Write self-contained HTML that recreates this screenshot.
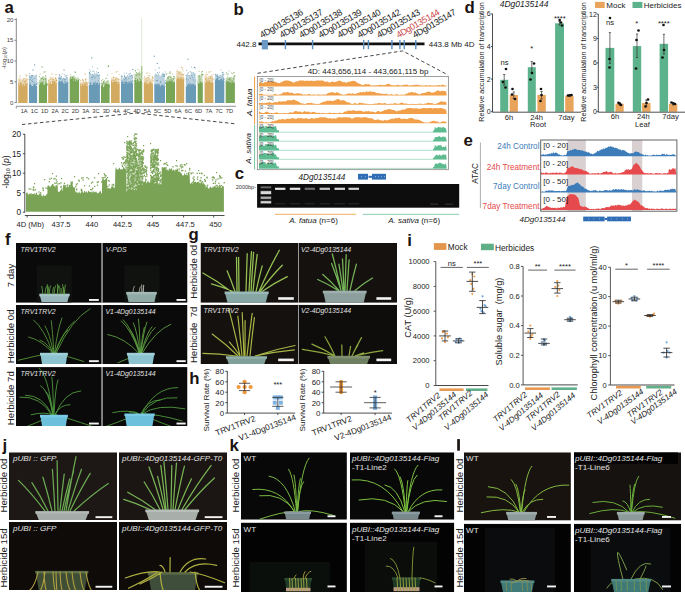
<!DOCTYPE html>
<html><head><meta charset="utf-8"><style>
html,body{margin:0;padding:0;background:#fff;}
body{width:685px;height:592px;overflow:hidden;}
svg{display:block;font-family:"Liberation Sans", sans-serif;}
</style></head><body>
<svg width="685" height="592" viewBox="0 0 685 592">
<rect width="685" height="592" fill="#fff"/>
<text x="4.5" y="12.6" font-size="16.8" fill="#1a1311" font-weight="bold">a</text>
<polygon points="18.2,85 18.2,79 19.1,78.2 20,80.4 20.9,77.8 21.8,79.9 22.7,79.1 23.6,77.8 24.5,79.8 25.4,77.7 26.3,79.5 27.2,77.8 27.6,85" fill="#d3ab60" opacity="0.45"/>
<polygon points="18.2,103 18.2,82.6 18.9,83.9 19.6,85.5 20.3,82.7 21,83.1 21.7,84.7 22.4,86 23.1,84.5 23.8,83.8 24.5,86.1 25.2,82.4 25.9,85.6 26.6,83.4 27.3,82.8 27.6,82.9 27.6,103" fill="#d3ab60"/>
<rect x="21.1" y="84.5" width="0.9" height="0.9" fill="#d3ab60"/>
<rect x="19.9" y="82.7" width="0.9" height="0.9" fill="#d3ab60"/>
<rect x="24.2" y="81.0" width="0.9" height="0.9" fill="#d3ab60"/>
<rect x="23.3" y="78.5" width="0.9" height="0.9" fill="#d3ab60"/>
<rect x="18.8" y="79.6" width="0.9" height="0.9" fill="#d3ab60"/>
<rect x="24.6" y="81.4" width="0.9" height="0.9" fill="#d3ab60"/>
<rect x="21.2" y="82.7" width="0.9" height="0.9" fill="#d3ab60"/>
<rect x="22.5" y="80.4" width="0.9" height="0.9" fill="#d3ab60"/>
<rect x="25.7" y="83.6" width="0.9" height="0.9" fill="#d3ab60"/>
<rect x="20.5" y="82.6" width="0.9" height="0.9" fill="#d3ab60"/>
<rect x="23.1" y="85.0" width="0.9" height="0.9" fill="#d3ab60"/>
<rect x="25.1" y="80.3" width="0.9" height="0.9" fill="#d3ab60"/>
<rect x="27.4" y="78.9" width="0.9" height="0.9" fill="#d3ab60"/>
<rect x="22.1" y="84.1" width="0.9" height="0.9" fill="#d3ab60"/>
<rect x="19.6" y="81.9" width="0.9" height="0.9" fill="#d3ab60"/>
<rect x="18.6" y="83.3" width="0.9" height="0.9" fill="#d3ab60"/>
<rect x="25.4" y="82.6" width="0.9" height="0.9" fill="#d3ab60"/>
<rect x="26.4" y="80.5" width="0.9" height="0.9" fill="#d3ab60"/>
<rect x="24.7" y="82.8" width="0.9" height="0.9" fill="#d3ab60"/>
<rect x="23.7" y="81.6" width="0.9" height="0.9" fill="#d3ab60"/>
<rect x="26.1" y="75.8" width="0.9" height="0.9" fill="#d3ab60" opacity="0.8"/>
<rect x="24.4" y="77.8" width="0.9" height="0.9" fill="#d3ab60" opacity="0.8"/>
<rect x="18.8" y="77.7" width="0.9" height="0.9" fill="#d3ab60" opacity="0.8"/>
<rect x="27.5" y="74.9" width="0.9" height="0.9" fill="#d3ab60" opacity="0.8"/>
<rect x="25.9" y="78.4" width="0.9" height="0.9" fill="#d3ab60" opacity="0.8"/>
<text x="24.2" y="113.1" font-size="5.7" fill="#333" text-anchor="middle">1A</text>
<polygon points="29,85 29,77.5 29.9,74.6 30.8,76.6 31.7,75.3 32.6,75 33.5,74.8 34.4,78 35.3,75.1 36.2,75.6 37.1,76.3 37.1,85" fill="#6a9bb6" opacity="0.45"/>
<polygon points="29,103 29,85.7 29.7,82.5 30.4,84 31.1,84.4 31.8,85.7 32.5,85.5 33.2,85.7 33.9,83.3 34.6,83.9 35.3,83.6 36,85.7 36.7,86 37.1,83 37.1,103" fill="#6a9bb6"/>
<rect x="30.4" y="77.6" width="0.9" height="0.9" fill="#6a9bb6"/>
<rect x="30.9" y="80.3" width="0.9" height="0.9" fill="#6a9bb6"/>
<rect x="33.8" y="77.9" width="0.9" height="0.9" fill="#6a9bb6"/>
<rect x="29.0" y="79.6" width="0.9" height="0.9" fill="#6a9bb6"/>
<rect x="32.0" y="81.2" width="0.9" height="0.9" fill="#6a9bb6"/>
<rect x="36.7" y="82.6" width="0.9" height="0.9" fill="#6a9bb6"/>
<rect x="33.2" y="81.8" width="0.9" height="0.9" fill="#6a9bb6"/>
<rect x="34.5" y="75.6" width="0.9" height="0.9" fill="#6a9bb6"/>
<rect x="36.3" y="83.6" width="0.9" height="0.9" fill="#6a9bb6"/>
<rect x="36.1" y="83.8" width="0.9" height="0.9" fill="#6a9bb6"/>
<rect x="32.2" y="79.4" width="0.9" height="0.9" fill="#6a9bb6"/>
<rect x="29.8" y="82.0" width="0.9" height="0.9" fill="#6a9bb6"/>
<rect x="29.5" y="75.7" width="0.9" height="0.9" fill="#6a9bb6"/>
<rect x="30.7" y="76.8" width="0.9" height="0.9" fill="#6a9bb6"/>
<rect x="31.8" y="75.6" width="0.9" height="0.9" fill="#6a9bb6"/>
<rect x="29.0" y="76.7" width="0.9" height="0.9" fill="#6a9bb6"/>
<rect x="29.8" y="79.0" width="0.9" height="0.9" fill="#6a9bb6"/>
<rect x="29.2" y="73.1" width="0.9" height="0.9" fill="#6a9bb6" opacity="0.8"/>
<rect x="36.1" y="74.7" width="0.9" height="0.9" fill="#6a9bb6" opacity="0.8"/>
<rect x="31.0" y="74.9" width="0.9" height="0.9" fill="#6a9bb6" opacity="0.8"/>
<rect x="31.8" y="75.0" width="0.9" height="0.9" fill="#6a9bb6" opacity="0.8"/>
<text x="34.5" y="113.1" font-size="5.7" fill="#333" text-anchor="middle">1C</text>
<polygon points="38.9,84 38.9,79.3 39.8,80 40.7,77.6 41.6,77.7 42.5,75.9 43.4,76 44.3,77 45.2,76.7 46.1,79.2 47,76.2 47,84" fill="#78a656" opacity="0.45"/>
<polygon points="38.9,103 38.9,81.3 39.6,85 40.3,83.3 41,81.8 41.7,83.4 42.4,81.3 43.1,83.3 43.8,85.1 44.5,84.7 45.2,84 45.9,82.2 46.6,82.7 47,82.1 47,103" fill="#78a656"/>
<rect x="45.2" y="80.8" width="0.9" height="0.9" fill="#78a656"/>
<rect x="45.2" y="79.0" width="0.9" height="0.9" fill="#78a656"/>
<rect x="40.7" y="83.3" width="0.9" height="0.9" fill="#78a656"/>
<rect x="46.9" y="83.7" width="0.9" height="0.9" fill="#78a656"/>
<rect x="45.4" y="83.4" width="0.9" height="0.9" fill="#78a656"/>
<rect x="44.9" y="78.0" width="0.9" height="0.9" fill="#78a656"/>
<rect x="43.1" y="79.2" width="0.9" height="0.9" fill="#78a656"/>
<rect x="39.1" y="76.3" width="0.9" height="0.9" fill="#78a656"/>
<rect x="41.2" y="78.3" width="0.9" height="0.9" fill="#78a656"/>
<rect x="44.5" y="84.6" width="0.9" height="0.9" fill="#78a656"/>
<rect x="42.5" y="84.4" width="0.9" height="0.9" fill="#78a656"/>
<rect x="46.9" y="84.6" width="0.9" height="0.9" fill="#78a656"/>
<rect x="41.9" y="78.0" width="0.9" height="0.9" fill="#78a656"/>
<rect x="40.7" y="77.8" width="0.9" height="0.9" fill="#78a656"/>
<rect x="40.6" y="81.6" width="0.9" height="0.9" fill="#78a656"/>
<rect x="46.2" y="83.6" width="0.9" height="0.9" fill="#78a656"/>
<rect x="42.8" y="81.9" width="0.9" height="0.9" fill="#78a656"/>
<rect x="45.4" y="75.8" width="0.9" height="0.9" fill="#78a656" opacity="0.8"/>
<rect x="39.6" y="73.5" width="0.9" height="0.9" fill="#78a656" opacity="0.8"/>
<rect x="45.2" y="71.4" width="0.9" height="0.9" fill="#78a656" opacity="0.8"/>
<rect x="45.0" y="75.1" width="0.9" height="0.9" fill="#78a656" opacity="0.8"/>
<text x="44.7" y="113.1" font-size="5.7" fill="#333" text-anchor="middle">1D</text>
<polygon points="48.2,83 48.2,80.1 49.1,78 50,80.1 50.9,80.9 51.8,78.3 52.7,78.3 53.6,80.8 54.5,79.8 55.4,77.3 56.3,77.1 56.9,83" fill="#d3ab60" opacity="0.45"/>
<polygon points="48.2,103 48.2,80.8 48.9,83.8 49.6,83.4 50.3,80.8 51,83.5 51.7,84.1 52.4,82.8 53.1,81.6 53.8,82.4 54.5,80.7 55.2,80.3 55.9,84.1 56.6,82.8 56.9,82.3 56.9,103" fill="#d3ab60"/>
<rect x="56.3" y="80.0" width="0.9" height="0.9" fill="#d3ab60"/>
<rect x="55.8" y="82.8" width="0.9" height="0.9" fill="#d3ab60"/>
<rect x="50.0" y="78.8" width="0.9" height="0.9" fill="#d3ab60"/>
<rect x="50.7" y="78.7" width="0.9" height="0.9" fill="#d3ab60"/>
<rect x="53.3" y="78.8" width="0.9" height="0.9" fill="#d3ab60"/>
<rect x="51.8" y="77.9" width="0.9" height="0.9" fill="#d3ab60"/>
<rect x="56.1" y="79.5" width="0.9" height="0.9" fill="#d3ab60"/>
<rect x="52.2" y="81.1" width="0.9" height="0.9" fill="#d3ab60"/>
<rect x="56.1" y="79.9" width="0.9" height="0.9" fill="#d3ab60"/>
<rect x="56.2" y="80.5" width="0.9" height="0.9" fill="#d3ab60"/>
<rect x="52.8" y="80.7" width="0.9" height="0.9" fill="#d3ab60"/>
<rect x="48.4" y="80.1" width="0.9" height="0.9" fill="#d3ab60"/>
<rect x="49.8" y="77.0" width="0.9" height="0.9" fill="#d3ab60"/>
<rect x="55.2" y="78.2" width="0.9" height="0.9" fill="#d3ab60"/>
<rect x="52.3" y="82.1" width="0.9" height="0.9" fill="#d3ab60"/>
<rect x="53.0" y="79.3" width="0.9" height="0.9" fill="#d3ab60"/>
<rect x="52.7" y="80.9" width="0.9" height="0.9" fill="#d3ab60"/>
<rect x="55.0" y="77.7" width="0.9" height="0.9" fill="#d3ab60"/>
<rect x="53.1" y="78.7" width="0.9" height="0.9" fill="#d3ab60"/>
<rect x="50.6" y="77.7" width="0.9" height="0.9" fill="#d3ab60" opacity="0.8"/>
<rect x="54.9" y="74.2" width="0.9" height="0.9" fill="#d3ab60" opacity="0.8"/>
<rect x="54.8" y="77.8" width="0.9" height="0.9" fill="#d3ab60" opacity="0.8"/>
<rect x="56.1" y="74.1" width="0.9" height="0.9" fill="#d3ab60" opacity="0.8"/>
<rect x="52.6" y="76.6" width="0.9" height="0.9" fill="#d3ab60" opacity="0.8"/>
<text x="55" y="113.1" font-size="5.7" fill="#333" text-anchor="middle">2A</text>
<polygon points="58.2,83 58.2,76.8 59.1,77.6 60,76.5 60.9,76.9 61.8,76.7 62.7,78.7 63.6,77.6 64.5,78.4 65.4,78.7 66.3,75.7 67.2,77 68.1,78.7 68.3,83" fill="#6a9bb6" opacity="0.45"/>
<polygon points="58.2,103 58.2,83.6 58.9,80.7 59.6,80.7 60.3,82 61,80.5 61.7,81.2 62.4,80.5 63.1,82.9 63.8,83.3 64.5,83.8 65.2,80.8 65.9,83.1 66.6,82.8 67.3,80.8 68,83.7 68.3,83.9 68.3,103" fill="#6a9bb6"/>
<rect x="60.4" y="83.6" width="0.9" height="0.9" fill="#6a9bb6"/>
<rect x="62.2" y="79.4" width="0.9" height="0.9" fill="#6a9bb6"/>
<rect x="68.2" y="82.5" width="0.9" height="0.9" fill="#6a9bb6"/>
<rect x="59.8" y="78.9" width="0.9" height="0.9" fill="#6a9bb6"/>
<rect x="63.4" y="78.1" width="0.9" height="0.9" fill="#6a9bb6"/>
<rect x="60.2" y="77.9" width="0.9" height="0.9" fill="#6a9bb6"/>
<rect x="65.5" y="75.2" width="0.9" height="0.9" fill="#6a9bb6"/>
<rect x="63.8" y="79.0" width="0.9" height="0.9" fill="#6a9bb6"/>
<rect x="58.4" y="78.0" width="0.9" height="0.9" fill="#6a9bb6"/>
<rect x="64.5" y="79.6" width="0.9" height="0.9" fill="#6a9bb6"/>
<rect x="58.8" y="83.9" width="0.9" height="0.9" fill="#6a9bb6"/>
<rect x="66.2" y="83.7" width="0.9" height="0.9" fill="#6a9bb6"/>
<rect x="59.3" y="77.4" width="0.9" height="0.9" fill="#6a9bb6"/>
<rect x="58.6" y="82.0" width="0.9" height="0.9" fill="#6a9bb6"/>
<rect x="60.9" y="76.2" width="0.9" height="0.9" fill="#6a9bb6"/>
<rect x="62.5" y="83.2" width="0.9" height="0.9" fill="#6a9bb6"/>
<rect x="66.5" y="77.3" width="0.9" height="0.9" fill="#6a9bb6"/>
<rect x="59.7" y="83.3" width="0.9" height="0.9" fill="#6a9bb6"/>
<rect x="64.0" y="81.3" width="0.9" height="0.9" fill="#6a9bb6"/>
<rect x="59.1" y="75.5" width="0.9" height="0.9" fill="#6a9bb6"/>
<rect x="65.2" y="78.8" width="0.9" height="0.9" fill="#6a9bb6"/>
<rect x="58.9" y="83.4" width="0.9" height="0.9" fill="#6a9bb6"/>
<rect x="64.6" y="75.6" width="0.9" height="0.9" fill="#6a9bb6" opacity="0.8"/>
<rect x="66.8" y="74.8" width="0.9" height="0.9" fill="#6a9bb6" opacity="0.8"/>
<rect x="58.9" y="73.9" width="0.9" height="0.9" fill="#6a9bb6" opacity="0.8"/>
<rect x="61.6" y="73.5" width="0.9" height="0.9" fill="#6a9bb6" opacity="0.8"/>
<rect x="63.8" y="73.9" width="0.9" height="0.9" fill="#6a9bb6" opacity="0.8"/>
<rect x="59.5" y="74.9" width="0.9" height="0.9" fill="#6a9bb6" opacity="0.8"/>
<text x="65.2" y="113.1" font-size="5.7" fill="#333" text-anchor="middle">2C</text>
<polygon points="69.7,81 69.7,77.9 70.6,76.6 71.5,76 72.4,76.2 73.3,75.7 74.2,76.4 75.1,76.9 76,76.9 76.9,78.9 77.8,76.8 78.7,77.8 79.1,81" fill="#78a656" opacity="0.45"/>
<polygon points="69.7,103 69.7,78.9 70.4,79.6 71.1,78.3 71.8,79.2 72.5,78.3 73.2,81.1 73.9,80.4 74.6,79 75.3,80.1 76,81.9 76.7,78.6 77.4,81.5 78.1,79.9 78.8,80.2 79.1,81.4 79.1,103" fill="#78a656"/>
<rect x="73.4" y="79.0" width="0.9" height="0.9" fill="#78a656"/>
<rect x="76.2" y="81.9" width="0.9" height="0.9" fill="#78a656"/>
<rect x="72.9" y="81.0" width="0.9" height="0.9" fill="#78a656"/>
<rect x="76.3" y="79.8" width="0.9" height="0.9" fill="#78a656"/>
<rect x="73.5" y="78.1" width="0.9" height="0.9" fill="#78a656"/>
<rect x="70.2" y="76.8" width="0.9" height="0.9" fill="#78a656"/>
<rect x="70.4" y="80.4" width="0.9" height="0.9" fill="#78a656"/>
<rect x="72.1" y="77.0" width="0.9" height="0.9" fill="#78a656"/>
<rect x="70.5" y="81.0" width="0.9" height="0.9" fill="#78a656"/>
<rect x="77.9" y="80.0" width="0.9" height="0.9" fill="#78a656"/>
<rect x="72.4" y="77.5" width="0.9" height="0.9" fill="#78a656"/>
<rect x="72.5" y="78.8" width="0.9" height="0.9" fill="#78a656"/>
<rect x="71.2" y="78.7" width="0.9" height="0.9" fill="#78a656"/>
<rect x="72.2" y="81.8" width="0.9" height="0.9" fill="#78a656"/>
<rect x="78.8" y="79.3" width="0.9" height="0.9" fill="#78a656"/>
<rect x="72.0" y="81.8" width="0.9" height="0.9" fill="#78a656"/>
<rect x="72.6" y="78.1" width="0.9" height="0.9" fill="#78a656"/>
<rect x="69.7" y="78.3" width="0.9" height="0.9" fill="#78a656"/>
<rect x="74.2" y="79.0" width="0.9" height="0.9" fill="#78a656"/>
<rect x="71.6" y="79.0" width="0.9" height="0.9" fill="#78a656"/>
<rect x="69.7" y="76.9" width="0.9" height="0.9" fill="#78a656" opacity="0.8"/>
<rect x="73.5" y="75.7" width="0.9" height="0.9" fill="#78a656" opacity="0.8"/>
<rect x="70.1" y="74.5" width="0.9" height="0.9" fill="#78a656" opacity="0.8"/>
<rect x="71.9" y="76.6" width="0.9" height="0.9" fill="#78a656" opacity="0.8"/>
<rect x="75.2" y="72.1" width="0.9" height="0.9" fill="#78a656" opacity="0.8"/>
<text x="75.5" y="113.1" font-size="5.7" fill="#333" text-anchor="middle">2D</text>
<polygon points="80.1,85 80.1,81.5 81,81.7 81.9,82.5 82.8,80.3 83.7,80 84.6,82.9 85.5,79.2 86.4,81.8 87.3,81.4 87.9,85" fill="#d3ab60" opacity="0.45"/>
<polygon points="80.1,103 80.1,82.4 80.8,85.5 81.5,85.8 82.2,84.7 82.9,85.1 83.6,85.4 84.3,82.8 85,84.3 85.7,84.2 86.4,85.5 87.1,85.4 87.8,85.5 87.9,84.5 87.9,103" fill="#d3ab60"/>
<rect x="87.1" y="83.8" width="0.9" height="0.9" fill="#d3ab60"/>
<rect x="85.5" y="80.6" width="0.9" height="0.9" fill="#d3ab60"/>
<rect x="80.3" y="79.9" width="0.9" height="0.9" fill="#d3ab60"/>
<rect x="82.9" y="79.7" width="0.9" height="0.9" fill="#d3ab60"/>
<rect x="86.6" y="82.9" width="0.9" height="0.9" fill="#d3ab60"/>
<rect x="85.0" y="83.4" width="0.9" height="0.9" fill="#d3ab60"/>
<rect x="85.4" y="82.4" width="0.9" height="0.9" fill="#d3ab60"/>
<rect x="80.1" y="84.6" width="0.9" height="0.9" fill="#d3ab60"/>
<rect x="85.9" y="82.5" width="0.9" height="0.9" fill="#d3ab60"/>
<rect x="84.3" y="83.6" width="0.9" height="0.9" fill="#d3ab60"/>
<rect x="80.6" y="84.2" width="0.9" height="0.9" fill="#d3ab60"/>
<rect x="82.1" y="79.5" width="0.9" height="0.9" fill="#d3ab60"/>
<rect x="82.2" y="84.1" width="0.9" height="0.9" fill="#d3ab60"/>
<rect x="81.7" y="84.2" width="0.9" height="0.9" fill="#d3ab60"/>
<rect x="87.7" y="82.5" width="0.9" height="0.9" fill="#d3ab60"/>
<rect x="83.1" y="82.4" width="0.9" height="0.9" fill="#d3ab60"/>
<rect x="85.4" y="84.4" width="0.9" height="0.9" fill="#d3ab60"/>
<rect x="84.9" y="79.1" width="0.9" height="0.9" fill="#d3ab60" opacity="0.8"/>
<rect x="85.1" y="78.5" width="0.9" height="0.9" fill="#d3ab60" opacity="0.8"/>
<rect x="82.1" y="79.2" width="0.9" height="0.9" fill="#d3ab60" opacity="0.8"/>
<rect x="85.9" y="78.7" width="0.9" height="0.9" fill="#d3ab60" opacity="0.8"/>
<text x="85.8" y="113.1" font-size="5.7" fill="#333" text-anchor="middle">3A</text>
<polygon points="88.8,84 88.8,71.6 89.7,71.8 90.6,72.7 91.5,74.5 92.4,74.6 93.3,74.5 94.2,72.8 95.1,73.8 96,73.6 96.9,73.6 97.8,72 98.7,75.5 99.6,72.4 99.9,84" fill="#6a9bb6" opacity="0.45"/>
<polygon points="88.8,103 88.8,85.1 89.5,84.9 90.2,81.3 90.9,83 91.6,84.5 92.3,85.1 93,83 93.7,82.3 94.4,82 95.1,85 95.8,82 96.5,83.5 97.2,81.8 97.9,83.3 98.6,85 99.3,81.7 99.9,84.4 99.9,103" fill="#6a9bb6"/>
<rect x="94.4" y="83.5" width="0.9" height="0.9" fill="#6a9bb6"/>
<rect x="96.6" y="75.0" width="0.9" height="0.9" fill="#6a9bb6"/>
<rect x="98.8" y="78.3" width="0.9" height="0.9" fill="#6a9bb6"/>
<rect x="89.1" y="72.0" width="0.9" height="0.9" fill="#6a9bb6"/>
<rect x="94.3" y="77.9" width="0.9" height="0.9" fill="#6a9bb6"/>
<rect x="92.2" y="73.8" width="0.9" height="0.9" fill="#6a9bb6"/>
<rect x="92.6" y="76.1" width="0.9" height="0.9" fill="#6a9bb6"/>
<rect x="98.1" y="72.0" width="0.9" height="0.9" fill="#6a9bb6"/>
<rect x="97.1" y="82.9" width="0.9" height="0.9" fill="#6a9bb6"/>
<rect x="90.1" y="84.0" width="0.9" height="0.9" fill="#6a9bb6"/>
<rect x="96.7" y="83.7" width="0.9" height="0.9" fill="#6a9bb6"/>
<rect x="92.0" y="76.8" width="0.9" height="0.9" fill="#6a9bb6"/>
<rect x="93.2" y="85.0" width="0.9" height="0.9" fill="#6a9bb6"/>
<rect x="95.3" y="76.7" width="0.9" height="0.9" fill="#6a9bb6"/>
<rect x="93.6" y="75.6" width="0.9" height="0.9" fill="#6a9bb6"/>
<rect x="89.3" y="73.3" width="0.9" height="0.9" fill="#6a9bb6"/>
<rect x="98.1" y="75.7" width="0.9" height="0.9" fill="#6a9bb6"/>
<rect x="99.2" y="75.2" width="0.9" height="0.9" fill="#6a9bb6"/>
<rect x="91.7" y="78.6" width="0.9" height="0.9" fill="#6a9bb6"/>
<rect x="90.9" y="76.9" width="0.9" height="0.9" fill="#6a9bb6"/>
<rect x="99.4" y="83.5" width="0.9" height="0.9" fill="#6a9bb6"/>
<rect x="97.8" y="80.2" width="0.9" height="0.9" fill="#6a9bb6"/>
<rect x="98.9" y="84.2" width="0.9" height="0.9" fill="#6a9bb6"/>
<rect x="94.9" y="81.4" width="0.9" height="0.9" fill="#6a9bb6"/>
<rect x="89.3" y="69.3" width="0.9" height="0.9" fill="#6a9bb6" opacity="0.8"/>
<rect x="96.9" y="68.2" width="0.9" height="0.9" fill="#6a9bb6" opacity="0.8"/>
<rect x="96.0" y="71.5" width="0.9" height="0.9" fill="#6a9bb6" opacity="0.8"/>
<rect x="92.0" y="66.5" width="0.9" height="0.9" fill="#6a9bb6" opacity="0.8"/>
<rect x="90.2" y="70.9" width="0.9" height="0.9" fill="#6a9bb6" opacity="0.8"/>
<rect x="94.0" y="71.6" width="0.9" height="0.9" fill="#6a9bb6" opacity="0.8"/>
<text x="96" y="113.1" font-size="5.7" fill="#333" text-anchor="middle">3C</text>
<polygon points="101,86 101,82.8 101.9,83.9 102.8,80.7 103.7,82.5 104.6,80.9 105.5,82 106.4,81.3 107.3,80.3 108.2,80.2 109.1,80.4 109.6,86" fill="#78a656" opacity="0.45"/>
<polygon points="101,103 101,86.8 101.7,85.2 102.4,84.1 103.1,86.8 103.8,87.2 104.5,85 105.2,83.8 105.9,84 106.6,83.6 107.3,84.6 108,83.6 108.7,84.2 109.4,84.2 109.6,85.5 109.6,103" fill="#78a656"/>
<rect x="108.6" y="85.2" width="0.9" height="0.9" fill="#78a656"/>
<rect x="104.5" y="82.9" width="0.9" height="0.9" fill="#78a656"/>
<rect x="105.5" y="82.6" width="0.9" height="0.9" fill="#78a656"/>
<rect x="103.9" y="80.4" width="0.9" height="0.9" fill="#78a656"/>
<rect x="103.4" y="86.8" width="0.9" height="0.9" fill="#78a656"/>
<rect x="102.1" y="83.5" width="0.9" height="0.9" fill="#78a656"/>
<rect x="106.4" y="86.0" width="0.9" height="0.9" fill="#78a656"/>
<rect x="102.9" y="81.9" width="0.9" height="0.9" fill="#78a656"/>
<rect x="103.1" y="82.8" width="0.9" height="0.9" fill="#78a656"/>
<rect x="104.8" y="86.7" width="0.9" height="0.9" fill="#78a656"/>
<rect x="108.3" y="86.1" width="0.9" height="0.9" fill="#78a656"/>
<rect x="101.2" y="80.2" width="0.9" height="0.9" fill="#78a656"/>
<rect x="107.1" y="86.3" width="0.9" height="0.9" fill="#78a656"/>
<rect x="105.1" y="84.1" width="0.9" height="0.9" fill="#78a656"/>
<rect x="101.0" y="82.7" width="0.9" height="0.9" fill="#78a656"/>
<rect x="109.0" y="85.8" width="0.9" height="0.9" fill="#78a656"/>
<rect x="108.4" y="86.8" width="0.9" height="0.9" fill="#78a656"/>
<rect x="103.1" y="80.8" width="0.9" height="0.9" fill="#78a656"/>
<rect x="102.3" y="78.9" width="0.9" height="0.9" fill="#78a656" opacity="0.8"/>
<rect x="105.5" y="78.0" width="0.9" height="0.9" fill="#78a656" opacity="0.8"/>
<rect x="107.2" y="74.5" width="0.9" height="0.9" fill="#78a656" opacity="0.8"/>
<rect x="106.6" y="80.7" width="0.9" height="0.9" fill="#78a656" opacity="0.8"/>
<rect x="105.7" y="77.7" width="0.9" height="0.9" fill="#78a656" opacity="0.8"/>
<text x="106.3" y="113.1" font-size="5.7" fill="#333" text-anchor="middle">3D</text>
<polygon points="111,83 111,76.7 111.9,80 112.8,77.5 113.7,80.6 114.6,79.4 115.5,77.9 116.4,77.1 117.3,77.6 118.2,79.4 119.1,79.6 119.7,83" fill="#d3ab60" opacity="0.45"/>
<polygon points="111,103 111,80.6 111.7,80.5 112.4,82.3 113.1,82.5 113.8,81.8 114.5,81.1 115.2,82.6 115.9,80.2 116.6,81.4 117.3,82 118,84 118.7,82.8 119.4,83.7 119.7,82.2 119.7,103" fill="#d3ab60"/>
<rect x="113.0" y="78.7" width="0.9" height="0.9" fill="#d3ab60"/>
<rect x="119.4" y="81.9" width="0.9" height="0.9" fill="#d3ab60"/>
<rect x="113.7" y="77.2" width="0.9" height="0.9" fill="#d3ab60"/>
<rect x="115.3" y="81.7" width="0.9" height="0.9" fill="#d3ab60"/>
<rect x="114.7" y="78.8" width="0.9" height="0.9" fill="#d3ab60"/>
<rect x="116.8" y="83.5" width="0.9" height="0.9" fill="#d3ab60"/>
<rect x="113.0" y="77.2" width="0.9" height="0.9" fill="#d3ab60"/>
<rect x="113.9" y="79.9" width="0.9" height="0.9" fill="#d3ab60"/>
<rect x="116.9" y="78.4" width="0.9" height="0.9" fill="#d3ab60"/>
<rect x="117.9" y="82.2" width="0.9" height="0.9" fill="#d3ab60"/>
<rect x="115.4" y="78.4" width="0.9" height="0.9" fill="#d3ab60"/>
<rect x="119.4" y="79.2" width="0.9" height="0.9" fill="#d3ab60"/>
<rect x="118.1" y="78.6" width="0.9" height="0.9" fill="#d3ab60"/>
<rect x="112.9" y="82.3" width="0.9" height="0.9" fill="#d3ab60"/>
<rect x="113.6" y="83.7" width="0.9" height="0.9" fill="#d3ab60"/>
<rect x="115.3" y="78.3" width="0.9" height="0.9" fill="#d3ab60"/>
<rect x="112.9" y="79.9" width="0.9" height="0.9" fill="#d3ab60"/>
<rect x="116.8" y="83.6" width="0.9" height="0.9" fill="#d3ab60"/>
<rect x="112.3" y="79.8" width="0.9" height="0.9" fill="#d3ab60"/>
<rect x="112.9" y="76.4" width="0.9" height="0.9" fill="#d3ab60" opacity="0.8"/>
<rect x="111.5" y="77.7" width="0.9" height="0.9" fill="#d3ab60" opacity="0.8"/>
<rect x="111.5" y="73.0" width="0.9" height="0.9" fill="#d3ab60" opacity="0.8"/>
<rect x="118.7" y="74.0" width="0.9" height="0.9" fill="#d3ab60" opacity="0.8"/>
<rect x="117.4" y="71.1" width="0.9" height="0.9" fill="#d3ab60" opacity="0.8"/>
<text x="116.5" y="113.1" font-size="5.7" fill="#333" text-anchor="middle">4A</text>
<polygon points="121,83 121,76 121.9,75.3 122.8,78.7 123.7,77.9 124.6,74.6 125.5,77.5 126.4,76.2 127.3,76.2 128.2,76 129.1,75.3 130,74.5 130.9,75.8 131.8,76.1 132.7,78.8 133,83" fill="#6a9bb6" opacity="0.45"/>
<polygon points="121,103 121,80.7 121.7,84.1 122.4,81 123.1,81.6 123.8,83.5 124.5,83.5 125.2,81.9 125.9,80.4 126.6,82.1 127.3,81.7 128,83.9 128.7,81 129.4,81.7 130.1,83.8 130.8,80.3 131.5,81.8 132.2,83.4 132.9,83.3 133,80.6 133,103" fill="#6a9bb6"/>
<rect x="121.4" y="75.6" width="0.9" height="0.9" fill="#6a9bb6"/>
<rect x="132.0" y="77.3" width="0.9" height="0.9" fill="#6a9bb6"/>
<rect x="130.0" y="83.1" width="0.9" height="0.9" fill="#6a9bb6"/>
<rect x="125.1" y="77.5" width="0.9" height="0.9" fill="#6a9bb6"/>
<rect x="132.5" y="80.6" width="0.9" height="0.9" fill="#6a9bb6"/>
<rect x="124.1" y="81.4" width="0.9" height="0.9" fill="#6a9bb6"/>
<rect x="124.8" y="77.5" width="0.9" height="0.9" fill="#6a9bb6"/>
<rect x="121.0" y="81.8" width="0.9" height="0.9" fill="#6a9bb6"/>
<rect x="132.0" y="80.7" width="0.9" height="0.9" fill="#6a9bb6"/>
<rect x="132.3" y="75.2" width="0.9" height="0.9" fill="#6a9bb6"/>
<rect x="123.8" y="79.3" width="0.9" height="0.9" fill="#6a9bb6"/>
<rect x="132.5" y="83.6" width="0.9" height="0.9" fill="#6a9bb6"/>
<rect x="125.6" y="77.3" width="0.9" height="0.9" fill="#6a9bb6"/>
<rect x="126.2" y="79.4" width="0.9" height="0.9" fill="#6a9bb6"/>
<rect x="132.1" y="76.6" width="0.9" height="0.9" fill="#6a9bb6"/>
<rect x="130.6" y="81.6" width="0.9" height="0.9" fill="#6a9bb6"/>
<rect x="130.9" y="82.0" width="0.9" height="0.9" fill="#6a9bb6"/>
<rect x="128.3" y="78.0" width="0.9" height="0.9" fill="#6a9bb6"/>
<rect x="124.8" y="78.3" width="0.9" height="0.9" fill="#6a9bb6"/>
<rect x="130.4" y="75.7" width="0.9" height="0.9" fill="#6a9bb6"/>
<rect x="123.4" y="81.8" width="0.9" height="0.9" fill="#6a9bb6"/>
<rect x="124.0" y="75.6" width="0.9" height="0.9" fill="#6a9bb6"/>
<rect x="121.4" y="80.0" width="0.9" height="0.9" fill="#6a9bb6"/>
<rect x="124.9" y="83.8" width="0.9" height="0.9" fill="#6a9bb6"/>
<rect x="131.6" y="83.9" width="0.9" height="0.9" fill="#6a9bb6"/>
<rect x="124.2" y="75.8" width="0.9" height="0.9" fill="#6a9bb6"/>
<rect x="122.2" y="75.9" width="0.9" height="0.9" fill="#6a9bb6" opacity="0.8"/>
<rect x="127.0" y="75.2" width="0.9" height="0.9" fill="#6a9bb6" opacity="0.8"/>
<rect x="123.8" y="72.8" width="0.9" height="0.9" fill="#6a9bb6" opacity="0.8"/>
<rect x="126.0" y="72.7" width="0.9" height="0.9" fill="#6a9bb6" opacity="0.8"/>
<rect x="130.0" y="72.9" width="0.9" height="0.9" fill="#6a9bb6" opacity="0.8"/>
<rect x="131.2" y="75.2" width="0.9" height="0.9" fill="#6a9bb6" opacity="0.8"/>
<rect x="131.1" y="74.7" width="0.9" height="0.9" fill="#6a9bb6" opacity="0.8"/>
<text x="126.8" y="113.1" font-size="5.7" fill="#333" text-anchor="middle">4C</text>
<polygon points="134.3,81 134.3,72.8 135.2,74.1 136.1,73.2 137,74.8 137.9,72.4 138.8,72.6 139.7,72.6 140.6,72.2 141.5,75.5 142.2,81" fill="#78a656" opacity="0.45"/>
<polygon points="134.3,103 134.3,80.5 135,79.5 135.7,79.8 136.4,82.2 137.1,80.2 137.8,79.1 138.5,81.4 139.2,80.8 139.9,82.2 140.6,78.6 141.3,80.1 142,81.5 142.2,81.4 142.2,103" fill="#78a656"/>
<rect x="141.5" y="72.4" width="0.9" height="0.9" fill="#78a656"/>
<rect x="136.6" y="73.2" width="0.9" height="0.9" fill="#78a656"/>
<rect x="135.8" y="81.7" width="0.9" height="0.9" fill="#78a656"/>
<rect x="138.9" y="81.3" width="0.9" height="0.9" fill="#78a656"/>
<rect x="137.2" y="80.7" width="0.9" height="0.9" fill="#78a656"/>
<rect x="137.8" y="74.6" width="0.9" height="0.9" fill="#78a656"/>
<rect x="140.4" y="81.5" width="0.9" height="0.9" fill="#78a656"/>
<rect x="135.1" y="78.0" width="0.9" height="0.9" fill="#78a656"/>
<rect x="139.2" y="74.2" width="0.9" height="0.9" fill="#78a656"/>
<rect x="137.2" y="73.4" width="0.9" height="0.9" fill="#78a656"/>
<rect x="135.9" y="74.5" width="0.9" height="0.9" fill="#78a656"/>
<rect x="139.0" y="78.5" width="0.9" height="0.9" fill="#78a656"/>
<rect x="135.9" y="72.1" width="0.9" height="0.9" fill="#78a656"/>
<rect x="136.9" y="78.8" width="0.9" height="0.9" fill="#78a656"/>
<rect x="135.8" y="75.1" width="0.9" height="0.9" fill="#78a656"/>
<rect x="135.9" y="80.0" width="0.9" height="0.9" fill="#78a656"/>
<rect x="138.6" y="72.6" width="0.9" height="0.9" fill="#78a656"/>
<rect x="135.1" y="70.0" width="0.9" height="0.9" fill="#78a656" opacity="0.8"/>
<rect x="139.3" y="70.7" width="0.9" height="0.9" fill="#78a656" opacity="0.8"/>
<rect x="135.0" y="70.6" width="0.9" height="0.9" fill="#78a656" opacity="0.8"/>
<rect x="137.5" y="69.0" width="0.9" height="0.9" fill="#78a656" opacity="0.8"/>
<text x="137.1" y="113.1" font-size="5.7" fill="#333" text-anchor="middle">4D</text>
<polygon points="143.8,84 143.8,76.8 144.7,76.9 145.6,79.8 146.5,76.9 147.4,78 148.3,77.1 149.2,77.4 150.1,79.4 151,80 151.9,77.1 152.8,76.4 153,84" fill="#d3ab60" opacity="0.45"/>
<polygon points="143.8,103 143.8,84.1 144.5,82 145.2,81.2 145.9,84.8 146.6,82.9 147.3,84.5 148,82.8 148.7,84.7 149.4,83 150.1,81.9 150.8,81.3 151.5,83.4 152.2,83.8 152.9,84.8 153,81.8 153,103" fill="#d3ab60"/>
<rect x="149.5" y="79.3" width="0.9" height="0.9" fill="#d3ab60"/>
<rect x="148.4" y="77.3" width="0.9" height="0.9" fill="#d3ab60"/>
<rect x="146.4" y="80.7" width="0.9" height="0.9" fill="#d3ab60"/>
<rect x="152.3" y="77.0" width="0.9" height="0.9" fill="#d3ab60"/>
<rect x="148.3" y="83.2" width="0.9" height="0.9" fill="#d3ab60"/>
<rect x="152.7" y="77.8" width="0.9" height="0.9" fill="#d3ab60"/>
<rect x="145.0" y="84.5" width="0.9" height="0.9" fill="#d3ab60"/>
<rect x="152.8" y="80.3" width="0.9" height="0.9" fill="#d3ab60"/>
<rect x="144.3" y="84.3" width="0.9" height="0.9" fill="#d3ab60"/>
<rect x="147.4" y="84.1" width="0.9" height="0.9" fill="#d3ab60"/>
<rect x="149.5" y="83.4" width="0.9" height="0.9" fill="#d3ab60"/>
<rect x="145.3" y="83.1" width="0.9" height="0.9" fill="#d3ab60"/>
<rect x="145.8" y="79.6" width="0.9" height="0.9" fill="#d3ab60"/>
<rect x="151.6" y="83.5" width="0.9" height="0.9" fill="#d3ab60"/>
<rect x="145.5" y="78.0" width="0.9" height="0.9" fill="#d3ab60"/>
<rect x="147.5" y="80.7" width="0.9" height="0.9" fill="#d3ab60"/>
<rect x="147.3" y="77.1" width="0.9" height="0.9" fill="#d3ab60"/>
<rect x="146.1" y="82.5" width="0.9" height="0.9" fill="#d3ab60"/>
<rect x="152.1" y="76.4" width="0.9" height="0.9" fill="#d3ab60"/>
<rect x="149.0" y="82.8" width="0.9" height="0.9" fill="#d3ab60"/>
<rect x="144.2" y="76.2" width="0.9" height="0.9" fill="#d3ab60" opacity="0.8"/>
<rect x="149.3" y="75.7" width="0.9" height="0.9" fill="#d3ab60" opacity="0.8"/>
<rect x="148.9" y="75.2" width="0.9" height="0.9" fill="#d3ab60" opacity="0.8"/>
<rect x="147.7" y="75.2" width="0.9" height="0.9" fill="#d3ab60" opacity="0.8"/>
<rect x="149.2" y="73.1" width="0.9" height="0.9" fill="#d3ab60" opacity="0.8"/>
<text x="147.3" y="113.1" font-size="5.7" fill="#333" text-anchor="middle">5A</text>
<polygon points="154.3,86 154.3,74.5 155.2,74.5 156.1,72.6 157,75.3 157.9,74.7 158.8,73.6 159.7,75.9 160.6,76 161.5,74.6 162.4,73.3 163.3,74.6 164.2,73 165,86" fill="#6a9bb6" opacity="0.45"/>
<polygon points="154.3,103 154.3,83.7 155,84.9 155.7,83.6 156.4,85 157.1,85.2 157.8,83.4 158.5,85.7 159.2,83.5 159.9,86.1 160.6,86.3 161.3,85.2 162,83.4 162.7,85.2 163.4,84.7 164.1,87 164.8,83.7 165,86.5 165,103" fill="#6a9bb6"/>
<rect x="165.0" y="83.2" width="0.9" height="0.9" fill="#6a9bb6"/>
<rect x="163.0" y="75.7" width="0.9" height="0.9" fill="#6a9bb6"/>
<rect x="164.8" y="79.9" width="0.9" height="0.9" fill="#6a9bb6"/>
<rect x="164.5" y="85.8" width="0.9" height="0.9" fill="#6a9bb6"/>
<rect x="156.1" y="84.0" width="0.9" height="0.9" fill="#6a9bb6"/>
<rect x="164.3" y="73.9" width="0.9" height="0.9" fill="#6a9bb6"/>
<rect x="158.1" y="83.6" width="0.9" height="0.9" fill="#6a9bb6"/>
<rect x="156.0" y="85.6" width="0.9" height="0.9" fill="#6a9bb6"/>
<rect x="157.2" y="84.4" width="0.9" height="0.9" fill="#6a9bb6"/>
<rect x="155.8" y="80.0" width="0.9" height="0.9" fill="#6a9bb6"/>
<rect x="164.1" y="75.9" width="0.9" height="0.9" fill="#6a9bb6"/>
<rect x="157.1" y="80.1" width="0.9" height="0.9" fill="#6a9bb6"/>
<rect x="157.7" y="73.5" width="0.9" height="0.9" fill="#6a9bb6"/>
<rect x="156.2" y="75.3" width="0.9" height="0.9" fill="#6a9bb6"/>
<rect x="164.3" y="82.5" width="0.9" height="0.9" fill="#6a9bb6"/>
<rect x="163.9" y="75.4" width="0.9" height="0.9" fill="#6a9bb6"/>
<rect x="162.7" y="74.6" width="0.9" height="0.9" fill="#6a9bb6"/>
<rect x="160.0" y="81.9" width="0.9" height="0.9" fill="#6a9bb6"/>
<rect x="158.1" y="85.2" width="0.9" height="0.9" fill="#6a9bb6"/>
<rect x="160.2" y="81.1" width="0.9" height="0.9" fill="#6a9bb6"/>
<rect x="163.7" y="74.5" width="0.9" height="0.9" fill="#6a9bb6"/>
<rect x="164.9" y="81.8" width="0.9" height="0.9" fill="#6a9bb6"/>
<rect x="158.5" y="84.2" width="0.9" height="0.9" fill="#6a9bb6"/>
<rect x="157.1" y="72.0" width="0.9" height="0.9" fill="#6a9bb6" opacity="0.8"/>
<rect x="164.9" y="71.5" width="0.9" height="0.9" fill="#6a9bb6" opacity="0.8"/>
<rect x="162.5" y="72.7" width="0.9" height="0.9" fill="#6a9bb6" opacity="0.8"/>
<rect x="159.0" y="71.8" width="0.9" height="0.9" fill="#6a9bb6" opacity="0.8"/>
<rect x="154.8" y="69.6" width="0.9" height="0.9" fill="#6a9bb6" opacity="0.8"/>
<rect x="163.1" y="73.9" width="0.9" height="0.9" fill="#6a9bb6" opacity="0.8"/>
<text x="157.6" y="113.1" font-size="5.7" fill="#333" text-anchor="middle">5C</text>
<polygon points="166,83 166,79.9 166.9,78.1 167.8,78.5 168.7,76.9 169.6,75.5 170.5,75.7 171.4,76.2 172.3,78.3 173.2,77.4 174.1,77.8 175,83" fill="#78a656" opacity="0.45"/>
<polygon points="166,103 166,83.8 166.7,80.7 167.4,81.1 168.1,82.8 168.8,80.3 169.5,80.2 170.2,81.6 170.9,80.6 171.6,81.6 172.3,81.1 173,82.5 173.7,82.6 174.4,81 175,82.7 175,103" fill="#78a656"/>
<rect x="170.3" y="77.1" width="0.9" height="0.9" fill="#78a656"/>
<rect x="174.4" y="77.9" width="0.9" height="0.9" fill="#78a656"/>
<rect x="167.3" y="76.8" width="0.9" height="0.9" fill="#78a656"/>
<rect x="171.7" y="83.0" width="0.9" height="0.9" fill="#78a656"/>
<rect x="173.0" y="79.2" width="0.9" height="0.9" fill="#78a656"/>
<rect x="168.4" y="76.1" width="0.9" height="0.9" fill="#78a656"/>
<rect x="171.8" y="80.5" width="0.9" height="0.9" fill="#78a656"/>
<rect x="169.2" y="81.2" width="0.9" height="0.9" fill="#78a656"/>
<rect x="170.0" y="83.5" width="0.9" height="0.9" fill="#78a656"/>
<rect x="172.6" y="78.0" width="0.9" height="0.9" fill="#78a656"/>
<rect x="174.1" y="76.4" width="0.9" height="0.9" fill="#78a656"/>
<rect x="170.8" y="79.2" width="0.9" height="0.9" fill="#78a656"/>
<rect x="168.1" y="76.5" width="0.9" height="0.9" fill="#78a656"/>
<rect x="173.0" y="76.1" width="0.9" height="0.9" fill="#78a656"/>
<rect x="171.0" y="83.5" width="0.9" height="0.9" fill="#78a656"/>
<rect x="167.3" y="77.6" width="0.9" height="0.9" fill="#78a656"/>
<rect x="171.5" y="80.1" width="0.9" height="0.9" fill="#78a656"/>
<rect x="171.8" y="82.5" width="0.9" height="0.9" fill="#78a656"/>
<rect x="167.6" y="78.5" width="0.9" height="0.9" fill="#78a656"/>
<rect x="168.7" y="72.7" width="0.9" height="0.9" fill="#78a656" opacity="0.8"/>
<rect x="166.4" y="73.0" width="0.9" height="0.9" fill="#78a656" opacity="0.8"/>
<rect x="172.4" y="73.6" width="0.9" height="0.9" fill="#78a656" opacity="0.8"/>
<rect x="166.1" y="74.2" width="0.9" height="0.9" fill="#78a656" opacity="0.8"/>
<rect x="170.2" y="72.9" width="0.9" height="0.9" fill="#78a656" opacity="0.8"/>
<text x="167.8" y="113.1" font-size="5.7" fill="#333" text-anchor="middle">5D</text>
<polygon points="176.2,79 176.2,73.8 177.1,72.5 178,71.5 178.9,71 179.8,71.5 180.7,70.7 181.6,72 182.5,73.9 183.4,73.6 184.2,79" fill="#d3ab60" opacity="0.45"/>
<polygon points="176.2,103 176.2,79.6 176.9,79 177.6,77.3 178.3,78.4 179,77.9 179.7,79.4 180.4,78.3 181.1,77.3 181.8,78.8 182.5,80.1 183.2,77.1 183.9,79.7 184.2,76.6 184.2,103" fill="#d3ab60"/>
<rect x="178.3" y="73.1" width="0.9" height="0.9" fill="#d3ab60"/>
<rect x="182.2" y="79.5" width="0.9" height="0.9" fill="#d3ab60"/>
<rect x="182.2" y="73.9" width="0.9" height="0.9" fill="#d3ab60"/>
<rect x="183.2" y="74.0" width="0.9" height="0.9" fill="#d3ab60"/>
<rect x="178.1" y="79.2" width="0.9" height="0.9" fill="#d3ab60"/>
<rect x="181.2" y="77.2" width="0.9" height="0.9" fill="#d3ab60"/>
<rect x="181.5" y="79.8" width="0.9" height="0.9" fill="#d3ab60"/>
<rect x="180.0" y="78.6" width="0.9" height="0.9" fill="#d3ab60"/>
<rect x="181.8" y="78.7" width="0.9" height="0.9" fill="#d3ab60"/>
<rect x="179.7" y="77.5" width="0.9" height="0.9" fill="#d3ab60"/>
<rect x="180.8" y="73.8" width="0.9" height="0.9" fill="#d3ab60"/>
<rect x="177.9" y="76.6" width="0.9" height="0.9" fill="#d3ab60"/>
<rect x="176.8" y="79.2" width="0.9" height="0.9" fill="#d3ab60"/>
<rect x="177.4" y="71.2" width="0.9" height="0.9" fill="#d3ab60"/>
<rect x="177.1" y="79.4" width="0.9" height="0.9" fill="#d3ab60"/>
<rect x="179.0" y="72.3" width="0.9" height="0.9" fill="#d3ab60"/>
<rect x="176.4" y="71.4" width="0.9" height="0.9" fill="#d3ab60"/>
<rect x="181.7" y="68.9" width="0.9" height="0.9" fill="#d3ab60" opacity="0.8"/>
<rect x="182.1" y="68.5" width="0.9" height="0.9" fill="#d3ab60" opacity="0.8"/>
<rect x="176.7" y="69.6" width="0.9" height="0.9" fill="#d3ab60" opacity="0.8"/>
<rect x="182.7" y="70.5" width="0.9" height="0.9" fill="#d3ab60" opacity="0.8"/>
<text x="178.1" y="113.1" font-size="5.7" fill="#333" text-anchor="middle">6A</text>
<polygon points="185.8,86 185.8,75.2 186.7,75.5 187.6,71.8 188.5,75.4 189.4,75.6 190.3,75.7 191.2,72 192.1,72.4 193,72 193.9,71.7 194.8,75.3 195.7,75.2 196,86" fill="#6a9bb6" opacity="0.45"/>
<polygon points="185.8,103 185.8,85.7 186.5,86.5 187.2,85.7 187.9,84.3 188.6,83.6 189.3,83.6 190,86.2 190.7,84 191.4,84.5 192.1,84.9 192.8,83.3 193.5,84.2 194.2,84.3 194.9,86.1 195.6,84.7 196,84.6 196,103" fill="#6a9bb6"/>
<rect x="195.6" y="79.6" width="0.9" height="0.9" fill="#6a9bb6"/>
<rect x="194.5" y="81.3" width="0.9" height="0.9" fill="#6a9bb6"/>
<rect x="186.1" y="78.2" width="0.9" height="0.9" fill="#6a9bb6"/>
<rect x="190.3" y="83.6" width="0.9" height="0.9" fill="#6a9bb6"/>
<rect x="189.3" y="82.6" width="0.9" height="0.9" fill="#6a9bb6"/>
<rect x="191.3" y="75.2" width="0.9" height="0.9" fill="#6a9bb6"/>
<rect x="194.6" y="73.4" width="0.9" height="0.9" fill="#6a9bb6"/>
<rect x="194.2" y="74.6" width="0.9" height="0.9" fill="#6a9bb6"/>
<rect x="185.8" y="75.0" width="0.9" height="0.9" fill="#6a9bb6"/>
<rect x="193.6" y="86.7" width="0.9" height="0.9" fill="#6a9bb6"/>
<rect x="185.8" y="79.4" width="0.9" height="0.9" fill="#6a9bb6"/>
<rect x="190.8" y="84.0" width="0.9" height="0.9" fill="#6a9bb6"/>
<rect x="187.7" y="79.4" width="0.9" height="0.9" fill="#6a9bb6"/>
<rect x="189.3" y="84.5" width="0.9" height="0.9" fill="#6a9bb6"/>
<rect x="188.5" y="86.2" width="0.9" height="0.9" fill="#6a9bb6"/>
<rect x="188.7" y="75.2" width="0.9" height="0.9" fill="#6a9bb6"/>
<rect x="192.9" y="79.5" width="0.9" height="0.9" fill="#6a9bb6"/>
<rect x="186.9" y="81.5" width="0.9" height="0.9" fill="#6a9bb6"/>
<rect x="186.6" y="83.8" width="0.9" height="0.9" fill="#6a9bb6"/>
<rect x="192.9" y="83.8" width="0.9" height="0.9" fill="#6a9bb6"/>
<rect x="192.2" y="77.3" width="0.9" height="0.9" fill="#6a9bb6"/>
<rect x="189.9" y="77.9" width="0.9" height="0.9" fill="#6a9bb6"/>
<rect x="194.9" y="67.6" width="0.9" height="0.9" fill="#6a9bb6" opacity="0.8"/>
<rect x="186.1" y="69.8" width="0.9" height="0.9" fill="#6a9bb6" opacity="0.8"/>
<rect x="187.9" y="72.5" width="0.9" height="0.9" fill="#6a9bb6" opacity="0.8"/>
<rect x="190.9" y="66.6" width="0.9" height="0.9" fill="#6a9bb6" opacity="0.8"/>
<rect x="189.7" y="71.4" width="0.9" height="0.9" fill="#6a9bb6" opacity="0.8"/>
<rect x="190.5" y="71.5" width="0.9" height="0.9" fill="#6a9bb6" opacity="0.8"/>
<text x="188.4" y="113.1" font-size="5.7" fill="#333" text-anchor="middle">6C</text>
<polygon points="197.7,83 197.7,74.9 198.6,75.9 199.5,75.9 200.4,75.4 201.3,74.1 202.2,74 202.8,83" fill="#78a656" opacity="0.45"/>
<polygon points="197.7,103 197.7,80.8 198.4,83.6 199.1,82.8 199.8,83.2 200.5,80.9 201.2,82 201.9,83.3 202.6,82.5 202.8,80.9 202.8,103" fill="#78a656"/>
<rect x="200.1" y="82.7" width="0.9" height="0.9" fill="#78a656"/>
<rect x="198.9" y="75.1" width="0.9" height="0.9" fill="#78a656"/>
<rect x="199.2" y="80.7" width="0.9" height="0.9" fill="#78a656"/>
<rect x="202.0" y="74.7" width="0.9" height="0.9" fill="#78a656"/>
<rect x="198.5" y="75.7" width="0.9" height="0.9" fill="#78a656"/>
<rect x="199.4" y="78.7" width="0.9" height="0.9" fill="#78a656"/>
<rect x="198.5" y="76.6" width="0.9" height="0.9" fill="#78a656"/>
<rect x="198.7" y="83.7" width="0.9" height="0.9" fill="#78a656"/>
<rect x="201.4" y="74.1" width="0.9" height="0.9" fill="#78a656"/>
<rect x="202.6" y="74.1" width="0.9" height="0.9" fill="#78a656"/>
<rect x="199.7" y="83.8" width="0.9" height="0.9" fill="#78a656"/>
<rect x="201.8" y="73.7" width="0.9" height="0.9" fill="#78a656" opacity="0.8"/>
<rect x="198.7" y="70.8" width="0.9" height="0.9" fill="#78a656" opacity="0.8"/>
<rect x="201.0" y="72.4" width="0.9" height="0.9" fill="#78a656" opacity="0.8"/>
<text x="198.6" y="113.1" font-size="5.7" fill="#333" text-anchor="middle">6D</text>
<polygon points="204.6,82 204.6,75.2 205.5,73.7 206.4,75.3 207.3,77.1 208.2,76.6 209.1,75.8 210,76.3 210.9,75.6 211.8,74.1 212.7,76.2 213.4,82" fill="#d3ab60" opacity="0.45"/>
<polygon points="204.6,103 204.6,80.8 205.3,82.2 206,82.8 206.7,80.9 207.4,81.5 208.1,82.2 208.8,80.9 209.5,80.1 210.2,82.1 210.9,82.7 211.6,82.3 212.3,82 213,82.6 213.4,81.9 213.4,103" fill="#d3ab60"/>
<rect x="210.2" y="78.1" width="0.9" height="0.9" fill="#d3ab60"/>
<rect x="207.4" y="79.7" width="0.9" height="0.9" fill="#d3ab60"/>
<rect x="205.5" y="77.8" width="0.9" height="0.9" fill="#d3ab60"/>
<rect x="211.5" y="80.4" width="0.9" height="0.9" fill="#d3ab60"/>
<rect x="210.1" y="76.3" width="0.9" height="0.9" fill="#d3ab60"/>
<rect x="208.3" y="78.1" width="0.9" height="0.9" fill="#d3ab60"/>
<rect x="210.1" y="77.7" width="0.9" height="0.9" fill="#d3ab60"/>
<rect x="210.5" y="82.4" width="0.9" height="0.9" fill="#d3ab60"/>
<rect x="206.2" y="79.9" width="0.9" height="0.9" fill="#d3ab60"/>
<rect x="211.4" y="77.5" width="0.9" height="0.9" fill="#d3ab60"/>
<rect x="208.9" y="82.8" width="0.9" height="0.9" fill="#d3ab60"/>
<rect x="204.9" y="78.9" width="0.9" height="0.9" fill="#d3ab60"/>
<rect x="206.0" y="81.0" width="0.9" height="0.9" fill="#d3ab60"/>
<rect x="212.9" y="78.7" width="0.9" height="0.9" fill="#d3ab60"/>
<rect x="205.5" y="79.2" width="0.9" height="0.9" fill="#d3ab60"/>
<rect x="209.4" y="80.5" width="0.9" height="0.9" fill="#d3ab60"/>
<rect x="209.1" y="79.8" width="0.9" height="0.9" fill="#d3ab60"/>
<rect x="211.9" y="78.7" width="0.9" height="0.9" fill="#d3ab60"/>
<rect x="208.2" y="82.5" width="0.9" height="0.9" fill="#d3ab60"/>
<rect x="206.4" y="73.7" width="0.9" height="0.9" fill="#d3ab60" opacity="0.8"/>
<rect x="210.6" y="71.0" width="0.9" height="0.9" fill="#d3ab60" opacity="0.8"/>
<rect x="205.7" y="71.8" width="0.9" height="0.9" fill="#d3ab60" opacity="0.8"/>
<rect x="213.3" y="74.4" width="0.9" height="0.9" fill="#d3ab60" opacity="0.8"/>
<rect x="207.0" y="74.2" width="0.9" height="0.9" fill="#d3ab60" opacity="0.8"/>
<text x="208.9" y="113.1" font-size="5.7" fill="#333" text-anchor="middle">7A</text>
<polygon points="214.9,80 214.9,75.3 215.8,73.6 216.7,75.4 217.6,75.4 218.5,76.6 219.4,75.1 220.3,74.7 221.2,74.5 222.1,76.8 223,77.7 223.9,75.9 224.3,80" fill="#6a9bb6" opacity="0.45"/>
<polygon points="214.9,103 214.9,78.1 215.6,80.4 216.3,78.8 217,78 217.7,77.7 218.4,80.3 219.1,80.4 219.8,79.7 220.5,79.1 221.2,79.4 221.9,78.1 222.6,81.1 223.3,78.6 224,79.8 224.3,80.4 224.3,103" fill="#6a9bb6"/>
<rect x="222.6" y="77.3" width="0.9" height="0.9" fill="#6a9bb6"/>
<rect x="217.7" y="77.8" width="0.9" height="0.9" fill="#6a9bb6"/>
<rect x="216.1" y="79.8" width="0.9" height="0.9" fill="#6a9bb6"/>
<rect x="218.2" y="80.0" width="0.9" height="0.9" fill="#6a9bb6"/>
<rect x="217.4" y="76.6" width="0.9" height="0.9" fill="#6a9bb6"/>
<rect x="217.3" y="77.0" width="0.9" height="0.9" fill="#6a9bb6"/>
<rect x="216.6" y="74.0" width="0.9" height="0.9" fill="#6a9bb6"/>
<rect x="221.7" y="76.0" width="0.9" height="0.9" fill="#6a9bb6"/>
<rect x="217.2" y="76.1" width="0.9" height="0.9" fill="#6a9bb6"/>
<rect x="219.4" y="77.0" width="0.9" height="0.9" fill="#6a9bb6"/>
<rect x="220.9" y="78.6" width="0.9" height="0.9" fill="#6a9bb6"/>
<rect x="218.3" y="80.5" width="0.9" height="0.9" fill="#6a9bb6"/>
<rect x="222.9" y="74.4" width="0.9" height="0.9" fill="#6a9bb6"/>
<rect x="222.7" y="80.3" width="0.9" height="0.9" fill="#6a9bb6"/>
<rect x="222.3" y="75.0" width="0.9" height="0.9" fill="#6a9bb6"/>
<rect x="222.7" y="78.4" width="0.9" height="0.9" fill="#6a9bb6"/>
<rect x="215.0" y="74.1" width="0.9" height="0.9" fill="#6a9bb6"/>
<rect x="223.8" y="78.6" width="0.9" height="0.9" fill="#6a9bb6"/>
<rect x="217.3" y="74.7" width="0.9" height="0.9" fill="#6a9bb6"/>
<rect x="216.2" y="75.6" width="0.9" height="0.9" fill="#6a9bb6"/>
<rect x="222.2" y="74.0" width="0.9" height="0.9" fill="#6a9bb6" opacity="0.8"/>
<rect x="223.4" y="73.6" width="0.9" height="0.9" fill="#6a9bb6" opacity="0.8"/>
<rect x="222.3" y="71.9" width="0.9" height="0.9" fill="#6a9bb6" opacity="0.8"/>
<rect x="220.6" y="69.5" width="0.9" height="0.9" fill="#6a9bb6" opacity="0.8"/>
<rect x="222.2" y="71.9" width="0.9" height="0.9" fill="#6a9bb6" opacity="0.8"/>
<text x="219.1" y="113.1" font-size="5.7" fill="#333" text-anchor="middle">7C</text>
<polygon points="225.7,83 225.7,78 226.6,78.3 227.5,75.4 228.4,77.6 229.3,76.9 230.2,77.8 231.1,76.5 232,78.5 232.9,77 233.8,75.7 234.7,75.6 234.9,83" fill="#78a656" opacity="0.45"/>
<polygon points="225.7,103 225.7,80.8 226.4,82.2 227.1,80.4 227.8,82.1 228.5,80.8 229.2,82.2 229.9,82.2 230.6,82.4 231.3,83.7 232,80.2 232.7,83.6 233.4,82.1 234.1,82.5 234.8,82.9 234.9,83.4 234.9,103" fill="#78a656"/>
<rect x="229.1" y="78.8" width="0.9" height="0.9" fill="#78a656"/>
<rect x="234.5" y="75.7" width="0.9" height="0.9" fill="#78a656"/>
<rect x="231.6" y="80.7" width="0.9" height="0.9" fill="#78a656"/>
<rect x="226.0" y="80.5" width="0.9" height="0.9" fill="#78a656"/>
<rect x="232.0" y="83.4" width="0.9" height="0.9" fill="#78a656"/>
<rect x="228.7" y="83.8" width="0.9" height="0.9" fill="#78a656"/>
<rect x="230.4" y="79.4" width="0.9" height="0.9" fill="#78a656"/>
<rect x="234.0" y="75.3" width="0.9" height="0.9" fill="#78a656"/>
<rect x="232.3" y="80.6" width="0.9" height="0.9" fill="#78a656"/>
<rect x="228.8" y="82.8" width="0.9" height="0.9" fill="#78a656"/>
<rect x="229.1" y="79.3" width="0.9" height="0.9" fill="#78a656"/>
<rect x="230.5" y="81.9" width="0.9" height="0.9" fill="#78a656"/>
<rect x="227.6" y="78.9" width="0.9" height="0.9" fill="#78a656"/>
<rect x="229.6" y="80.0" width="0.9" height="0.9" fill="#78a656"/>
<rect x="233.3" y="77.6" width="0.9" height="0.9" fill="#78a656"/>
<rect x="233.3" y="78.6" width="0.9" height="0.9" fill="#78a656"/>
<rect x="230.3" y="77.4" width="0.9" height="0.9" fill="#78a656"/>
<rect x="230.4" y="83.8" width="0.9" height="0.9" fill="#78a656"/>
<rect x="231.7" y="82.1" width="0.9" height="0.9" fill="#78a656"/>
<rect x="228.7" y="77.9" width="0.9" height="0.9" fill="#78a656"/>
<rect x="228.5" y="70.5" width="0.9" height="0.9" fill="#78a656" opacity="0.8"/>
<rect x="231.1" y="72.5" width="0.9" height="0.9" fill="#78a656" opacity="0.8"/>
<rect x="226.1" y="72.1" width="0.9" height="0.9" fill="#78a656" opacity="0.8"/>
<rect x="232.3" y="73.2" width="0.9" height="0.9" fill="#78a656" opacity="0.8"/>
<rect x="226.2" y="73.5" width="0.9" height="0.9" fill="#78a656" opacity="0.8"/>
<text x="229.4" y="113.1" font-size="5.7" fill="#333" text-anchor="middle">7D</text>
<rect x="34.0" y="64.4" width="1.1" height="1.1" fill="#6a9bb6"/>
<rect x="32.5" y="69.5" width="1.1" height="1.1" fill="#6a9bb6"/>
<rect x="41.5" y="66.4" width="1.1" height="1.1" fill="#78a656"/>
<rect x="43.5" y="71.5" width="1.1" height="1.1" fill="#78a656"/>
<rect x="91.1" y="57.3" width="1.1" height="1.1" fill="#6a9bb6"/>
<rect x="92.5" y="70.5" width="1.1" height="1.1" fill="#6a9bb6"/>
<rect x="108.0" y="65.4" width="1.1" height="1.1" fill="#78a656"/>
<rect x="107.7" y="65.9" width="1.1" height="1.1" fill="#78a656"/>
<rect x="132.2" y="69.0" width="1.1" height="1.1" fill="#6a9bb6"/>
<rect x="128.5" y="73.5" width="1.1" height="1.1" fill="#6a9bb6"/>
<rect x="153.7" y="55.7" width="1.1" height="1.1" fill="#6a9bb6"/>
<rect x="156.7" y="62.9" width="1.1" height="1.1" fill="#6a9bb6"/>
<rect x="158.5" y="67.5" width="1.1" height="1.1" fill="#6a9bb6"/>
<rect x="181.2" y="66.9" width="1.1" height="1.1" fill="#d3ab60"/>
<rect x="187.4" y="58.8" width="1.1" height="1.1" fill="#6a9bb6"/>
<rect x="193.9" y="66.9" width="1.1" height="1.1" fill="#6a9bb6"/>
<rect x="201.7" y="71.0" width="1.1" height="1.1" fill="#78a656"/>
<rect x="222.1" y="72.1" width="1.1" height="1.1" fill="#6a9bb6"/>
<rect x="233.4" y="72.1" width="1.1" height="1.1" fill="#78a656"/>
<rect x="19.5" y="75.5" width="1.1" height="1.1" fill="#d3ab60"/>
<rect x="25.5" y="74.5" width="1.1" height="1.1" fill="#d3ab60"/>
<rect x="51.5" y="73.5" width="1.1" height="1.1" fill="#d3ab60"/>
<rect x="63.5" y="69.5" width="1.1" height="1.1" fill="#6a9bb6"/>
<rect x="74.5" y="71.5" width="1.1" height="1.1" fill="#78a656"/>
<rect x="84.5" y="73.5" width="1.1" height="1.1" fill="#d3ab60"/>
<rect x="115.5" y="71.5" width="1.1" height="1.1" fill="#d3ab60"/>
<rect x="146.5" y="72.5" width="1.1" height="1.1" fill="#d3ab60"/>
<rect x="169.5" y="71.5" width="1.1" height="1.1" fill="#78a656"/>
<rect x="208.5" y="71.5" width="1.1" height="1.1" fill="#d3ab60"/>
<rect x="227.5" y="73.5" width="1.1" height="1.1" fill="#78a656"/>
<line x1="141.7" y1="18.5" x2="141.7" y2="66" stroke="#dfe9d6" stroke-width="1"/>
<line x1="141.7" y1="66" x2="141.7" y2="80" stroke="#9fc07f" stroke-width="1.2"/>
<line x1="16.3" y1="18.3" x2="16.3" y2="103" stroke="#555" stroke-width="0.7"/>
<line x1="14.5" y1="102.6" x2="16.3" y2="102.6" stroke="#555" stroke-width="0.7"/>
<text x="13.4" y="104.7" font-size="6" fill="#444" text-anchor="end">0</text>
<line x1="14.5" y1="81.8" x2="16.3" y2="81.8" stroke="#555" stroke-width="0.7"/>
<text x="13.4" y="84" font-size="6" fill="#444" text-anchor="end">5</text>
<line x1="14.5" y1="61" x2="16.3" y2="61" stroke="#555" stroke-width="0.7"/>
<text x="13.4" y="63.2" font-size="6" fill="#444" text-anchor="end">10</text>
<line x1="14.5" y1="40.3" x2="16.3" y2="40.3" stroke="#555" stroke-width="0.7"/>
<text x="13.4" y="42.4" font-size="6" fill="#444" text-anchor="end">15</text>
<line x1="14.5" y1="19.5" x2="16.3" y2="19.5" stroke="#555" stroke-width="0.7"/>
<text x="13.4" y="21.6" font-size="6" fill="#444" text-anchor="end">20</text>
<line x1="16.3" y1="106.3" x2="236" y2="106.3" stroke="#666" stroke-width="0.7"/>
<line x1="16.3" y1="106.3" x2="16.3" y2="108.5" stroke="#666" stroke-width="0.7"/>
<text x="0" y="0" font-size="6" fill="#444" text-anchor="middle" transform="translate(5.6 58) rotate(-90)">-log<tspan font-size="4" dy="1.2">10</tspan><tspan dy="-1.2">(</tspan><tspan font-style="italic">p</tspan>)</text>
<path d="M22,124.5 L136.6,113 L234.3,123.7" fill="none" stroke="#333" stroke-width="0.9" stroke-dasharray="3.5,2.5"/>
<polygon points="26,211.8 26,193.8 26.8,192.4 27.6,192.8 28.4,195.1 29.2,193.7 30,193.6 30.7,194.2 31.5,194.7 32.2,193.8 32.9,194 33.7,194.1 34.4,194.5 35.1,194.3 35.9,194.7 36.6,193.2 37.3,194.9 38.1,194.3 38.8,195.5 39.5,193.3 40.3,193.7 41,193.3 41.7,196 42.4,196.5 43.1,195.6 43.8,194.5 44.6,196.2 45.3,196 46,195.2 46.7,194.1 47.4,194.3 47.5,185.7 48.2,185.3 49,185.8 49.7,186.5 50.4,187.6 51.1,184.4 51.9,186.2 52.6,184.3 53.3,184.6 54.1,187.1 54.8,186.3 55.5,187.5 56.2,185.8 57,184.3 57.7,185.6 57.8,190.8 58.5,192.1 59.3,192.2 60,190.4 60.8,190.2 61.5,189.1 62.3,191 63,189.5 63.1,185.2 63.8,184.8 64.6,184.7 65.3,187.2 66.1,185.1 66.8,188.2 67.5,185 68.3,187.8 69,185.2 69.8,184.8 70.5,187.3 70.6,180.6 71.5,182.3 72.5,180.4 72.6,184.9 73.4,187.5 74.2,187.3 75,187.8 75.1,192.8 75.8,190.5 76.5,192.5 77.2,192.8 77.9,191.9 78.6,193.6 79.3,191.1 80.1,193.7 80.8,192.8 81.5,190.2 82.2,190.3 82.9,192.5 83.6,193.1 84.3,190.5 85,191.3 85.7,192.8 86.4,190.8 87.1,193.3 87.8,192 88.5,190.4 89.3,191.5 90,192.3 90.7,191.8 91.4,192.6 92.1,190.7 92.8,193.1 93.5,191.5 94.2,192.5 94.9,192.5 95.6,191.7 96.3,191.6 97,193 97.8,193.6 98.5,193 99.2,192.2 99.9,191.3 100.6,190.4 101.3,193.7 102,192.7 102.1,179.7 102.8,177.9 103.5,178.9 104.2,180.2 104.9,179.7 105.6,178.9 106.3,177.8 107,178.2 107.1,188.9 107.8,187.1 108.5,188.2 109.3,187.9 110,188.9 110.7,188.6 111.4,186.7 112.1,185.7 112.8,186.6 113.6,187.2 114.3,187.8 115,188.6 115.3,169.7 116,166.7 116.7,169.5 117.4,169.4 118.2,169.6 118.9,168.6 119.6,167.5 120.3,169.6 121,169.4 121.7,169 122.4,169.8 123.1,167.7 123.9,166.8 124.6,168.5 125.3,169.4 126,167.2 126.1,190.9 126.8,191.6 127.5,189 128.2,190.4 128.9,190.6 129.6,189.9 130.3,188.9 131,189.1 131.1,189.9 131.8,190 132.6,188.9 133.3,187.5 134.1,190.1 134.8,190 135.5,188 136.3,189.3 137,190.4 137.1,187.4 137.8,186.1 138.6,185.9 139.3,186.3 140.1,184.9 140.8,184.9 141.5,184.9 142.3,186.7 143,185.5 143.1,182.2 143.8,181.6 144.5,182.1 145.2,180.7 145.9,180.4 146.6,183.8 147.4,181.5 148.1,180.6 148.8,182.5 149.5,183 150.2,180.8 150.9,182.3 151.6,181.4 152.3,182.1 153,180.3 153.7,180.3 154.5,183.8 155.2,183.3 155.9,182 156.6,182.2 157.3,181.1 158,183 158.1,182.7 158.9,184.6 159.8,184 160.7,184.1 161.5,184.7 161.7,167.6 162.4,166.9 163.1,167.6 163.8,167.6 164.5,167.3 165.2,167.3 165.9,169.2 166.6,170.4 167.3,169 168,170.8 168.7,170.7 169.4,167.8 170.1,169.8 170.8,169.1 171.6,168.2 172.3,171.3 173,168.9 173.7,170 174.4,170.4 175.1,171.6 175.8,170.6 176.5,169.7 177.2,170 177.9,169 178.6,172 179.3,172.2 180,169.5 180.2,172.3 180.9,173.1 181.7,173.5 182.4,175.4 183.1,175.5 183.9,175.2 184.6,172.4 185.3,175 186,174.8 186.8,174.5 187.5,175.7 188.2,172.4 189,172.7 189.7,174.9 190,184.6 190.7,183.6 191.4,182.3 192.1,183.3 192.9,183.9 193.6,181.6 194.3,182.4 195,182.1 195.7,181.6 196.4,182.9 197.1,181.8 197.9,182.1 198.6,181.7 199.3,183.6 200,181.2 200.7,183.8 201.4,181.9 202.1,181.3 202.9,184.5 203.6,182 204.3,184.6 205,184.3 205.2,188.6 205.9,185.9 206.6,187 207.4,185.7 208.1,188.7 208.8,188.4 209.5,187.7 210.2,187 211,186.6 211.7,188.4 212.4,187.1 213.1,187.7 213.8,185.9 214.6,186.2 215.3,185.6 216,188 216.7,187.4 217.4,185.9 218.1,188.5 218.9,186.4 219.6,186.9 220.3,186 221,186.4 221.7,188.4 222.5,186.6 223.2,186 223.9,187.2 223.9,211.8" fill="#7aa356"/>
<polygon points="126,193 126,149.9 127,148.5 128,153.2 129,146.9 130,153.8 131,146.5 131,193" fill="#7aa356" opacity="0.35"/>
<polygon points="131,189 131,161.2 132,159.3 133,155.7 134,157.8 135,156.3 136,156.1 137,155.6 137,189" fill="#7aa356" opacity="0.35"/>
<polygon points="133.5,148 133.5,141.9 134.5,146.9 135.5,147 136,148" fill="#7aa356" opacity="0.35"/>
<polygon points="137,186 137,162.4 138,155.8 139,157.3 140,162.2 141,155.5 142,160.8 143,157.3 143,186" fill="#7aa356" opacity="0.35"/>
<polygon points="150,168 150,161.8 151,154.1 152,160.5 153,156.7 154,155.1 155,154 156,160.7 157,158.2 158,155.5 158,168" fill="#7aa356" opacity="0.35"/>
<polygon points="150,182 150,177.5 151,181.3 152,175.7 153,178.6 154,175.1 155,175.4 156,180.2 157,179.7 158,175.6 158,182" fill="#7aa356" opacity="0.35"/>
<rect x="121.4" y="157.0" width="1.3" height="1.3" fill="#7aa356"/>
<rect x="124.0" y="161.9" width="1.3" height="1.3" fill="#7aa356"/>
<rect x="122.4" y="158.5" width="1.3" height="1.3" fill="#7aa356"/>
<rect x="124.1" y="164.5" width="1.3" height="1.3" fill="#7aa356"/>
<rect x="125.1" y="163.0" width="1.3" height="1.3" fill="#7aa356"/>
<rect x="122.0" y="156.8" width="1.3" height="1.3" fill="#7aa356"/>
<rect x="124.7" y="160.9" width="1.3" height="1.3" fill="#7aa356"/>
<rect x="124.6" y="156.7" width="1.3" height="1.3" fill="#7aa356"/>
<rect x="125.1" y="160.0" width="1.3" height="1.3" fill="#7aa356"/>
<rect x="125.2" y="166.4" width="1.3" height="1.3" fill="#7aa356"/>
<rect x="123.5" y="156.2" width="1.3" height="1.3" fill="#7aa356"/>
<rect x="125.6" y="161.7" width="1.3" height="1.3" fill="#7aa356"/>
<rect x="125.4" y="159.2" width="1.3" height="1.3" fill="#7aa356"/>
<rect x="121.9" y="166.0" width="1.3" height="1.3" fill="#7aa356"/>
<rect x="122.8" y="158.0" width="1.3" height="1.3" fill="#7aa356"/>
<rect x="122.9" y="163.1" width="1.3" height="1.3" fill="#7aa356"/>
<rect x="121.0" y="162.2" width="1.3" height="1.3" fill="#7aa356"/>
<rect x="123.2" y="162.2" width="1.3" height="1.3" fill="#7aa356"/>
<rect x="121.6" y="164.6" width="1.3" height="1.3" fill="#7aa356"/>
<rect x="130.1" y="185.9" width="1.3" height="1.3" fill="#7aa356"/>
<rect x="127.6" y="177.7" width="1.3" height="1.3" fill="#7aa356"/>
<rect x="127.9" y="179.8" width="1.3" height="1.3" fill="#7aa356"/>
<rect x="126.3" y="186.3" width="1.3" height="1.3" fill="#7aa356"/>
<rect x="130.8" y="166.2" width="1.3" height="1.3" fill="#7aa356"/>
<rect x="128.6" y="168.1" width="1.3" height="1.3" fill="#7aa356"/>
<rect x="128.7" y="141.1" width="1.3" height="1.3" fill="#7aa356"/>
<rect x="130.8" y="151.9" width="1.3" height="1.3" fill="#7aa356"/>
<rect x="126.9" y="145.4" width="1.3" height="1.3" fill="#7aa356"/>
<rect x="127.3" y="183.3" width="1.3" height="1.3" fill="#7aa356"/>
<rect x="126.2" y="145.1" width="1.3" height="1.3" fill="#7aa356"/>
<rect x="129.5" y="150.3" width="1.3" height="1.3" fill="#7aa356"/>
<rect x="126.1" y="171.8" width="1.3" height="1.3" fill="#7aa356"/>
<rect x="128.9" y="167.7" width="1.3" height="1.3" fill="#7aa356"/>
<rect x="129.5" y="145.5" width="1.3" height="1.3" fill="#7aa356"/>
<rect x="130.3" y="178.0" width="1.3" height="1.3" fill="#7aa356"/>
<rect x="126.2" y="146.5" width="1.3" height="1.3" fill="#7aa356"/>
<rect x="128.5" y="166.5" width="1.3" height="1.3" fill="#7aa356"/>
<rect x="127.4" y="146.5" width="1.3" height="1.3" fill="#7aa356"/>
<rect x="128.0" y="147.3" width="1.3" height="1.3" fill="#7aa356"/>
<rect x="129.0" y="185.6" width="1.3" height="1.3" fill="#7aa356"/>
<rect x="126.7" y="170.4" width="1.3" height="1.3" fill="#7aa356"/>
<rect x="129.7" y="148.7" width="1.3" height="1.3" fill="#7aa356"/>
<rect x="130.1" y="189.7" width="1.3" height="1.3" fill="#7aa356"/>
<rect x="127.9" y="162.3" width="1.3" height="1.3" fill="#7aa356"/>
<rect x="130.2" y="167.9" width="1.3" height="1.3" fill="#7aa356"/>
<rect x="128.0" y="189.9" width="1.3" height="1.3" fill="#7aa356"/>
<rect x="129.9" y="157.9" width="1.3" height="1.3" fill="#7aa356"/>
<rect x="127.2" y="157.8" width="1.3" height="1.3" fill="#7aa356"/>
<rect x="128.2" y="192.0" width="1.3" height="1.3" fill="#7aa356"/>
<rect x="130.0" y="188.4" width="1.3" height="1.3" fill="#7aa356"/>
<rect x="130.1" y="184.9" width="1.3" height="1.3" fill="#7aa356"/>
<rect x="126.3" y="167.4" width="1.3" height="1.3" fill="#7aa356"/>
<rect x="130.8" y="189.5" width="1.3" height="1.3" fill="#7aa356"/>
<rect x="127.2" y="162.4" width="1.3" height="1.3" fill="#7aa356"/>
<rect x="129.2" y="159.3" width="1.3" height="1.3" fill="#7aa356"/>
<rect x="128.7" y="143.7" width="1.3" height="1.3" fill="#7aa356"/>
<rect x="128.2" y="166.8" width="1.3" height="1.3" fill="#7aa356"/>
<rect x="126.1" y="147.4" width="1.3" height="1.3" fill="#7aa356"/>
<rect x="130.8" y="181.2" width="1.3" height="1.3" fill="#7aa356"/>
<rect x="130.7" y="173.6" width="1.3" height="1.3" fill="#7aa356"/>
<rect x="130.0" y="186.9" width="1.3" height="1.3" fill="#7aa356"/>
<rect x="130.4" y="141.8" width="1.3" height="1.3" fill="#7aa356"/>
<rect x="129.2" y="154.1" width="1.3" height="1.3" fill="#7aa356"/>
<rect x="129.4" y="154.5" width="1.3" height="1.3" fill="#7aa356"/>
<rect x="128.7" y="189.0" width="1.3" height="1.3" fill="#7aa356"/>
<rect x="129.1" y="153.3" width="1.3" height="1.3" fill="#7aa356"/>
<rect x="128.6" y="163.0" width="1.3" height="1.3" fill="#7aa356"/>
<rect x="130.8" y="155.2" width="1.3" height="1.3" fill="#7aa356"/>
<rect x="127.5" y="174.3" width="1.3" height="1.3" fill="#7aa356"/>
<rect x="126.6" y="171.5" width="1.3" height="1.3" fill="#7aa356"/>
<rect x="130.8" y="167.2" width="1.3" height="1.3" fill="#7aa356"/>
<rect x="127.3" y="164.7" width="1.3" height="1.3" fill="#7aa356"/>
<rect x="128.7" y="147.9" width="1.3" height="1.3" fill="#7aa356"/>
<rect x="126.6" y="147.0" width="1.3" height="1.3" fill="#7aa356"/>
<rect x="127.5" y="161.5" width="1.3" height="1.3" fill="#7aa356"/>
<rect x="127.4" y="152.9" width="1.3" height="1.3" fill="#7aa356"/>
<rect x="126.4" y="169.0" width="1.3" height="1.3" fill="#7aa356"/>
<rect x="130.2" y="172.3" width="1.3" height="1.3" fill="#7aa356"/>
<rect x="128.9" y="174.5" width="1.3" height="1.3" fill="#7aa356"/>
<rect x="127.0" y="177.6" width="1.3" height="1.3" fill="#7aa356"/>
<rect x="128.3" y="169.0" width="1.3" height="1.3" fill="#7aa356"/>
<rect x="129.1" y="164.9" width="1.3" height="1.3" fill="#7aa356"/>
<rect x="127.6" y="152.8" width="1.3" height="1.3" fill="#7aa356"/>
<rect x="127.1" y="167.2" width="1.3" height="1.3" fill="#7aa356"/>
<rect x="127.9" y="171.0" width="1.3" height="1.3" fill="#7aa356"/>
<rect x="126.1" y="158.7" width="1.3" height="1.3" fill="#7aa356"/>
<rect x="130.3" y="152.6" width="1.3" height="1.3" fill="#7aa356"/>
<rect x="128.8" y="166.0" width="1.3" height="1.3" fill="#7aa356"/>
<rect x="127.4" y="192.3" width="1.3" height="1.3" fill="#7aa356"/>
<rect x="127.5" y="180.9" width="1.3" height="1.3" fill="#7aa356"/>
<rect x="126.8" y="143.5" width="1.3" height="1.3" fill="#7aa356"/>
<rect x="130.4" y="163.3" width="1.3" height="1.3" fill="#7aa356"/>
<rect x="126.3" y="160.6" width="1.3" height="1.3" fill="#7aa356"/>
<rect x="128.2" y="179.0" width="1.3" height="1.3" fill="#7aa356"/>
<rect x="126.5" y="151.9" width="1.3" height="1.3" fill="#7aa356"/>
<rect x="130.8" y="179.1" width="1.3" height="1.3" fill="#7aa356"/>
<rect x="126.8" y="157.9" width="1.3" height="1.3" fill="#7aa356"/>
<rect x="127.8" y="175.8" width="1.3" height="1.3" fill="#7aa356"/>
<rect x="129.1" y="185.0" width="1.3" height="1.3" fill="#7aa356"/>
<rect x="130.1" y="167.4" width="1.3" height="1.3" fill="#7aa356"/>
<rect x="129.7" y="179.4" width="1.3" height="1.3" fill="#7aa356"/>
<rect x="129.8" y="165.2" width="1.3" height="1.3" fill="#7aa356"/>
<rect x="129.9" y="177.6" width="1.3" height="1.3" fill="#7aa356"/>
<rect x="130.6" y="146.7" width="1.3" height="1.3" fill="#7aa356"/>
<rect x="130.4" y="140.2" width="1.3" height="1.3" fill="#7aa356"/>
<rect x="129.8" y="171.0" width="1.3" height="1.3" fill="#7aa356"/>
<rect x="128.5" y="191.0" width="1.3" height="1.3" fill="#7aa356"/>
<rect x="128.9" y="162.1" width="1.3" height="1.3" fill="#7aa356"/>
<rect x="129.9" y="186.3" width="1.3" height="1.3" fill="#7aa356"/>
<rect x="129.0" y="160.1" width="1.3" height="1.3" fill="#7aa356"/>
<rect x="128.3" y="164.3" width="1.3" height="1.3" fill="#7aa356"/>
<rect x="129.6" y="155.5" width="1.3" height="1.3" fill="#7aa356"/>
<rect x="128.0" y="169.4" width="1.3" height="1.3" fill="#7aa356"/>
<rect x="127.9" y="157.1" width="1.3" height="1.3" fill="#7aa356"/>
<rect x="129.9" y="185.0" width="1.3" height="1.3" fill="#7aa356"/>
<rect x="128.5" y="163.5" width="1.3" height="1.3" fill="#7aa356"/>
<rect x="126.9" y="156.1" width="1.3" height="1.3" fill="#7aa356"/>
<rect x="126.7" y="170.5" width="1.3" height="1.3" fill="#7aa356"/>
<rect x="128.9" y="144.7" width="1.3" height="1.3" fill="#7aa356"/>
<rect x="130.6" y="157.2" width="1.3" height="1.3" fill="#7aa356"/>
<rect x="130.2" y="184.4" width="1.3" height="1.3" fill="#7aa356"/>
<rect x="130.8" y="150.8" width="1.3" height="1.3" fill="#7aa356"/>
<rect x="128.1" y="188.3" width="1.3" height="1.3" fill="#7aa356"/>
<rect x="126.1" y="142.5" width="1.3" height="1.3" fill="#7aa356"/>
<rect x="128.8" y="166.4" width="1.3" height="1.3" fill="#7aa356"/>
<rect x="130.6" y="181.0" width="1.3" height="1.3" fill="#7aa356"/>
<rect x="128.7" y="192.9" width="1.3" height="1.3" fill="#7aa356"/>
<rect x="128.6" y="167.4" width="1.3" height="1.3" fill="#7aa356"/>
<rect x="129.4" y="160.6" width="1.3" height="1.3" fill="#7aa356"/>
<rect x="127.8" y="171.5" width="1.3" height="1.3" fill="#7aa356"/>
<rect x="127.8" y="190.2" width="1.3" height="1.3" fill="#7aa356"/>
<rect x="129.4" y="167.8" width="1.3" height="1.3" fill="#7aa356"/>
<rect x="126.5" y="159.8" width="1.3" height="1.3" fill="#7aa356"/>
<rect x="128.0" y="169.8" width="1.3" height="1.3" fill="#7aa356"/>
<rect x="128.9" y="186.6" width="1.3" height="1.3" fill="#7aa356"/>
<rect x="130.8" y="165.8" width="1.3" height="1.3" fill="#7aa356"/>
<rect x="128.2" y="173.1" width="1.3" height="1.3" fill="#7aa356"/>
<rect x="131.0" y="158.2" width="1.3" height="1.3" fill="#7aa356"/>
<rect x="128.7" y="183.2" width="1.3" height="1.3" fill="#7aa356"/>
<rect x="126.9" y="156.9" width="1.3" height="1.3" fill="#7aa356"/>
<rect x="130.9" y="183.8" width="1.3" height="1.3" fill="#7aa356"/>
<rect x="128.6" y="145.9" width="1.3" height="1.3" fill="#7aa356"/>
<rect x="130.5" y="176.6" width="1.3" height="1.3" fill="#7aa356"/>
<rect x="130.1" y="192.5" width="1.3" height="1.3" fill="#7aa356"/>
<rect x="130.4" y="162.3" width="1.3" height="1.3" fill="#7aa356"/>
<rect x="126.8" y="155.4" width="1.3" height="1.3" fill="#7aa356"/>
<rect x="128.6" y="166.8" width="1.3" height="1.3" fill="#7aa356"/>
<rect x="126.9" y="149.7" width="1.3" height="1.3" fill="#7aa356"/>
<rect x="129.2" y="172.0" width="1.3" height="1.3" fill="#7aa356"/>
<rect x="127.8" y="192.7" width="1.3" height="1.3" fill="#7aa356"/>
<rect x="129.2" y="142.2" width="1.3" height="1.3" fill="#7aa356"/>
<rect x="128.1" y="181.7" width="1.3" height="1.3" fill="#7aa356"/>
<rect x="127.5" y="176.6" width="1.3" height="1.3" fill="#7aa356"/>
<rect x="126.0" y="156.1" width="1.3" height="1.3" fill="#7aa356"/>
<rect x="130.2" y="171.1" width="1.3" height="1.3" fill="#7aa356"/>
<rect x="129.3" y="150.4" width="1.3" height="1.3" fill="#7aa356"/>
<rect x="128.5" y="169.3" width="1.3" height="1.3" fill="#7aa356"/>
<rect x="127.3" y="174.3" width="1.3" height="1.3" fill="#7aa356"/>
<rect x="128.7" y="192.8" width="1.3" height="1.3" fill="#7aa356"/>
<rect x="128.9" y="161.8" width="1.3" height="1.3" fill="#7aa356"/>
<rect x="126.6" y="148.3" width="1.3" height="1.3" fill="#7aa356"/>
<rect x="129.8" y="145.7" width="1.3" height="1.3" fill="#7aa356"/>
<rect x="126.5" y="149.0" width="1.3" height="1.3" fill="#7aa356"/>
<rect x="128.6" y="183.6" width="1.3" height="1.3" fill="#7aa356"/>
<rect x="129.1" y="182.7" width="1.3" height="1.3" fill="#7aa356"/>
<rect x="126.3" y="140.7" width="1.3" height="1.3" fill="#7aa356"/>
<rect x="129.9" y="157.1" width="1.3" height="1.3" fill="#7aa356"/>
<rect x="129.6" y="158.8" width="1.3" height="1.3" fill="#7aa356"/>
<rect x="126.8" y="154.1" width="1.3" height="1.3" fill="#7aa356"/>
<rect x="126.5" y="187.9" width="1.3" height="1.3" fill="#7aa356"/>
<rect x="128.9" y="158.5" width="1.3" height="1.3" fill="#7aa356"/>
<rect x="128.2" y="160.4" width="1.3" height="1.3" fill="#7aa356"/>
<rect x="126.3" y="187.2" width="1.3" height="1.3" fill="#7aa356"/>
<rect x="128.9" y="190.9" width="1.3" height="1.3" fill="#7aa356"/>
<rect x="128.2" y="172.9" width="1.3" height="1.3" fill="#7aa356"/>
<rect x="127.2" y="142.3" width="1.3" height="1.3" fill="#7aa356"/>
<rect x="130.7" y="185.3" width="1.3" height="1.3" fill="#7aa356"/>
<rect x="127.6" y="187.6" width="1.3" height="1.3" fill="#7aa356"/>
<rect x="130.1" y="156.1" width="1.3" height="1.3" fill="#7aa356"/>
<rect x="129.0" y="190.9" width="1.3" height="1.3" fill="#7aa356"/>
<rect x="128.5" y="190.3" width="1.3" height="1.3" fill="#7aa356"/>
<rect x="127.2" y="160.7" width="1.3" height="1.3" fill="#7aa356"/>
<rect x="129.6" y="151.7" width="1.3" height="1.3" fill="#7aa356"/>
<rect x="127.5" y="186.4" width="1.3" height="1.3" fill="#7aa356"/>
<rect x="128.4" y="182.0" width="1.3" height="1.3" fill="#7aa356"/>
<rect x="127.2" y="149.2" width="1.3" height="1.3" fill="#7aa356"/>
<rect x="127.8" y="149.9" width="1.3" height="1.3" fill="#7aa356"/>
<rect x="130.9" y="155.4" width="1.3" height="1.3" fill="#7aa356"/>
<rect x="128.8" y="146.1" width="1.3" height="1.3" fill="#7aa356"/>
<rect x="128.7" y="160.4" width="1.3" height="1.3" fill="#7aa356"/>
<rect x="128.0" y="143.5" width="1.3" height="1.3" fill="#7aa356"/>
<rect x="126.6" y="183.8" width="1.3" height="1.3" fill="#7aa356"/>
<rect x="127.8" y="153.0" width="1.3" height="1.3" fill="#7aa356"/>
<rect x="127.0" y="155.0" width="1.3" height="1.3" fill="#7aa356"/>
<rect x="127.2" y="141.9" width="1.3" height="1.3" fill="#7aa356"/>
<rect x="129.3" y="158.1" width="1.3" height="1.3" fill="#7aa356"/>
<rect x="126.8" y="177.4" width="1.3" height="1.3" fill="#7aa356"/>
<rect x="126.5" y="154.3" width="1.3" height="1.3" fill="#7aa356"/>
<rect x="130.2" y="146.8" width="1.3" height="1.3" fill="#7aa356"/>
<rect x="133.7" y="182.3" width="1.3" height="1.3" fill="#7aa356"/>
<rect x="135.8" y="154.5" width="1.3" height="1.3" fill="#7aa356"/>
<rect x="133.1" y="177.6" width="1.3" height="1.3" fill="#7aa356"/>
<rect x="133.3" y="187.3" width="1.3" height="1.3" fill="#7aa356"/>
<rect x="132.2" y="187.0" width="1.3" height="1.3" fill="#7aa356"/>
<rect x="134.0" y="157.3" width="1.3" height="1.3" fill="#7aa356"/>
<rect x="133.7" y="153.4" width="1.3" height="1.3" fill="#7aa356"/>
<rect x="135.2" y="158.7" width="1.3" height="1.3" fill="#7aa356"/>
<rect x="136.4" y="172.1" width="1.3" height="1.3" fill="#7aa356"/>
<rect x="133.2" y="158.1" width="1.3" height="1.3" fill="#7aa356"/>
<rect x="134.6" y="156.7" width="1.3" height="1.3" fill="#7aa356"/>
<rect x="136.2" y="153.0" width="1.3" height="1.3" fill="#7aa356"/>
<rect x="134.1" y="170.2" width="1.3" height="1.3" fill="#7aa356"/>
<rect x="132.6" y="179.6" width="1.3" height="1.3" fill="#7aa356"/>
<rect x="133.3" y="175.0" width="1.3" height="1.3" fill="#7aa356"/>
<rect x="134.4" y="160.7" width="1.3" height="1.3" fill="#7aa356"/>
<rect x="133.3" y="151.5" width="1.3" height="1.3" fill="#7aa356"/>
<rect x="132.1" y="182.9" width="1.3" height="1.3" fill="#7aa356"/>
<rect x="132.9" y="175.2" width="1.3" height="1.3" fill="#7aa356"/>
<rect x="131.7" y="171.0" width="1.3" height="1.3" fill="#7aa356"/>
<rect x="133.2" y="168.5" width="1.3" height="1.3" fill="#7aa356"/>
<rect x="132.8" y="150.7" width="1.3" height="1.3" fill="#7aa356"/>
<rect x="132.9" y="157.3" width="1.3" height="1.3" fill="#7aa356"/>
<rect x="131.8" y="177.4" width="1.3" height="1.3" fill="#7aa356"/>
<rect x="132.7" y="164.5" width="1.3" height="1.3" fill="#7aa356"/>
<rect x="136.5" y="179.8" width="1.3" height="1.3" fill="#7aa356"/>
<rect x="136.3" y="183.3" width="1.3" height="1.3" fill="#7aa356"/>
<rect x="131.8" y="159.3" width="1.3" height="1.3" fill="#7aa356"/>
<rect x="131.2" y="175.9" width="1.3" height="1.3" fill="#7aa356"/>
<rect x="135.0" y="162.4" width="1.3" height="1.3" fill="#7aa356"/>
<rect x="133.5" y="175.0" width="1.3" height="1.3" fill="#7aa356"/>
<rect x="135.2" y="158.2" width="1.3" height="1.3" fill="#7aa356"/>
<rect x="136.1" y="162.4" width="1.3" height="1.3" fill="#7aa356"/>
<rect x="134.8" y="155.4" width="1.3" height="1.3" fill="#7aa356"/>
<rect x="131.7" y="185.4" width="1.3" height="1.3" fill="#7aa356"/>
<rect x="135.4" y="177.2" width="1.3" height="1.3" fill="#7aa356"/>
<rect x="131.2" y="149.6" width="1.3" height="1.3" fill="#7aa356"/>
<rect x="132.0" y="156.1" width="1.3" height="1.3" fill="#7aa356"/>
<rect x="132.8" y="163.6" width="1.3" height="1.3" fill="#7aa356"/>
<rect x="131.2" y="160.7" width="1.3" height="1.3" fill="#7aa356"/>
<rect x="134.8" y="155.4" width="1.3" height="1.3" fill="#7aa356"/>
<rect x="136.0" y="171.4" width="1.3" height="1.3" fill="#7aa356"/>
<rect x="135.3" y="158.4" width="1.3" height="1.3" fill="#7aa356"/>
<rect x="133.6" y="176.1" width="1.3" height="1.3" fill="#7aa356"/>
<rect x="133.1" y="148.0" width="1.3" height="1.3" fill="#7aa356"/>
<rect x="136.0" y="179.8" width="1.3" height="1.3" fill="#7aa356"/>
<rect x="132.7" y="149.8" width="1.3" height="1.3" fill="#7aa356"/>
<rect x="136.1" y="172.9" width="1.3" height="1.3" fill="#7aa356"/>
<rect x="131.3" y="158.0" width="1.3" height="1.3" fill="#7aa356"/>
<rect x="131.7" y="180.4" width="1.3" height="1.3" fill="#7aa356"/>
<rect x="132.3" y="185.5" width="1.3" height="1.3" fill="#7aa356"/>
<rect x="135.5" y="151.5" width="1.3" height="1.3" fill="#7aa356"/>
<rect x="135.2" y="164.1" width="1.3" height="1.3" fill="#7aa356"/>
<rect x="135.5" y="182.0" width="1.3" height="1.3" fill="#7aa356"/>
<rect x="132.7" y="151.7" width="1.3" height="1.3" fill="#7aa356"/>
<rect x="136.7" y="165.4" width="1.3" height="1.3" fill="#7aa356"/>
<rect x="136.6" y="176.4" width="1.3" height="1.3" fill="#7aa356"/>
<rect x="135.4" y="182.0" width="1.3" height="1.3" fill="#7aa356"/>
<rect x="134.8" y="166.6" width="1.3" height="1.3" fill="#7aa356"/>
<rect x="131.3" y="176.6" width="1.3" height="1.3" fill="#7aa356"/>
<rect x="133.6" y="169.0" width="1.3" height="1.3" fill="#7aa356"/>
<rect x="136.6" y="153.2" width="1.3" height="1.3" fill="#7aa356"/>
<rect x="135.6" y="149.8" width="1.3" height="1.3" fill="#7aa356"/>
<rect x="135.2" y="181.0" width="1.3" height="1.3" fill="#7aa356"/>
<rect x="132.6" y="170.4" width="1.3" height="1.3" fill="#7aa356"/>
<rect x="136.8" y="174.1" width="1.3" height="1.3" fill="#7aa356"/>
<rect x="134.3" y="158.2" width="1.3" height="1.3" fill="#7aa356"/>
<rect x="131.4" y="162.7" width="1.3" height="1.3" fill="#7aa356"/>
<rect x="133.5" y="156.3" width="1.3" height="1.3" fill="#7aa356"/>
<rect x="132.9" y="153.6" width="1.3" height="1.3" fill="#7aa356"/>
<rect x="135.2" y="175.5" width="1.3" height="1.3" fill="#7aa356"/>
<rect x="132.4" y="157.9" width="1.3" height="1.3" fill="#7aa356"/>
<rect x="134.1" y="166.2" width="1.3" height="1.3" fill="#7aa356"/>
<rect x="136.6" y="162.4" width="1.3" height="1.3" fill="#7aa356"/>
<rect x="132.8" y="184.3" width="1.3" height="1.3" fill="#7aa356"/>
<rect x="131.9" y="171.1" width="1.3" height="1.3" fill="#7aa356"/>
<rect x="133.0" y="181.4" width="1.3" height="1.3" fill="#7aa356"/>
<rect x="134.3" y="179.2" width="1.3" height="1.3" fill="#7aa356"/>
<rect x="132.0" y="175.3" width="1.3" height="1.3" fill="#7aa356"/>
<rect x="134.6" y="166.9" width="1.3" height="1.3" fill="#7aa356"/>
<rect x="135.6" y="182.1" width="1.3" height="1.3" fill="#7aa356"/>
<rect x="131.7" y="159.9" width="1.3" height="1.3" fill="#7aa356"/>
<rect x="133.2" y="156.5" width="1.3" height="1.3" fill="#7aa356"/>
<rect x="131.4" y="159.5" width="1.3" height="1.3" fill="#7aa356"/>
<rect x="132.2" y="176.8" width="1.3" height="1.3" fill="#7aa356"/>
<rect x="133.7" y="152.6" width="1.3" height="1.3" fill="#7aa356"/>
<rect x="132.9" y="167.2" width="1.3" height="1.3" fill="#7aa356"/>
<rect x="133.2" y="154.9" width="1.3" height="1.3" fill="#7aa356"/>
<rect x="131.4" y="148.4" width="1.3" height="1.3" fill="#7aa356"/>
<rect x="137.0" y="178.8" width="1.3" height="1.3" fill="#7aa356"/>
<rect x="131.5" y="177.4" width="1.3" height="1.3" fill="#7aa356"/>
<rect x="136.9" y="171.1" width="1.3" height="1.3" fill="#7aa356"/>
<rect x="131.7" y="168.0" width="1.3" height="1.3" fill="#7aa356"/>
<rect x="133.6" y="155.8" width="1.3" height="1.3" fill="#7aa356"/>
<rect x="134.3" y="148.3" width="1.3" height="1.3" fill="#7aa356"/>
<rect x="136.5" y="174.4" width="1.3" height="1.3" fill="#7aa356"/>
<rect x="134.8" y="186.3" width="1.3" height="1.3" fill="#7aa356"/>
<rect x="134.9" y="158.3" width="1.3" height="1.3" fill="#7aa356"/>
<rect x="132.5" y="153.7" width="1.3" height="1.3" fill="#7aa356"/>
<rect x="131.2" y="179.8" width="1.3" height="1.3" fill="#7aa356"/>
<rect x="136.0" y="160.1" width="1.3" height="1.3" fill="#7aa356"/>
<rect x="132.1" y="174.2" width="1.3" height="1.3" fill="#7aa356"/>
<rect x="136.1" y="186.0" width="1.3" height="1.3" fill="#7aa356"/>
<rect x="132.0" y="180.2" width="1.3" height="1.3" fill="#7aa356"/>
<rect x="136.0" y="178.4" width="1.3" height="1.3" fill="#7aa356"/>
<rect x="133.0" y="155.6" width="1.3" height="1.3" fill="#7aa356"/>
<rect x="136.0" y="161.1" width="1.3" height="1.3" fill="#7aa356"/>
<rect x="133.2" y="170.6" width="1.3" height="1.3" fill="#7aa356"/>
<rect x="133.2" y="182.1" width="1.3" height="1.3" fill="#7aa356"/>
<rect x="132.4" y="149.7" width="1.3" height="1.3" fill="#7aa356"/>
<rect x="134.4" y="173.8" width="1.3" height="1.3" fill="#7aa356"/>
<rect x="135.9" y="176.9" width="1.3" height="1.3" fill="#7aa356"/>
<rect x="136.4" y="186.7" width="1.3" height="1.3" fill="#7aa356"/>
<rect x="134.0" y="168.5" width="1.3" height="1.3" fill="#7aa356"/>
<rect x="131.9" y="160.3" width="1.3" height="1.3" fill="#7aa356"/>
<rect x="134.5" y="151.3" width="1.3" height="1.3" fill="#7aa356"/>
<rect x="135.1" y="154.7" width="1.3" height="1.3" fill="#7aa356"/>
<rect x="133.7" y="187.8" width="1.3" height="1.3" fill="#7aa356"/>
<rect x="131.5" y="149.6" width="1.3" height="1.3" fill="#7aa356"/>
<rect x="133.6" y="155.8" width="1.3" height="1.3" fill="#7aa356"/>
<rect x="135.3" y="148.1" width="1.3" height="1.3" fill="#7aa356"/>
<rect x="136.0" y="183.1" width="1.3" height="1.3" fill="#7aa356"/>
<rect x="135.7" y="165.4" width="1.3" height="1.3" fill="#7aa356"/>
<rect x="132.7" y="175.1" width="1.3" height="1.3" fill="#7aa356"/>
<rect x="134.1" y="165.3" width="1.3" height="1.3" fill="#7aa356"/>
<rect x="133.0" y="166.0" width="1.3" height="1.3" fill="#7aa356"/>
<rect x="135.0" y="181.9" width="1.3" height="1.3" fill="#7aa356"/>
<rect x="136.4" y="154.7" width="1.3" height="1.3" fill="#7aa356"/>
<rect x="132.8" y="166.2" width="1.3" height="1.3" fill="#7aa356"/>
<rect x="134.4" y="162.3" width="1.3" height="1.3" fill="#7aa356"/>
<rect x="132.2" y="151.5" width="1.3" height="1.3" fill="#7aa356"/>
<rect x="132.9" y="166.9" width="1.3" height="1.3" fill="#7aa356"/>
<rect x="136.8" y="185.3" width="1.3" height="1.3" fill="#7aa356"/>
<rect x="136.2" y="187.9" width="1.3" height="1.3" fill="#7aa356"/>
<rect x="136.8" y="173.4" width="1.3" height="1.3" fill="#7aa356"/>
<rect x="135.9" y="150.5" width="1.3" height="1.3" fill="#7aa356"/>
<rect x="135.1" y="173.0" width="1.3" height="1.3" fill="#7aa356"/>
<rect x="132.8" y="171.4" width="1.3" height="1.3" fill="#7aa356"/>
<rect x="136.7" y="167.7" width="1.3" height="1.3" fill="#7aa356"/>
<rect x="134.9" y="160.3" width="1.3" height="1.3" fill="#7aa356"/>
<rect x="133.1" y="184.3" width="1.3" height="1.3" fill="#7aa356"/>
<rect x="131.2" y="155.7" width="1.3" height="1.3" fill="#7aa356"/>
<rect x="135.1" y="166.3" width="1.3" height="1.3" fill="#7aa356"/>
<rect x="131.5" y="175.1" width="1.3" height="1.3" fill="#7aa356"/>
<rect x="133.2" y="171.8" width="1.3" height="1.3" fill="#7aa356"/>
<rect x="133.5" y="169.7" width="1.3" height="1.3" fill="#7aa356"/>
<rect x="134.4" y="164.3" width="1.3" height="1.3" fill="#7aa356"/>
<rect x="131.7" y="155.4" width="1.3" height="1.3" fill="#7aa356"/>
<rect x="136.3" y="170.5" width="1.3" height="1.3" fill="#7aa356"/>
<rect x="131.7" y="183.3" width="1.3" height="1.3" fill="#7aa356"/>
<rect x="132.5" y="151.9" width="1.3" height="1.3" fill="#7aa356"/>
<rect x="134.2" y="158.3" width="1.3" height="1.3" fill="#7aa356"/>
<rect x="133.9" y="170.7" width="1.3" height="1.3" fill="#7aa356"/>
<rect x="132.4" y="171.5" width="1.3" height="1.3" fill="#7aa356"/>
<rect x="131.7" y="169.0" width="1.3" height="1.3" fill="#7aa356"/>
<rect x="134.5" y="151.3" width="1.3" height="1.3" fill="#7aa356"/>
<rect x="133.4" y="151.0" width="1.3" height="1.3" fill="#7aa356"/>
<rect x="133.6" y="183.4" width="1.3" height="1.3" fill="#7aa356"/>
<rect x="134.3" y="177.3" width="1.3" height="1.3" fill="#7aa356"/>
<rect x="135.5" y="152.7" width="1.3" height="1.3" fill="#7aa356"/>
<rect x="136.9" y="177.6" width="1.3" height="1.3" fill="#7aa356"/>
<rect x="131.6" y="182.0" width="1.3" height="1.3" fill="#7aa356"/>
<rect x="133.4" y="155.0" width="1.3" height="1.3" fill="#7aa356"/>
<rect x="136.8" y="171.1" width="1.3" height="1.3" fill="#7aa356"/>
<rect x="135.6" y="153.6" width="1.3" height="1.3" fill="#7aa356"/>
<rect x="135.7" y="150.4" width="1.3" height="1.3" fill="#7aa356"/>
<rect x="132.4" y="163.3" width="1.3" height="1.3" fill="#7aa356"/>
<rect x="131.1" y="172.4" width="1.3" height="1.3" fill="#7aa356"/>
<rect x="132.3" y="160.3" width="1.3" height="1.3" fill="#7aa356"/>
<rect x="135.2" y="165.5" width="1.3" height="1.3" fill="#7aa356"/>
<rect x="136.3" y="173.5" width="1.3" height="1.3" fill="#7aa356"/>
<rect x="136.2" y="171.1" width="1.3" height="1.3" fill="#7aa356"/>
<rect x="136.5" y="183.7" width="1.3" height="1.3" fill="#7aa356"/>
<rect x="132.0" y="178.6" width="1.3" height="1.3" fill="#7aa356"/>
<rect x="133.0" y="179.3" width="1.3" height="1.3" fill="#7aa356"/>
<rect x="135.1" y="181.9" width="1.3" height="1.3" fill="#7aa356"/>
<rect x="131.7" y="163.3" width="1.3" height="1.3" fill="#7aa356"/>
<rect x="135.4" y="186.9" width="1.3" height="1.3" fill="#7aa356"/>
<rect x="135.3" y="149.8" width="1.3" height="1.3" fill="#7aa356"/>
<rect x="134.6" y="152.1" width="1.3" height="1.3" fill="#7aa356"/>
<rect x="134.3" y="180.9" width="1.3" height="1.3" fill="#7aa356"/>
<rect x="131.7" y="185.9" width="1.3" height="1.3" fill="#7aa356"/>
<rect x="135.1" y="158.4" width="1.3" height="1.3" fill="#7aa356"/>
<rect x="132.2" y="166.3" width="1.3" height="1.3" fill="#7aa356"/>
<rect x="136.0" y="171.8" width="1.3" height="1.3" fill="#7aa356"/>
<rect x="131.7" y="148.9" width="1.3" height="1.3" fill="#7aa356"/>
<rect x="131.7" y="180.8" width="1.3" height="1.3" fill="#7aa356"/>
<rect x="132.1" y="170.7" width="1.3" height="1.3" fill="#7aa356"/>
<rect x="132.7" y="176.2" width="1.3" height="1.3" fill="#7aa356"/>
<rect x="133.3" y="153.9" width="1.3" height="1.3" fill="#7aa356"/>
<rect x="136.3" y="170.1" width="1.3" height="1.3" fill="#7aa356"/>
<rect x="135.1" y="181.1" width="1.3" height="1.3" fill="#7aa356"/>
<rect x="136.7" y="148.6" width="1.3" height="1.3" fill="#7aa356"/>
<rect x="133.1" y="154.2" width="1.3" height="1.3" fill="#7aa356"/>
<rect x="134.0" y="183.8" width="1.3" height="1.3" fill="#7aa356"/>
<rect x="135.8" y="149.5" width="1.3" height="1.3" fill="#7aa356"/>
<rect x="132.1" y="181.6" width="1.3" height="1.3" fill="#7aa356"/>
<rect x="135.1" y="164.1" width="1.3" height="1.3" fill="#7aa356"/>
<rect x="133.9" y="154.5" width="1.3" height="1.3" fill="#7aa356"/>
<rect x="136.1" y="164.1" width="1.3" height="1.3" fill="#7aa356"/>
<rect x="136.2" y="173.0" width="1.3" height="1.3" fill="#7aa356"/>
<rect x="133.7" y="137.9" width="1.3" height="1.3" fill="#7aa356"/>
<rect x="134.0" y="146.4" width="1.3" height="1.3" fill="#7aa356"/>
<rect x="135.0" y="133.7" width="1.3" height="1.3" fill="#7aa356"/>
<rect x="133.9" y="138.4" width="1.3" height="1.3" fill="#7aa356"/>
<rect x="134.7" y="141.7" width="1.3" height="1.3" fill="#7aa356"/>
<rect x="134.5" y="138.3" width="1.3" height="1.3" fill="#7aa356"/>
<rect x="133.5" y="141.7" width="1.3" height="1.3" fill="#7aa356"/>
<rect x="134.3" y="133.3" width="1.3" height="1.3" fill="#7aa356"/>
<rect x="134.6" y="147.8" width="1.3" height="1.3" fill="#7aa356"/>
<rect x="133.6" y="135.2" width="1.3" height="1.3" fill="#7aa356"/>
<rect x="135.2" y="137.1" width="1.3" height="1.3" fill="#7aa356"/>
<rect x="134.2" y="140.5" width="1.3" height="1.3" fill="#7aa356"/>
<rect x="134.2" y="141.5" width="1.3" height="1.3" fill="#7aa356"/>
<rect x="134.8" y="147.4" width="1.3" height="1.3" fill="#7aa356"/>
<rect x="136.0" y="133.5" width="1.3" height="1.3" fill="#7aa356"/>
<rect x="134.9" y="144.6" width="1.3" height="1.3" fill="#7aa356"/>
<rect x="135.7" y="144.6" width="1.3" height="1.3" fill="#7aa356"/>
<rect x="135.1" y="142.5" width="1.3" height="1.3" fill="#7aa356"/>
<rect x="134.4" y="137.2" width="1.3" height="1.3" fill="#7aa356"/>
<rect x="135.5" y="146.1" width="1.3" height="1.3" fill="#7aa356"/>
<rect x="135.8" y="143.2" width="1.3" height="1.3" fill="#7aa356"/>
<rect x="134.3" y="144.4" width="1.3" height="1.3" fill="#7aa356"/>
<rect x="135.3" y="140.6" width="1.3" height="1.3" fill="#7aa356"/>
<rect x="131.2" y="142.8" width="1.3" height="1.3" fill="#7aa356"/>
<rect x="130.8" y="143.2" width="1.3" height="1.3" fill="#7aa356"/>
<rect x="128.3" y="142.7" width="1.3" height="1.3" fill="#7aa356"/>
<rect x="129.6" y="147.9" width="1.3" height="1.3" fill="#7aa356"/>
<rect x="130.4" y="142.9" width="1.3" height="1.3" fill="#7aa356"/>
<rect x="129.2" y="141.9" width="1.3" height="1.3" fill="#7aa356"/>
<rect x="129.7" y="141.1" width="1.3" height="1.3" fill="#7aa356"/>
<rect x="128.0" y="147.0" width="1.3" height="1.3" fill="#7aa356"/>
<rect x="130.3" y="143.6" width="1.3" height="1.3" fill="#7aa356"/>
<rect x="130.8" y="142.4" width="1.3" height="1.3" fill="#7aa356"/>
<rect x="128.8" y="140.5" width="1.3" height="1.3" fill="#7aa356"/>
<rect x="129.5" y="142.5" width="1.3" height="1.3" fill="#7aa356"/>
<rect x="131.6" y="144.4" width="1.3" height="1.3" fill="#7aa356"/>
<rect x="132.7" y="142.7" width="1.3" height="1.3" fill="#7aa356"/>
<rect x="132.6" y="144.7" width="1.3" height="1.3" fill="#7aa356"/>
<rect x="128.4" y="141.4" width="1.3" height="1.3" fill="#7aa356"/>
<rect x="130.9" y="147.9" width="1.3" height="1.3" fill="#7aa356"/>
<rect x="129.8" y="146.2" width="1.3" height="1.3" fill="#7aa356"/>
<rect x="139.6" y="181.1" width="1.3" height="1.3" fill="#7aa356"/>
<rect x="137.4" y="166.9" width="1.3" height="1.3" fill="#7aa356"/>
<rect x="142.4" y="159.2" width="1.3" height="1.3" fill="#7aa356"/>
<rect x="138.5" y="149.9" width="1.3" height="1.3" fill="#7aa356"/>
<rect x="138.0" y="158.9" width="1.3" height="1.3" fill="#7aa356"/>
<rect x="141.2" y="157.1" width="1.3" height="1.3" fill="#7aa356"/>
<rect x="139.4" y="156.4" width="1.3" height="1.3" fill="#7aa356"/>
<rect x="140.6" y="181.0" width="1.3" height="1.3" fill="#7aa356"/>
<rect x="140.9" y="156.3" width="1.3" height="1.3" fill="#7aa356"/>
<rect x="141.4" y="184.6" width="1.3" height="1.3" fill="#7aa356"/>
<rect x="140.6" y="151.9" width="1.3" height="1.3" fill="#7aa356"/>
<rect x="141.9" y="181.4" width="1.3" height="1.3" fill="#7aa356"/>
<rect x="139.0" y="154.1" width="1.3" height="1.3" fill="#7aa356"/>
<rect x="138.1" y="168.9" width="1.3" height="1.3" fill="#7aa356"/>
<rect x="142.3" y="172.7" width="1.3" height="1.3" fill="#7aa356"/>
<rect x="142.5" y="156.9" width="1.3" height="1.3" fill="#7aa356"/>
<rect x="139.0" y="176.7" width="1.3" height="1.3" fill="#7aa356"/>
<rect x="140.9" y="164.0" width="1.3" height="1.3" fill="#7aa356"/>
<rect x="141.1" y="161.5" width="1.3" height="1.3" fill="#7aa356"/>
<rect x="137.3" y="164.3" width="1.3" height="1.3" fill="#7aa356"/>
<rect x="137.3" y="172.2" width="1.3" height="1.3" fill="#7aa356"/>
<rect x="139.0" y="167.3" width="1.3" height="1.3" fill="#7aa356"/>
<rect x="140.6" y="158.5" width="1.3" height="1.3" fill="#7aa356"/>
<rect x="139.8" y="149.5" width="1.3" height="1.3" fill="#7aa356"/>
<rect x="142.6" y="169.9" width="1.3" height="1.3" fill="#7aa356"/>
<rect x="142.9" y="151.1" width="1.3" height="1.3" fill="#7aa356"/>
<rect x="140.7" y="175.8" width="1.3" height="1.3" fill="#7aa356"/>
<rect x="139.0" y="152.5" width="1.3" height="1.3" fill="#7aa356"/>
<rect x="137.9" y="154.3" width="1.3" height="1.3" fill="#7aa356"/>
<rect x="141.6" y="152.3" width="1.3" height="1.3" fill="#7aa356"/>
<rect x="141.9" y="164.7" width="1.3" height="1.3" fill="#7aa356"/>
<rect x="140.2" y="170.8" width="1.3" height="1.3" fill="#7aa356"/>
<rect x="140.3" y="173.3" width="1.3" height="1.3" fill="#7aa356"/>
<rect x="140.6" y="161.2" width="1.3" height="1.3" fill="#7aa356"/>
<rect x="141.4" y="158.5" width="1.3" height="1.3" fill="#7aa356"/>
<rect x="141.3" y="177.2" width="1.3" height="1.3" fill="#7aa356"/>
<rect x="141.7" y="160.4" width="1.3" height="1.3" fill="#7aa356"/>
<rect x="141.6" y="185.2" width="1.3" height="1.3" fill="#7aa356"/>
<rect x="139.7" y="159.3" width="1.3" height="1.3" fill="#7aa356"/>
<rect x="140.1" y="183.8" width="1.3" height="1.3" fill="#7aa356"/>
<rect x="137.8" y="149.3" width="1.3" height="1.3" fill="#7aa356"/>
<rect x="139.9" y="173.2" width="1.3" height="1.3" fill="#7aa356"/>
<rect x="141.6" y="162.4" width="1.3" height="1.3" fill="#7aa356"/>
<rect x="142.9" y="157.4" width="1.3" height="1.3" fill="#7aa356"/>
<rect x="141.5" y="152.3" width="1.3" height="1.3" fill="#7aa356"/>
<rect x="137.2" y="154.0" width="1.3" height="1.3" fill="#7aa356"/>
<rect x="137.4" y="167.6" width="1.3" height="1.3" fill="#7aa356"/>
<rect x="140.3" y="155.7" width="1.3" height="1.3" fill="#7aa356"/>
<rect x="142.6" y="162.5" width="1.3" height="1.3" fill="#7aa356"/>
<rect x="137.9" y="155.6" width="1.3" height="1.3" fill="#7aa356"/>
<rect x="141.4" y="183.1" width="1.3" height="1.3" fill="#7aa356"/>
<rect x="138.0" y="150.1" width="1.3" height="1.3" fill="#7aa356"/>
<rect x="141.7" y="158.0" width="1.3" height="1.3" fill="#7aa356"/>
<rect x="142.9" y="167.5" width="1.3" height="1.3" fill="#7aa356"/>
<rect x="140.8" y="161.7" width="1.3" height="1.3" fill="#7aa356"/>
<rect x="141.8" y="166.0" width="1.3" height="1.3" fill="#7aa356"/>
<rect x="138.9" y="182.4" width="1.3" height="1.3" fill="#7aa356"/>
<rect x="137.6" y="176.1" width="1.3" height="1.3" fill="#7aa356"/>
<rect x="137.4" y="172.9" width="1.3" height="1.3" fill="#7aa356"/>
<rect x="139.4" y="181.0" width="1.3" height="1.3" fill="#7aa356"/>
<rect x="137.4" y="169.9" width="1.3" height="1.3" fill="#7aa356"/>
<rect x="139.5" y="183.0" width="1.3" height="1.3" fill="#7aa356"/>
<rect x="142.7" y="172.2" width="1.3" height="1.3" fill="#7aa356"/>
<rect x="138.3" y="158.3" width="1.3" height="1.3" fill="#7aa356"/>
<rect x="138.6" y="165.1" width="1.3" height="1.3" fill="#7aa356"/>
<rect x="138.4" y="156.5" width="1.3" height="1.3" fill="#7aa356"/>
<rect x="141.6" y="172.8" width="1.3" height="1.3" fill="#7aa356"/>
<rect x="138.8" y="185.8" width="1.3" height="1.3" fill="#7aa356"/>
<rect x="138.3" y="170.1" width="1.3" height="1.3" fill="#7aa356"/>
<rect x="137.9" y="180.9" width="1.3" height="1.3" fill="#7aa356"/>
<rect x="142.2" y="158.9" width="1.3" height="1.3" fill="#7aa356"/>
<rect x="141.5" y="179.4" width="1.3" height="1.3" fill="#7aa356"/>
<rect x="138.7" y="161.3" width="1.3" height="1.3" fill="#7aa356"/>
<rect x="139.9" y="182.0" width="1.3" height="1.3" fill="#7aa356"/>
<rect x="138.0" y="174.3" width="1.3" height="1.3" fill="#7aa356"/>
<rect x="140.6" y="165.8" width="1.3" height="1.3" fill="#7aa356"/>
<rect x="140.5" y="181.7" width="1.3" height="1.3" fill="#7aa356"/>
<rect x="138.3" y="181.7" width="1.3" height="1.3" fill="#7aa356"/>
<rect x="139.2" y="177.9" width="1.3" height="1.3" fill="#7aa356"/>
<rect x="142.2" y="155.7" width="1.3" height="1.3" fill="#7aa356"/>
<rect x="142.2" y="185.8" width="1.3" height="1.3" fill="#7aa356"/>
<rect x="138.8" y="149.9" width="1.3" height="1.3" fill="#7aa356"/>
<rect x="137.7" y="185.1" width="1.3" height="1.3" fill="#7aa356"/>
<rect x="137.1" y="182.7" width="1.3" height="1.3" fill="#7aa356"/>
<rect x="137.9" y="176.2" width="1.3" height="1.3" fill="#7aa356"/>
<rect x="137.6" y="155.2" width="1.3" height="1.3" fill="#7aa356"/>
<rect x="141.1" y="152.3" width="1.3" height="1.3" fill="#7aa356"/>
<rect x="139.0" y="183.0" width="1.3" height="1.3" fill="#7aa356"/>
<rect x="141.3" y="181.6" width="1.3" height="1.3" fill="#7aa356"/>
<rect x="142.9" y="150.2" width="1.3" height="1.3" fill="#7aa356"/>
<rect x="138.4" y="178.3" width="1.3" height="1.3" fill="#7aa356"/>
<rect x="141.1" y="150.4" width="1.3" height="1.3" fill="#7aa356"/>
<rect x="140.0" y="157.6" width="1.3" height="1.3" fill="#7aa356"/>
<rect x="139.6" y="152.9" width="1.3" height="1.3" fill="#7aa356"/>
<rect x="137.1" y="185.7" width="1.3" height="1.3" fill="#7aa356"/>
<rect x="138.9" y="181.5" width="1.3" height="1.3" fill="#7aa356"/>
<rect x="137.7" y="167.0" width="1.3" height="1.3" fill="#7aa356"/>
<rect x="137.8" y="164.9" width="1.3" height="1.3" fill="#7aa356"/>
<rect x="138.1" y="174.4" width="1.3" height="1.3" fill="#7aa356"/>
<rect x="137.9" y="176.3" width="1.3" height="1.3" fill="#7aa356"/>
<rect x="140.0" y="153.2" width="1.3" height="1.3" fill="#7aa356"/>
<rect x="139.1" y="167.4" width="1.3" height="1.3" fill="#7aa356"/>
<rect x="142.5" y="161.9" width="1.3" height="1.3" fill="#7aa356"/>
<rect x="138.3" y="184.8" width="1.3" height="1.3" fill="#7aa356"/>
<rect x="142.3" y="176.1" width="1.3" height="1.3" fill="#7aa356"/>
<rect x="138.6" y="155.6" width="1.3" height="1.3" fill="#7aa356"/>
<rect x="138.6" y="151.6" width="1.3" height="1.3" fill="#7aa356"/>
<rect x="137.3" y="167.8" width="1.3" height="1.3" fill="#7aa356"/>
<rect x="139.4" y="169.6" width="1.3" height="1.3" fill="#7aa356"/>
<rect x="139.2" y="149.4" width="1.3" height="1.3" fill="#7aa356"/>
<rect x="141.1" y="173.2" width="1.3" height="1.3" fill="#7aa356"/>
<rect x="140.3" y="169.3" width="1.3" height="1.3" fill="#7aa356"/>
<rect x="141.1" y="185.3" width="1.3" height="1.3" fill="#7aa356"/>
<rect x="142.2" y="175.6" width="1.3" height="1.3" fill="#7aa356"/>
<rect x="139.4" y="160.8" width="1.3" height="1.3" fill="#7aa356"/>
<rect x="139.5" y="185.0" width="1.3" height="1.3" fill="#7aa356"/>
<rect x="139.3" y="163.3" width="1.3" height="1.3" fill="#7aa356"/>
<rect x="139.5" y="154.3" width="1.3" height="1.3" fill="#7aa356"/>
<rect x="143.0" y="149.2" width="1.3" height="1.3" fill="#7aa356"/>
<rect x="140.6" y="183.3" width="1.3" height="1.3" fill="#7aa356"/>
<rect x="138.5" y="171.6" width="1.3" height="1.3" fill="#7aa356"/>
<rect x="139.3" y="157.9" width="1.3" height="1.3" fill="#7aa356"/>
<rect x="138.2" y="153.3" width="1.3" height="1.3" fill="#7aa356"/>
<rect x="142.1" y="178.0" width="1.3" height="1.3" fill="#7aa356"/>
<rect x="142.5" y="150.8" width="1.3" height="1.3" fill="#7aa356"/>
<rect x="141.2" y="161.0" width="1.3" height="1.3" fill="#7aa356"/>
<rect x="140.9" y="169.3" width="1.3" height="1.3" fill="#7aa356"/>
<rect x="138.9" y="184.9" width="1.3" height="1.3" fill="#7aa356"/>
<rect x="137.0" y="176.6" width="1.3" height="1.3" fill="#7aa356"/>
<rect x="142.1" y="167.9" width="1.3" height="1.3" fill="#7aa356"/>
<rect x="140.6" y="185.8" width="1.3" height="1.3" fill="#7aa356"/>
<rect x="138.4" y="172.3" width="1.3" height="1.3" fill="#7aa356"/>
<rect x="141.5" y="163.0" width="1.3" height="1.3" fill="#7aa356"/>
<rect x="141.3" y="163.6" width="1.3" height="1.3" fill="#7aa356"/>
<rect x="140.2" y="171.7" width="1.3" height="1.3" fill="#7aa356"/>
<rect x="141.1" y="160.9" width="1.3" height="1.3" fill="#7aa356"/>
<rect x="140.8" y="169.1" width="1.3" height="1.3" fill="#7aa356"/>
<rect x="138.3" y="171.7" width="1.3" height="1.3" fill="#7aa356"/>
<rect x="138.6" y="182.6" width="1.3" height="1.3" fill="#7aa356"/>
<rect x="139.8" y="175.7" width="1.3" height="1.3" fill="#7aa356"/>
<rect x="140.1" y="166.6" width="1.3" height="1.3" fill="#7aa356"/>
<rect x="138.3" y="154.3" width="1.3" height="1.3" fill="#7aa356"/>
<rect x="142.6" y="168.6" width="1.3" height="1.3" fill="#7aa356"/>
<rect x="140.1" y="168.5" width="1.3" height="1.3" fill="#7aa356"/>
<rect x="141.9" y="157.8" width="1.3" height="1.3" fill="#7aa356"/>
<rect x="138.0" y="179.4" width="1.3" height="1.3" fill="#7aa356"/>
<rect x="139.8" y="172.7" width="1.3" height="1.3" fill="#7aa356"/>
<rect x="142.0" y="182.1" width="1.3" height="1.3" fill="#7aa356"/>
<rect x="142.2" y="150.6" width="1.3" height="1.3" fill="#7aa356"/>
<rect x="139.3" y="179.8" width="1.3" height="1.3" fill="#7aa356"/>
<rect x="141.9" y="153.6" width="1.3" height="1.3" fill="#7aa356"/>
<rect x="143.6" y="169.3" width="1.3" height="1.3" fill="#7aa356"/>
<rect x="143.4" y="171.1" width="1.3" height="1.3" fill="#7aa356"/>
<rect x="146.2" y="173.9" width="1.3" height="1.3" fill="#7aa356"/>
<rect x="144.8" y="166.5" width="1.3" height="1.3" fill="#7aa356"/>
<rect x="144.6" y="181.9" width="1.3" height="1.3" fill="#7aa356"/>
<rect x="145.8" y="172.6" width="1.3" height="1.3" fill="#7aa356"/>
<rect x="144.9" y="178.6" width="1.3" height="1.3" fill="#7aa356"/>
<rect x="146.0" y="167.5" width="1.3" height="1.3" fill="#7aa356"/>
<rect x="145.7" y="171.2" width="1.3" height="1.3" fill="#7aa356"/>
<rect x="145.1" y="169.0" width="1.3" height="1.3" fill="#7aa356"/>
<rect x="144.5" y="170.8" width="1.3" height="1.3" fill="#7aa356"/>
<rect x="144.5" y="165.3" width="1.3" height="1.3" fill="#7aa356"/>
<rect x="143.8" y="174.7" width="1.3" height="1.3" fill="#7aa356"/>
<rect x="143.2" y="168.0" width="1.3" height="1.3" fill="#7aa356"/>
<rect x="145.9" y="169.7" width="1.3" height="1.3" fill="#7aa356"/>
<rect x="144.3" y="169.1" width="1.3" height="1.3" fill="#7aa356"/>
<rect x="146.3" y="166.6" width="1.3" height="1.3" fill="#7aa356"/>
<rect x="145.5" y="179.6" width="1.3" height="1.3" fill="#7aa356"/>
<rect x="143.8" y="172.2" width="1.3" height="1.3" fill="#7aa356"/>
<rect x="146.2" y="175.5" width="1.3" height="1.3" fill="#7aa356"/>
<rect x="144.5" y="165.7" width="1.3" height="1.3" fill="#7aa356"/>
<rect x="144.8" y="171.2" width="1.3" height="1.3" fill="#7aa356"/>
<rect x="145.9" y="170.0" width="1.3" height="1.3" fill="#7aa356"/>
<rect x="144.6" y="176.0" width="1.3" height="1.3" fill="#7aa356"/>
<rect x="156.5" y="155.0" width="1.3" height="1.3" fill="#7aa356"/>
<rect x="153.1" y="159.6" width="1.3" height="1.3" fill="#7aa356"/>
<rect x="157.4" y="151.8" width="1.3" height="1.3" fill="#7aa356"/>
<rect x="157.8" y="162.2" width="1.3" height="1.3" fill="#7aa356"/>
<rect x="153.0" y="161.3" width="1.3" height="1.3" fill="#7aa356"/>
<rect x="152.6" y="149.4" width="1.3" height="1.3" fill="#7aa356"/>
<rect x="156.0" y="155.6" width="1.3" height="1.3" fill="#7aa356"/>
<rect x="154.2" y="157.9" width="1.3" height="1.3" fill="#7aa356"/>
<rect x="157.2" y="163.1" width="1.3" height="1.3" fill="#7aa356"/>
<rect x="150.2" y="159.9" width="1.3" height="1.3" fill="#7aa356"/>
<rect x="153.7" y="157.2" width="1.3" height="1.3" fill="#7aa356"/>
<rect x="156.7" y="156.3" width="1.3" height="1.3" fill="#7aa356"/>
<rect x="153.8" y="165.8" width="1.3" height="1.3" fill="#7aa356"/>
<rect x="153.5" y="157.8" width="1.3" height="1.3" fill="#7aa356"/>
<rect x="154.1" y="164.5" width="1.3" height="1.3" fill="#7aa356"/>
<rect x="155.4" y="162.8" width="1.3" height="1.3" fill="#7aa356"/>
<rect x="153.2" y="148.8" width="1.3" height="1.3" fill="#7aa356"/>
<rect x="155.4" y="159.1" width="1.3" height="1.3" fill="#7aa356"/>
<rect x="156.2" y="163.4" width="1.3" height="1.3" fill="#7aa356"/>
<rect x="150.9" y="152.4" width="1.3" height="1.3" fill="#7aa356"/>
<rect x="150.6" y="164.3" width="1.3" height="1.3" fill="#7aa356"/>
<rect x="150.8" y="149.8" width="1.3" height="1.3" fill="#7aa356"/>
<rect x="156.0" y="159.3" width="1.3" height="1.3" fill="#7aa356"/>
<rect x="150.4" y="161.6" width="1.3" height="1.3" fill="#7aa356"/>
<rect x="155.7" y="157.7" width="1.3" height="1.3" fill="#7aa356"/>
<rect x="150.4" y="161.8" width="1.3" height="1.3" fill="#7aa356"/>
<rect x="153.3" y="159.7" width="1.3" height="1.3" fill="#7aa356"/>
<rect x="158.0" y="164.3" width="1.3" height="1.3" fill="#7aa356"/>
<rect x="157.0" y="150.9" width="1.3" height="1.3" fill="#7aa356"/>
<rect x="152.7" y="158.4" width="1.3" height="1.3" fill="#7aa356"/>
<rect x="150.0" y="167.8" width="1.3" height="1.3" fill="#7aa356"/>
<rect x="152.2" y="153.2" width="1.3" height="1.3" fill="#7aa356"/>
<rect x="152.5" y="153.1" width="1.3" height="1.3" fill="#7aa356"/>
<rect x="156.9" y="159.1" width="1.3" height="1.3" fill="#7aa356"/>
<rect x="154.1" y="156.4" width="1.3" height="1.3" fill="#7aa356"/>
<rect x="150.4" y="154.1" width="1.3" height="1.3" fill="#7aa356"/>
<rect x="156.9" y="164.0" width="1.3" height="1.3" fill="#7aa356"/>
<rect x="156.9" y="153.1" width="1.3" height="1.3" fill="#7aa356"/>
<rect x="151.6" y="149.0" width="1.3" height="1.3" fill="#7aa356"/>
<rect x="154.3" y="155.5" width="1.3" height="1.3" fill="#7aa356"/>
<rect x="153.7" y="157.8" width="1.3" height="1.3" fill="#7aa356"/>
<rect x="154.7" y="155.3" width="1.3" height="1.3" fill="#7aa356"/>
<rect x="156.4" y="152.0" width="1.3" height="1.3" fill="#7aa356"/>
<rect x="157.4" y="159.1" width="1.3" height="1.3" fill="#7aa356"/>
<rect x="150.4" y="154.3" width="1.3" height="1.3" fill="#7aa356"/>
<rect x="154.3" y="156.2" width="1.3" height="1.3" fill="#7aa356"/>
<rect x="154.5" y="154.5" width="1.3" height="1.3" fill="#7aa356"/>
<rect x="152.2" y="163.9" width="1.3" height="1.3" fill="#7aa356"/>
<rect x="152.3" y="162.2" width="1.3" height="1.3" fill="#7aa356"/>
<rect x="156.4" y="159.8" width="1.3" height="1.3" fill="#7aa356"/>
<rect x="153.6" y="166.7" width="1.3" height="1.3" fill="#7aa356"/>
<rect x="153.6" y="165.6" width="1.3" height="1.3" fill="#7aa356"/>
<rect x="150.5" y="156.7" width="1.3" height="1.3" fill="#7aa356"/>
<rect x="155.1" y="149.0" width="1.3" height="1.3" fill="#7aa356"/>
<rect x="156.9" y="149.4" width="1.3" height="1.3" fill="#7aa356"/>
<rect x="154.8" y="151.6" width="1.3" height="1.3" fill="#7aa356"/>
<rect x="157.4" y="159.2" width="1.3" height="1.3" fill="#7aa356"/>
<rect x="156.4" y="158.0" width="1.3" height="1.3" fill="#7aa356"/>
<rect x="155.4" y="161.5" width="1.3" height="1.3" fill="#7aa356"/>
<rect x="152.4" y="152.2" width="1.3" height="1.3" fill="#7aa356"/>
<rect x="156.7" y="150.9" width="1.3" height="1.3" fill="#7aa356"/>
<rect x="157.3" y="152.1" width="1.3" height="1.3" fill="#7aa356"/>
<rect x="150.8" y="149.9" width="1.3" height="1.3" fill="#7aa356"/>
<rect x="156.3" y="167.0" width="1.3" height="1.3" fill="#7aa356"/>
<rect x="153.3" y="161.2" width="1.3" height="1.3" fill="#7aa356"/>
<rect x="152.1" y="166.1" width="1.3" height="1.3" fill="#7aa356"/>
<rect x="155.5" y="151.1" width="1.3" height="1.3" fill="#7aa356"/>
<rect x="150.5" y="161.9" width="1.3" height="1.3" fill="#7aa356"/>
<rect x="150.3" y="164.7" width="1.3" height="1.3" fill="#7aa356"/>
<rect x="152.3" y="152.7" width="1.3" height="1.3" fill="#7aa356"/>
<rect x="154.7" y="154.4" width="1.3" height="1.3" fill="#7aa356"/>
<rect x="154.5" y="151.1" width="1.3" height="1.3" fill="#7aa356"/>
<rect x="157.3" y="154.5" width="1.3" height="1.3" fill="#7aa356"/>
<rect x="156.7" y="151.0" width="1.3" height="1.3" fill="#7aa356"/>
<rect x="156.4" y="167.6" width="1.3" height="1.3" fill="#7aa356"/>
<rect x="153.1" y="148.7" width="1.3" height="1.3" fill="#7aa356"/>
<rect x="153.0" y="160.8" width="1.3" height="1.3" fill="#7aa356"/>
<rect x="151.8" y="158.9" width="1.3" height="1.3" fill="#7aa356"/>
<rect x="150.7" y="157.3" width="1.3" height="1.3" fill="#7aa356"/>
<rect x="155.8" y="156.6" width="1.3" height="1.3" fill="#7aa356"/>
<rect x="155.4" y="150.3" width="1.3" height="1.3" fill="#7aa356"/>
<rect x="156.6" y="150.4" width="1.3" height="1.3" fill="#7aa356"/>
<rect x="157.4" y="167.9" width="1.3" height="1.3" fill="#7aa356"/>
<rect x="157.5" y="158.5" width="1.3" height="1.3" fill="#7aa356"/>
<rect x="152.3" y="155.0" width="1.3" height="1.3" fill="#7aa356"/>
<rect x="156.0" y="157.9" width="1.3" height="1.3" fill="#7aa356"/>
<rect x="157.4" y="149.9" width="1.3" height="1.3" fill="#7aa356"/>
<rect x="153.9" y="165.3" width="1.3" height="1.3" fill="#7aa356"/>
<rect x="154.8" y="158.8" width="1.3" height="1.3" fill="#7aa356"/>
<rect x="150.7" y="150.8" width="1.3" height="1.3" fill="#7aa356"/>
<rect x="152.2" y="165.9" width="1.3" height="1.3" fill="#7aa356"/>
<rect x="156.8" y="152.5" width="1.3" height="1.3" fill="#7aa356"/>
<rect x="157.4" y="148.6" width="1.3" height="1.3" fill="#7aa356"/>
<rect x="154.8" y="167.3" width="1.3" height="1.3" fill="#7aa356"/>
<rect x="152.8" y="166.9" width="1.3" height="1.3" fill="#7aa356"/>
<rect x="155.3" y="149.0" width="1.3" height="1.3" fill="#7aa356"/>
<rect x="152.7" y="157.0" width="1.3" height="1.3" fill="#7aa356"/>
<rect x="152.0" y="162.8" width="1.3" height="1.3" fill="#7aa356"/>
<rect x="151.4" y="163.8" width="1.3" height="1.3" fill="#7aa356"/>
<rect x="152.4" y="149.4" width="1.3" height="1.3" fill="#7aa356"/>
<rect x="154.5" y="149.9" width="1.3" height="1.3" fill="#7aa356"/>
<rect x="154.4" y="163.8" width="1.3" height="1.3" fill="#7aa356"/>
<rect x="154.8" y="157.2" width="1.3" height="1.3" fill="#7aa356"/>
<rect x="150.3" y="158.3" width="1.3" height="1.3" fill="#7aa356"/>
<rect x="150.8" y="160.9" width="1.3" height="1.3" fill="#7aa356"/>
<rect x="151.1" y="159.6" width="1.3" height="1.3" fill="#7aa356"/>
<rect x="152.8" y="155.5" width="1.3" height="1.3" fill="#7aa356"/>
<rect x="155.3" y="151.3" width="1.3" height="1.3" fill="#7aa356"/>
<rect x="151.4" y="166.8" width="1.3" height="1.3" fill="#7aa356"/>
<rect x="152.7" y="164.8" width="1.3" height="1.3" fill="#7aa356"/>
<rect x="157.0" y="157.6" width="1.3" height="1.3" fill="#7aa356"/>
<rect x="151.2" y="149.9" width="1.3" height="1.3" fill="#7aa356"/>
<rect x="157.0" y="150.3" width="1.3" height="1.3" fill="#7aa356"/>
<rect x="154.0" y="158.7" width="1.3" height="1.3" fill="#7aa356"/>
<rect x="150.9" y="157.4" width="1.3" height="1.3" fill="#7aa356"/>
<rect x="151.3" y="158.7" width="1.3" height="1.3" fill="#7aa356"/>
<rect x="154.1" y="155.3" width="1.3" height="1.3" fill="#7aa356"/>
<rect x="151.6" y="156.1" width="1.3" height="1.3" fill="#7aa356"/>
<rect x="151.6" y="150.5" width="1.3" height="1.3" fill="#7aa356"/>
<rect x="151.9" y="165.4" width="1.3" height="1.3" fill="#7aa356"/>
<rect x="154.0" y="165.8" width="1.3" height="1.3" fill="#7aa356"/>
<rect x="150.1" y="166.9" width="1.3" height="1.3" fill="#7aa356"/>
<rect x="153.9" y="163.8" width="1.3" height="1.3" fill="#7aa356"/>
<rect x="154.6" y="161.8" width="1.3" height="1.3" fill="#7aa356"/>
<rect x="151.8" y="163.0" width="1.3" height="1.3" fill="#7aa356"/>
<rect x="151.2" y="153.3" width="1.3" height="1.3" fill="#7aa356"/>
<rect x="150.2" y="155.9" width="1.3" height="1.3" fill="#7aa356"/>
<rect x="154.1" y="153.8" width="1.3" height="1.3" fill="#7aa356"/>
<rect x="157.1" y="149.7" width="1.3" height="1.3" fill="#7aa356"/>
<rect x="154.6" y="152.7" width="1.3" height="1.3" fill="#7aa356"/>
<rect x="154.8" y="179.0" width="1.3" height="1.3" fill="#7aa356"/>
<rect x="155.7" y="168.9" width="1.3" height="1.3" fill="#7aa356"/>
<rect x="152.0" y="176.4" width="1.3" height="1.3" fill="#7aa356"/>
<rect x="157.9" y="168.6" width="1.3" height="1.3" fill="#7aa356"/>
<rect x="154.9" y="177.7" width="1.3" height="1.3" fill="#7aa356"/>
<rect x="156.5" y="172.8" width="1.3" height="1.3" fill="#7aa356"/>
<rect x="156.5" y="174.5" width="1.3" height="1.3" fill="#7aa356"/>
<rect x="157.4" y="168.2" width="1.3" height="1.3" fill="#7aa356"/>
<rect x="157.5" y="173.8" width="1.3" height="1.3" fill="#7aa356"/>
<rect x="153.3" y="169.2" width="1.3" height="1.3" fill="#7aa356"/>
<rect x="152.0" y="178.3" width="1.3" height="1.3" fill="#7aa356"/>
<rect x="155.4" y="170.1" width="1.3" height="1.3" fill="#7aa356"/>
<rect x="152.8" y="170.0" width="1.3" height="1.3" fill="#7aa356"/>
<rect x="151.6" y="171.1" width="1.3" height="1.3" fill="#7aa356"/>
<rect x="152.6" y="181.7" width="1.3" height="1.3" fill="#7aa356"/>
<rect x="158.0" y="179.1" width="1.3" height="1.3" fill="#7aa356"/>
<rect x="153.8" y="175.0" width="1.3" height="1.3" fill="#7aa356"/>
<rect x="156.2" y="180.7" width="1.3" height="1.3" fill="#7aa356"/>
<rect x="156.0" y="176.9" width="1.3" height="1.3" fill="#7aa356"/>
<rect x="151.6" y="176.8" width="1.3" height="1.3" fill="#7aa356"/>
<rect x="156.8" y="179.0" width="1.3" height="1.3" fill="#7aa356"/>
<rect x="150.7" y="178.0" width="1.3" height="1.3" fill="#7aa356"/>
<rect x="152.8" y="170.3" width="1.3" height="1.3" fill="#7aa356"/>
<rect x="157.7" y="177.4" width="1.3" height="1.3" fill="#7aa356"/>
<rect x="156.0" y="169.9" width="1.3" height="1.3" fill="#7aa356"/>
<rect x="156.6" y="181.1" width="1.3" height="1.3" fill="#7aa356"/>
<rect x="157.2" y="178.4" width="1.3" height="1.3" fill="#7aa356"/>
<rect x="156.7" y="179.2" width="1.3" height="1.3" fill="#7aa356"/>
<rect x="154.7" y="174.1" width="1.3" height="1.3" fill="#7aa356"/>
<rect x="156.6" y="179.0" width="1.3" height="1.3" fill="#7aa356"/>
<rect x="157.0" y="172.2" width="1.3" height="1.3" fill="#7aa356"/>
<rect x="157.7" y="175.4" width="1.3" height="1.3" fill="#7aa356"/>
<rect x="157.6" y="169.6" width="1.3" height="1.3" fill="#7aa356"/>
<rect x="157.7" y="179.0" width="1.3" height="1.3" fill="#7aa356"/>
<rect x="152.0" y="179.7" width="1.3" height="1.3" fill="#7aa356"/>
<rect x="151.9" y="170.8" width="1.3" height="1.3" fill="#7aa356"/>
<rect x="153.7" y="171.3" width="1.3" height="1.3" fill="#7aa356"/>
<rect x="153.9" y="180.7" width="1.3" height="1.3" fill="#7aa356"/>
<rect x="155.5" y="177.9" width="1.3" height="1.3" fill="#7aa356"/>
<rect x="153.1" y="179.0" width="1.3" height="1.3" fill="#7aa356"/>
<rect x="156.3" y="177.6" width="1.3" height="1.3" fill="#7aa356"/>
<rect x="157.5" y="179.6" width="1.3" height="1.3" fill="#7aa356"/>
<rect x="153.2" y="169.2" width="1.3" height="1.3" fill="#7aa356"/>
<rect x="155.2" y="179.7" width="1.3" height="1.3" fill="#7aa356"/>
<rect x="152.7" y="176.3" width="1.3" height="1.3" fill="#7aa356"/>
<rect x="156.7" y="179.1" width="1.3" height="1.3" fill="#7aa356"/>
<rect x="150.0" y="174.8" width="1.3" height="1.3" fill="#7aa356"/>
<rect x="150.1" y="169.5" width="1.3" height="1.3" fill="#7aa356"/>
<rect x="156.5" y="173.9" width="1.3" height="1.3" fill="#7aa356"/>
<rect x="154.8" y="174.4" width="1.3" height="1.3" fill="#7aa356"/>
<rect x="152.7" y="171.0" width="1.3" height="1.3" fill="#7aa356"/>
<rect x="152.8" y="179.8" width="1.3" height="1.3" fill="#7aa356"/>
<rect x="155.0" y="172.1" width="1.3" height="1.3" fill="#7aa356"/>
<rect x="150.7" y="171.8" width="1.3" height="1.3" fill="#7aa356"/>
<rect x="155.6" y="174.2" width="1.3" height="1.3" fill="#7aa356"/>
<rect x="155.3" y="179.3" width="1.3" height="1.3" fill="#7aa356"/>
<rect x="151.0" y="177.6" width="1.3" height="1.3" fill="#7aa356"/>
<rect x="150.3" y="179.5" width="1.3" height="1.3" fill="#7aa356"/>
<rect x="151.5" y="171.8" width="1.3" height="1.3" fill="#7aa356"/>
<rect x="157.7" y="173.1" width="1.3" height="1.3" fill="#7aa356"/>
<rect x="151.8" y="180.5" width="1.3" height="1.3" fill="#7aa356"/>
<rect x="154.9" y="180.5" width="1.3" height="1.3" fill="#7aa356"/>
<rect x="153.2" y="175.0" width="1.3" height="1.3" fill="#7aa356"/>
<rect x="157.6" y="175.1" width="1.3" height="1.3" fill="#7aa356"/>
<rect x="157.9" y="170.7" width="1.3" height="1.3" fill="#7aa356"/>
<rect x="156.6" y="170.3" width="1.3" height="1.3" fill="#7aa356"/>
<rect x="154.2" y="168.0" width="1.3" height="1.3" fill="#7aa356"/>
<rect x="151.4" y="181.2" width="1.3" height="1.3" fill="#7aa356"/>
<rect x="153.6" y="179.3" width="1.3" height="1.3" fill="#7aa356"/>
<rect x="152.0" y="172.9" width="1.3" height="1.3" fill="#7aa356"/>
<rect x="150.8" y="175.7" width="1.3" height="1.3" fill="#7aa356"/>
<rect x="156.9" y="175.2" width="1.3" height="1.3" fill="#7aa356"/>
<rect x="153.0" y="181.0" width="1.3" height="1.3" fill="#7aa356"/>
<rect x="157.2" y="177.3" width="1.3" height="1.3" fill="#7aa356"/>
<rect x="150.6" y="176.7" width="1.3" height="1.3" fill="#7aa356"/>
<rect x="153.6" y="181.4" width="1.3" height="1.3" fill="#7aa356"/>
<rect x="152.9" y="177.3" width="1.3" height="1.3" fill="#7aa356"/>
<rect x="155.1" y="173.3" width="1.3" height="1.3" fill="#7aa356"/>
<rect x="154.2" y="177.5" width="1.3" height="1.3" fill="#7aa356"/>
<rect x="157.3" y="175.0" width="1.3" height="1.3" fill="#7aa356"/>
<rect x="152.9" y="181.7" width="1.3" height="1.3" fill="#7aa356"/>
<rect x="150.5" y="179.7" width="1.3" height="1.3" fill="#7aa356"/>
<rect x="155.5" y="175.8" width="1.3" height="1.3" fill="#7aa356"/>
<rect x="153.6" y="178.5" width="1.3" height="1.3" fill="#7aa356"/>
<rect x="157.1" y="178.2" width="1.3" height="1.3" fill="#7aa356"/>
<rect x="156.0" y="168.5" width="1.3" height="1.3" fill="#7aa356"/>
<rect x="159.0" y="172.6" width="1.3" height="1.3" fill="#7aa356"/>
<rect x="160.9" y="181.7" width="1.3" height="1.3" fill="#7aa356"/>
<rect x="158.4" y="178.1" width="1.3" height="1.3" fill="#7aa356"/>
<rect x="159.7" y="171.6" width="1.3" height="1.3" fill="#7aa356"/>
<rect x="159.2" y="180.0" width="1.3" height="1.3" fill="#7aa356"/>
<rect x="159.9" y="174.4" width="1.3" height="1.3" fill="#7aa356"/>
<rect x="160.3" y="174.5" width="1.3" height="1.3" fill="#7aa356"/>
<rect x="159.6" y="176.0" width="1.3" height="1.3" fill="#7aa356"/>
<rect x="160.9" y="178.8" width="1.3" height="1.3" fill="#7aa356"/>
<rect x="160.4" y="179.1" width="1.3" height="1.3" fill="#7aa356"/>
<rect x="159.1" y="182.6" width="1.3" height="1.3" fill="#7aa356"/>
<rect x="160.1" y="179.3" width="1.3" height="1.3" fill="#7aa356"/>
<rect x="158.8" y="172.9" width="1.3" height="1.3" fill="#7aa356"/>
<rect x="159.7" y="180.9" width="1.3" height="1.3" fill="#7aa356"/>
<rect x="160.4" y="175.2" width="1.3" height="1.3" fill="#7aa356"/>
<rect x="158.4" y="177.2" width="1.3" height="1.3" fill="#7aa356"/>
<rect x="45.3" y="187.3" width="1.3" height="1.3" fill="#7aa356"/>
<rect x="42.2" y="187.4" width="1.3" height="1.3" fill="#7aa356"/>
<rect x="32.9" y="186.4" width="1.3" height="1.3" fill="#7aa356"/>
<rect x="32.5" y="189.1" width="1.3" height="1.3" fill="#7aa356"/>
<rect x="47.3" y="193.7" width="1.3" height="1.3" fill="#7aa356"/>
<rect x="30.1" y="188.5" width="1.3" height="1.3" fill="#7aa356"/>
<rect x="46.8" y="187.6" width="1.3" height="1.3" fill="#7aa356"/>
<rect x="33.1" y="189.5" width="1.3" height="1.3" fill="#7aa356"/>
<rect x="28.4" y="188.1" width="1.3" height="1.3" fill="#7aa356"/>
<rect x="34.7" y="189.1" width="1.3" height="1.3" fill="#7aa356"/>
<rect x="47.2" y="188.1" width="1.3" height="1.3" fill="#7aa356"/>
<rect x="30.5" y="193.3" width="1.3" height="1.3" fill="#7aa356"/>
<rect x="35.9" y="192.7" width="1.3" height="1.3" fill="#7aa356"/>
<rect x="40.0" y="192.2" width="1.3" height="1.3" fill="#7aa356"/>
<rect x="32.9" y="187.2" width="1.3" height="1.3" fill="#7aa356"/>
<rect x="42.7" y="189.8" width="1.3" height="1.3" fill="#7aa356"/>
<rect x="38.3" y="191.4" width="1.3" height="1.3" fill="#7aa356"/>
<rect x="42.6" y="188.2" width="1.3" height="1.3" fill="#7aa356"/>
<rect x="34.0" y="193.3" width="1.3" height="1.3" fill="#7aa356"/>
<rect x="53.3" y="178.2" width="1.3" height="1.3" fill="#7aa356"/>
<rect x="54.3" y="177.9" width="1.3" height="1.3" fill="#7aa356"/>
<rect x="55.7" y="175.5" width="1.3" height="1.3" fill="#7aa356"/>
<rect x="56.3" y="181.2" width="1.3" height="1.3" fill="#7aa356"/>
<rect x="51.5" y="185.3" width="1.3" height="1.3" fill="#7aa356"/>
<rect x="50.7" y="177.7" width="1.3" height="1.3" fill="#7aa356"/>
<rect x="48.7" y="181.0" width="1.3" height="1.3" fill="#7aa356"/>
<rect x="55.5" y="182.5" width="1.3" height="1.3" fill="#7aa356"/>
<rect x="52.1" y="183.9" width="1.3" height="1.3" fill="#7aa356"/>
<rect x="49.1" y="178.4" width="1.3" height="1.3" fill="#7aa356"/>
<rect x="54.4" y="185.6" width="1.3" height="1.3" fill="#7aa356"/>
<rect x="54.3" y="182.6" width="1.3" height="1.3" fill="#7aa356"/>
<rect x="55.7" y="179.3" width="1.3" height="1.3" fill="#7aa356"/>
<rect x="57.4" y="183.2" width="1.3" height="1.3" fill="#7aa356"/>
<rect x="63.8" y="182.7" width="1.3" height="1.3" fill="#7aa356"/>
<rect x="71.7" y="182.2" width="1.3" height="1.3" fill="#7aa356"/>
<rect x="61.2" y="188.5" width="1.3" height="1.3" fill="#7aa356"/>
<rect x="67.0" y="184.3" width="1.3" height="1.3" fill="#7aa356"/>
<rect x="69.4" y="188.8" width="1.3" height="1.3" fill="#7aa356"/>
<rect x="60.3" y="182.1" width="1.3" height="1.3" fill="#7aa356"/>
<rect x="59.1" y="183.0" width="1.3" height="1.3" fill="#7aa356"/>
<rect x="66.5" y="188.2" width="1.3" height="1.3" fill="#7aa356"/>
<rect x="69.4" y="184.9" width="1.3" height="1.3" fill="#7aa356"/>
<rect x="64.9" y="184.9" width="1.3" height="1.3" fill="#7aa356"/>
<rect x="62.7" y="188.1" width="1.3" height="1.3" fill="#7aa356"/>
<rect x="71.4" y="188.1" width="1.3" height="1.3" fill="#7aa356"/>
<rect x="60.6" y="186.1" width="1.3" height="1.3" fill="#7aa356"/>
<rect x="70.8" y="184.0" width="1.3" height="1.3" fill="#7aa356"/>
<rect x="73.3" y="188.8" width="1.3" height="1.3" fill="#7aa356"/>
<rect x="70.6" y="187.9" width="1.3" height="1.3" fill="#7aa356"/>
<rect x="69.0" y="188.5" width="1.3" height="1.3" fill="#7aa356"/>
<rect x="60.2" y="186.4" width="1.3" height="1.3" fill="#7aa356"/>
<rect x="94.0" y="185.8" width="1.3" height="1.3" fill="#7aa356"/>
<rect x="82.4" y="177.1" width="1.3" height="1.3" fill="#7aa356"/>
<rect x="91.3" y="189.2" width="1.3" height="1.3" fill="#7aa356"/>
<rect x="82.4" y="179.4" width="1.3" height="1.3" fill="#7aa356"/>
<rect x="81.0" y="177.5" width="1.3" height="1.3" fill="#7aa356"/>
<rect x="93.3" y="191.6" width="1.3" height="1.3" fill="#7aa356"/>
<rect x="96.7" y="181.8" width="1.3" height="1.3" fill="#7aa356"/>
<rect x="93.9" y="177.2" width="1.3" height="1.3" fill="#7aa356"/>
<rect x="97.6" y="181.2" width="1.3" height="1.3" fill="#7aa356"/>
<rect x="75.1" y="186.1" width="1.3" height="1.3" fill="#7aa356"/>
<rect x="78.7" y="180.4" width="1.3" height="1.3" fill="#7aa356"/>
<rect x="76.6" y="183.1" width="1.3" height="1.3" fill="#7aa356"/>
<rect x="90.0" y="188.9" width="1.3" height="1.3" fill="#7aa356"/>
<rect x="76.1" y="189.2" width="1.3" height="1.3" fill="#7aa356"/>
<rect x="78.0" y="179.6" width="1.3" height="1.3" fill="#7aa356"/>
<rect x="92.0" y="181.4" width="1.3" height="1.3" fill="#7aa356"/>
<rect x="83.9" y="185.1" width="1.3" height="1.3" fill="#7aa356"/>
<rect x="80.9" y="188.7" width="1.3" height="1.3" fill="#7aa356"/>
<rect x="80.6" y="189.4" width="1.3" height="1.3" fill="#7aa356"/>
<rect x="96.8" y="184.6" width="1.3" height="1.3" fill="#7aa356"/>
<rect x="75.8" y="188.4" width="1.3" height="1.3" fill="#7aa356"/>
<rect x="75.8" y="184.1" width="1.3" height="1.3" fill="#7aa356"/>
<rect x="86.4" y="177.0" width="1.3" height="1.3" fill="#7aa356"/>
<rect x="92.0" y="187.6" width="1.3" height="1.3" fill="#7aa356"/>
<rect x="90.8" y="182.4" width="1.3" height="1.3" fill="#7aa356"/>
<rect x="88.8" y="185.4" width="1.3" height="1.3" fill="#7aa356"/>
<rect x="81.1" y="189.9" width="1.3" height="1.3" fill="#7aa356"/>
<rect x="101.9" y="188.9" width="1.3" height="1.3" fill="#7aa356"/>
<rect x="101.0" y="181.3" width="1.3" height="1.3" fill="#7aa356"/>
<rect x="101.6" y="177.1" width="1.3" height="1.3" fill="#7aa356"/>
<rect x="87.9" y="178.1" width="1.3" height="1.3" fill="#7aa356"/>
<rect x="104.3" y="176.8" width="1.3" height="1.3" fill="#7aa356"/>
<rect x="105.5" y="175.2" width="1.3" height="1.3" fill="#7aa356"/>
<rect x="103.7" y="173.3" width="1.3" height="1.3" fill="#7aa356"/>
<rect x="104.0" y="174.0" width="1.3" height="1.3" fill="#7aa356"/>
<rect x="103.0" y="177.2" width="1.3" height="1.3" fill="#7aa356"/>
<rect x="104.6" y="175.1" width="1.3" height="1.3" fill="#7aa356"/>
<rect x="108.6" y="184.3" width="1.3" height="1.3" fill="#7aa356"/>
<rect x="108.6" y="180.4" width="1.3" height="1.3" fill="#7aa356"/>
<rect x="111.5" y="184.3" width="1.3" height="1.3" fill="#7aa356"/>
<rect x="114.8" y="184.7" width="1.3" height="1.3" fill="#7aa356"/>
<rect x="114.6" y="186.3" width="1.3" height="1.3" fill="#7aa356"/>
<rect x="112.8" y="184.5" width="1.3" height="1.3" fill="#7aa356"/>
<rect x="107.5" y="179.9" width="1.3" height="1.3" fill="#7aa356"/>
<rect x="107.1" y="185.8" width="1.3" height="1.3" fill="#7aa356"/>
<rect x="112.8" y="183.7" width="1.3" height="1.3" fill="#7aa356"/>
<rect x="167.1" y="164.8" width="1.3" height="1.3" fill="#7aa356"/>
<rect x="165.4" y="167.1" width="1.3" height="1.3" fill="#7aa356"/>
<rect x="179.9" y="164.4" width="1.3" height="1.3" fill="#7aa356"/>
<rect x="163.3" y="163.4" width="1.3" height="1.3" fill="#7aa356"/>
<rect x="168.7" y="169.2" width="1.3" height="1.3" fill="#7aa356"/>
<rect x="176.6" y="165.6" width="1.3" height="1.3" fill="#7aa356"/>
<rect x="164.3" y="162.9" width="1.3" height="1.3" fill="#7aa356"/>
<rect x="165.2" y="168.2" width="1.3" height="1.3" fill="#7aa356"/>
<rect x="170.7" y="169.9" width="1.3" height="1.3" fill="#7aa356"/>
<rect x="178.5" y="168.4" width="1.3" height="1.3" fill="#7aa356"/>
<rect x="170.8" y="168.6" width="1.3" height="1.3" fill="#7aa356"/>
<rect x="164.7" y="162.9" width="1.3" height="1.3" fill="#7aa356"/>
<rect x="172.4" y="166.1" width="1.3" height="1.3" fill="#7aa356"/>
<rect x="166.2" y="164.0" width="1.3" height="1.3" fill="#7aa356"/>
<rect x="162.9" y="169.3" width="1.3" height="1.3" fill="#7aa356"/>
<rect x="174.9" y="169.6" width="1.3" height="1.3" fill="#7aa356"/>
<rect x="179.7" y="165.5" width="1.3" height="1.3" fill="#7aa356"/>
<rect x="175.3" y="165.1" width="1.3" height="1.3" fill="#7aa356"/>
<rect x="176.7" y="168.7" width="1.3" height="1.3" fill="#7aa356"/>
<rect x="181.3" y="164.1" width="1.3" height="1.3" fill="#7aa356"/>
<rect x="182.1" y="169.9" width="1.3" height="1.3" fill="#7aa356"/>
<rect x="183.8" y="164.1" width="1.3" height="1.3" fill="#7aa356"/>
<rect x="188.3" y="171.9" width="1.3" height="1.3" fill="#7aa356"/>
<rect x="184.6" y="164.4" width="1.3" height="1.3" fill="#7aa356"/>
<rect x="188.9" y="169.3" width="1.3" height="1.3" fill="#7aa356"/>
<rect x="180.7" y="167.2" width="1.3" height="1.3" fill="#7aa356"/>
<rect x="186.2" y="172.9" width="1.3" height="1.3" fill="#7aa356"/>
<rect x="184.8" y="170.4" width="1.3" height="1.3" fill="#7aa356"/>
<rect x="182.1" y="166.4" width="1.3" height="1.3" fill="#7aa356"/>
<rect x="189.1" y="167.8" width="1.3" height="1.3" fill="#7aa356"/>
<rect x="181.0" y="169.9" width="1.3" height="1.3" fill="#7aa356"/>
<rect x="181.3" y="166.0" width="1.3" height="1.3" fill="#7aa356"/>
<rect x="196.8" y="178.4" width="1.3" height="1.3" fill="#7aa356"/>
<rect x="199.5" y="179.8" width="1.3" height="1.3" fill="#7aa356"/>
<rect x="196.6" y="172.7" width="1.3" height="1.3" fill="#7aa356"/>
<rect x="200.9" y="172.6" width="1.3" height="1.3" fill="#7aa356"/>
<rect x="197.1" y="176.4" width="1.3" height="1.3" fill="#7aa356"/>
<rect x="200.1" y="179.9" width="1.3" height="1.3" fill="#7aa356"/>
<rect x="193.6" y="179.1" width="1.3" height="1.3" fill="#7aa356"/>
<rect x="200.4" y="177.2" width="1.3" height="1.3" fill="#7aa356"/>
<rect x="192.1" y="182.0" width="1.3" height="1.3" fill="#7aa356"/>
<rect x="199.0" y="172.7" width="1.3" height="1.3" fill="#7aa356"/>
<rect x="193.6" y="182.9" width="1.3" height="1.3" fill="#7aa356"/>
<rect x="193.4" y="176.3" width="1.3" height="1.3" fill="#7aa356"/>
<rect x="201.8" y="181.1" width="1.3" height="1.3" fill="#7aa356"/>
<rect x="199.5" y="180.2" width="1.3" height="1.3" fill="#7aa356"/>
<rect x="190.6" y="173.0" width="1.3" height="1.3" fill="#7aa356"/>
<rect x="204.6" y="180.8" width="1.3" height="1.3" fill="#7aa356"/>
<rect x="190.6" y="172.5" width="1.3" height="1.3" fill="#7aa356"/>
<rect x="193.6" y="182.2" width="1.3" height="1.3" fill="#7aa356"/>
<rect x="193.3" y="179.4" width="1.3" height="1.3" fill="#7aa356"/>
<rect x="204.0" y="179.0" width="1.3" height="1.3" fill="#7aa356"/>
<rect x="203.8" y="174.9" width="1.3" height="1.3" fill="#7aa356"/>
<rect x="192.3" y="172.2" width="1.3" height="1.3" fill="#7aa356"/>
<rect x="201.4" y="173.1" width="1.3" height="1.3" fill="#7aa356"/>
<rect x="204.6" y="179.8" width="1.3" height="1.3" fill="#7aa356"/>
<rect x="192.8" y="180.9" width="1.3" height="1.3" fill="#7aa356"/>
<rect x="192.4" y="177.6" width="1.3" height="1.3" fill="#7aa356"/>
<rect x="207.0" y="184.7" width="1.3" height="1.3" fill="#7aa356"/>
<rect x="221.9" y="186.1" width="1.3" height="1.3" fill="#7aa356"/>
<rect x="205.0" y="185.4" width="1.3" height="1.3" fill="#7aa356"/>
<rect x="215.6" y="185.0" width="1.3" height="1.3" fill="#7aa356"/>
<rect x="214.5" y="182.8" width="1.3" height="1.3" fill="#7aa356"/>
<rect x="216.3" y="184.8" width="1.3" height="1.3" fill="#7aa356"/>
<rect x="206.5" y="176.6" width="1.3" height="1.3" fill="#7aa356"/>
<rect x="215.4" y="179.2" width="1.3" height="1.3" fill="#7aa356"/>
<rect x="212.5" y="176.1" width="1.3" height="1.3" fill="#7aa356"/>
<rect x="219.2" y="176.3" width="1.3" height="1.3" fill="#7aa356"/>
<rect x="220.8" y="184.9" width="1.3" height="1.3" fill="#7aa356"/>
<rect x="213.7" y="177.3" width="1.3" height="1.3" fill="#7aa356"/>
<rect x="217.4" y="178.3" width="1.3" height="1.3" fill="#7aa356"/>
<rect x="213.2" y="177.2" width="1.3" height="1.3" fill="#7aa356"/>
<rect x="223.6" y="182.0" width="1.3" height="1.3" fill="#7aa356"/>
<rect x="211.7" y="177.0" width="1.3" height="1.3" fill="#7aa356"/>
<rect x="218.9" y="185.3" width="1.3" height="1.3" fill="#7aa356"/>
<rect x="221.1" y="177.1" width="1.3" height="1.3" fill="#7aa356"/>
<rect x="212.0" y="179.3" width="1.3" height="1.3" fill="#7aa356"/>
<rect x="219.5" y="177.6" width="1.3" height="1.3" fill="#7aa356"/>
<rect x="216.5" y="186.8" width="1.3" height="1.3" fill="#7aa356"/>
<rect x="219.6" y="176.1" width="1.3" height="1.3" fill="#7aa356"/>
<rect x="206.4" y="177.3" width="1.3" height="1.3" fill="#7aa356"/>
<rect x="218.2" y="182.6" width="1.3" height="1.3" fill="#7aa356"/>
<rect x="214.9" y="181.0" width="1.3" height="1.3" fill="#7aa356"/>
<rect x="212.7" y="182.7" width="1.3" height="1.3" fill="#7aa356"/>
<rect x="217.3" y="186.1" width="1.3" height="1.3" fill="#7aa356"/>
<rect x="218.9" y="184.8" width="1.3" height="1.3" fill="#7aa356"/>
<rect x="34" y="183" width="1.2" height="1.2" fill="#7aa356"/>
<rect x="44" y="179" width="1.2" height="1.2" fill="#7aa356"/>
<rect x="52" y="173" width="1.2" height="1.2" fill="#7aa356"/>
<rect x="61" y="178" width="1.2" height="1.2" fill="#7aa356"/>
<rect x="74" y="176" width="1.2" height="1.2" fill="#7aa356"/>
<rect x="98" y="173" width="1.2" height="1.2" fill="#7aa356"/>
<rect x="107" y="177" width="1.2" height="1.2" fill="#7aa356"/>
<rect x="113" y="163" width="1.2" height="1.2" fill="#7aa356"/>
<rect x="124" y="142" width="1.2" height="1.2" fill="#7aa356"/>
<rect x="127" y="136" width="1.2" height="1.2" fill="#7aa356"/>
<rect x="136" y="138" width="1.2" height="1.2" fill="#7aa356"/>
<rect x="143" y="145" width="1.2" height="1.2" fill="#7aa356"/>
<rect x="150" y="143" width="1.2" height="1.2" fill="#7aa356"/>
<rect x="160" y="160" width="1.2" height="1.2" fill="#7aa356"/>
<rect x="166" y="162" width="1.2" height="1.2" fill="#7aa356"/>
<rect x="176" y="160" width="1.2" height="1.2" fill="#7aa356"/>
<rect x="186" y="163" width="1.2" height="1.2" fill="#7aa356"/>
<rect x="198" y="170" width="1.2" height="1.2" fill="#7aa356"/>
<rect x="216" y="172" width="1.2" height="1.2" fill="#7aa356"/>
<rect x="219" y="175" width="1.2" height="1.2" fill="#7aa356"/>
<line x1="24.8" y1="134" x2="24.8" y2="212.5" stroke="#222" stroke-width="0.8"/>
<line x1="22.8" y1="212.2" x2="24.8" y2="212.2" stroke="#222" stroke-width="0.8"/>
<text x="21.2" y="215.1" font-size="8.3" fill="#222" text-anchor="end">0</text>
<line x1="22.8" y1="192.7" x2="24.8" y2="192.7" stroke="#222" stroke-width="0.8"/>
<text x="21.2" y="195.6" font-size="8.3" fill="#222" text-anchor="end">5</text>
<line x1="22.8" y1="173.2" x2="24.8" y2="173.2" stroke="#222" stroke-width="0.8"/>
<text x="21.2" y="176.1" font-size="8.3" fill="#222" text-anchor="end">10</text>
<line x1="22.8" y1="153.7" x2="24.8" y2="153.7" stroke="#222" stroke-width="0.8"/>
<text x="21.2" y="156.6" font-size="8.3" fill="#222" text-anchor="end">15</text>
<line x1="22.8" y1="134.2" x2="24.8" y2="134.2" stroke="#222" stroke-width="0.8"/>
<text x="21.2" y="137.1" font-size="8.3" fill="#222" text-anchor="end">20</text>
<line x1="24.8" y1="215.5" x2="224.5" y2="215.5" stroke="#222" stroke-width="0.8"/>
<line x1="27.2" y1="215.5" x2="27.2" y2="217.5" stroke="#222" stroke-width="0.8"/>
<line x1="60.1" y1="215.5" x2="60.1" y2="217.5" stroke="#222" stroke-width="0.8"/>
<line x1="91.5" y1="215.5" x2="91.5" y2="217.5" stroke="#222" stroke-width="0.8"/>
<line x1="121.7" y1="215.5" x2="121.7" y2="217.5" stroke="#222" stroke-width="0.8"/>
<line x1="152.4" y1="215.5" x2="152.4" y2="217.5" stroke="#222" stroke-width="0.8"/>
<line x1="183.6" y1="215.5" x2="183.6" y2="217.5" stroke="#222" stroke-width="0.8"/>
<line x1="213.7" y1="215.5" x2="213.7" y2="217.5" stroke="#222" stroke-width="0.8"/>
<text x="16.5" y="227.2" font-size="7.6" fill="#222">4D (Mb)</text>
<text x="61" y="227.2" font-size="7.6" fill="#222" text-anchor="middle">437.5</text>
<text x="91.8" y="227.2" font-size="7.6" fill="#222" text-anchor="middle">440</text>
<text x="122.4" y="227.2" font-size="7.6" fill="#222" text-anchor="middle">442.5</text>
<text x="153" y="227.2" font-size="7.6" fill="#222" text-anchor="middle">445</text>
<text x="185.3" y="227.2" font-size="7.6" fill="#222" text-anchor="middle">447.5</text>
<text x="215.5" y="227.2" font-size="7.6" fill="#222" text-anchor="middle">450</text>
<text x="0" y="0" font-size="8.6" fill="#222" text-anchor="middle" transform="translate(8.7 172) rotate(-90)">-log<tspan font-size="5.3" dy="1.6">10</tspan><tspan dy="-1.6"> (</tspan><tspan font-style="italic">p</tspan>)</text>
<text x="233.5" y="14.9" font-size="16.8" fill="#1a1311" font-weight="bold">b</text>
<text x="256.5" y="46.6" font-size="8" fill="#222" text-anchor="end">442.8</text>
<line x1="258.5" y1="43.8" x2="424.5" y2="43.8" stroke="#111" stroke-width="2.8"/>
<rect x="261.8" y="40" width="6.1" height="9.4" fill="#6b98c4"/>
<rect x="284.7" y="40" width="1.4" height="9.2" fill="#5b8fc0"/>
<rect x="311.9" y="40" width="1.4" height="9.2" fill="#5b8fc0"/>
<rect x="363" y="40" width="1.4" height="9.2" fill="#5b8fc0"/>
<rect x="367.7" y="40" width="1.4" height="9.2" fill="#5b8fc0"/>
<rect x="391.2" y="40" width="1.4" height="9.2" fill="#5b8fc0"/>
<rect x="399.2" y="40" width="1.4" height="9.2" fill="#5b8fc0"/>
<rect x="403.5" y="40" width="1.4" height="9.2" fill="#5b8fc0"/>
<rect x="415.1" y="40" width="1.4" height="9.2" fill="#5b8fc0"/>
<text x="428.7" y="46.6" font-size="8" fill="#222">443.8 Mb 4D</text>
<text x="261.9" y="38.3" font-size="9" fill="#222" letter-spacing="-0.35" transform="rotate(-30 261.9 38.3)">4Dg0135136</text>
<text x="281.7" y="38.3" font-size="9" fill="#222" letter-spacing="-0.35" transform="rotate(-30 281.7 38.3)">4Dg0135137</text>
<text x="301.2" y="38.3" font-size="9" fill="#222" letter-spacing="-0.35" transform="rotate(-30 301.2 38.3)">4Dg0135138</text>
<text x="320.6" y="38.3" font-size="9" fill="#222" letter-spacing="-0.35" transform="rotate(-30 320.6 38.3)">4Dg0135139</text>
<text x="339.6" y="38.3" font-size="9" fill="#222" letter-spacing="-0.35" transform="rotate(-30 339.6 38.3)">4Dg0135140</text>
<text x="359.4" y="38.3" font-size="9" fill="#222" letter-spacing="-0.35" transform="rotate(-30 359.4 38.3)">4Dg0135142</text>
<text x="379.0" y="38.3" font-size="9" fill="#222" letter-spacing="-0.35" transform="rotate(-30 379.0 38.3)">4Dg0135143</text>
<text x="398.4" y="38.3" font-size="9" fill="#c8494b" letter-spacing="-0.35" transform="rotate(-30 398.4 38.3)">4Dg0135144</text>
<text x="414.8" y="38.3" font-size="9" fill="#222" letter-spacing="-0.35" transform="rotate(-30 414.8 38.3)">4Dg0135147</text>
<path d="M257.5,73.3 L402.6,50.9 L448.1,75" fill="none" stroke="#333" stroke-width="0.9" stroke-dasharray="3.5,2.5"/>
<text x="368" y="74" font-size="8" fill="#222" text-anchor="middle">4D: 443,656,114 - 443,661,115 bp</text>
<rect x="257.3" y="76.5" width="191.2" height="93.2" fill="none" stroke="#777" stroke-width="0.7"/>
<rect x="254" y="76.5" width="1.1" height="48" fill="#f0a550"/>
<rect x="254" y="125" width="1.1" height="44.5" fill="#7fcaa6"/>
<text x="248.8" y="105" font-size="8" fill="#222" text-anchor="middle" font-style="italic" transform="rotate(-90 248.8 102.2)">A. fatua</text>
<text x="247.9" y="151.1" font-size="8" fill="#222" text-anchor="middle" font-style="italic" transform="rotate(-90 247.9 148.3)">A. sativa</text>
<polygon points="259,86.4 259,83.2 260.2,82.5 261.4,82.2 262.6,83 263.8,82.7 265,82 266.2,82.2 267.4,81.5 268.6,82.1 269.8,81.3 271,81.4 272.2,81 273.4,81.5 274.6,81.8 275.8,82.1 277,82.4 278.2,83.1 279.4,83.2 280.6,82.4 281.8,82.1 283,81.3 284.2,80.8 285.4,80.4 286.6,80.4 287.8,80.4 289,80.8 290.2,81.3 291.4,81.4 292.6,82.3 293.8,82.8 295,82.1 296.2,81.3 297.4,81.6 298.6,81.1 299.8,80.6 301,80.4 302.2,80.4 303.4,80.4 304.6,81.1 305.8,80.5 307,80.9 308.2,80.6 309.4,80.9 310.6,80.8 311.8,80.4 313,81 314.2,81 315.4,80.7 316.6,80.6 317.8,80.4 319,80.6 320.2,80.4 321.4,80.4 322.6,80.4 323.8,81.1 325,81.7 326.2,82 327.4,81.3 328.6,82.2 329.8,82.6 331,82.2 332.2,81.3 333.4,81.9 334.6,82 335.8,81.7 337,81.4 338.2,80.9 339.4,80.5 340.6,80.9 341.8,81.4 343,82.2 344.2,81.9 345.4,82.4 346.6,82.8 347.8,82 349,81.7 350.2,81.6 351.4,81.3 352.6,81.1 353.8,80.7 355,81.1 356.2,81.9 357.4,82.7 358.6,83.5 359.8,83.8 361,84.4 362.2,85.1 363.4,85.1 364.6,84.3 365.8,84 367,84.4 368.2,83.9 369.4,84.5 370.6,85.2 371.8,85.5 373,85.6 374.2,85.3 375.4,85.4 376.6,84.9 377.8,85.6 379,84.8 380.2,85.1 381.4,84.5 382.6,85.4 383.8,84.8 385,85.3 386.2,84.6 387.4,84.1 388.6,83.8 389.8,84.2 391,85 392.2,85.6 393.4,84.9 394.6,85.5 395.8,85.2 397,85 398.2,84.8 399.4,85.3 400.6,85.6 401.8,85.6 403,84.7 404.2,84.9 405.4,84.7 406.6,84.5 407.8,85 409,85.6 410.2,85.6 411.4,85 412.6,85.6 413.8,84.8 415,85 416.2,84.6 417.4,85.3 418.6,84.7 419.8,85.2 421,85.4 422.2,85.4 423.4,85.6 424.6,85.6 425.8,85.1 427,85.5 428.2,85.6 429.4,85.1 430.6,85.6 431.8,85.6 433,85.6 434.2,85.6 435.4,85.6 436.6,85.3 437.8,85.4 439,84.7 440.2,85.5 441.4,85.2 442.6,84.6 443.8,85.1 445,85.6 446.2,85.6 446.7,86.4" fill="#f19f48"/>
<text x="259.5" y="81.8" font-size="4.5" fill="#444">[0 - 20]</text>
<polygon points="259,95.6 259,93.8 260.2,93.9 261.4,93.5 262.6,94.2 263.8,94.8 265,94.8 266.2,94.8 267.4,94.8 268.6,94.8 269.8,94.8 271,94.8 272.2,94.8 273.4,94.8 274.6,94 275.8,93.9 277,94.7 278.2,94.8 279.4,94.4 280.6,94.2 281.8,93.6 283,92.7 284.2,92.1 285.4,92.8 286.6,92 287.8,92 289,92.4 290.2,93 291.4,92.4 292.6,92.9 293.8,93.6 295,94.1 296.2,93.3 297.4,93.4 298.6,92.9 299.8,93.7 301,93.8 302.2,94.1 303.4,94.7 304.6,94.4 305.8,94.6 307,94.8 308.2,93.9 309.4,94 310.6,94.5 311.8,94.8 313,94.5 314.2,94.5 315.4,94.8 316.6,94.8 317.8,94.4 319,94.3 320.2,94.8 321.4,94.8 322.6,94.6 323.8,94.3 325,94.8 326.2,94.3 327.4,93.5 328.6,93 329.8,92.4 331,92.6 332.2,91.9 333.4,92.5 334.6,93 335.8,92.8 337,92.1 338.2,92.8 339.4,93.3 340.6,94.2 341.8,94.3 343,94.8 344.2,94.8 345.4,94.4 346.6,94.2 347.8,93.4 349,93.6 350.2,93.3 351.4,94.1 352.6,93.3 353.8,93.8 355,93.9 356.2,93.8 357.4,93 358.6,93 359.8,92.2 361,91.9 362.2,92.5 363.4,91.8 364.6,92.4 365.8,91.5 367,91.6 368.2,92.1 369.4,91.2 370.6,91.5 371.8,91.7 373,92 374.2,91.7 375.4,92.6 376.6,92.8 377.8,93.4 379,92.8 380.2,93.7 381.4,93.5 382.6,93.9 383.8,94 385,93.9 386.2,93.5 387.4,94.2 388.6,94.6 389.8,94.8 391,94 392.2,94.6 393.4,94.8 394.6,94.8 395.8,94.6 397,93.9 398.2,94.7 399.4,94.8 400.6,94.8 401.8,94.6 403,94.7 404.2,94.8 405.4,94.1 406.6,93.8 407.8,93.2 409,92.3 410.2,92.8 411.4,92 412.6,92.1 413.8,92.9 415,92.2 416.2,92.9 417.4,93.8 418.6,94.1 419.8,94.5 421,93.7 422.2,93 423.4,93.2 424.6,93.1 425.8,92.5 427,91.9 428.2,91.7 429.4,91.6 430.6,92.3 431.8,92.8 433,92.5 434.2,92.3 435.4,91.8 436.6,91.1 437.8,90.2 439,90.8 440.2,91.6 441.4,90.8 442.6,90.7 443.8,91.3 445,91 446.2,91.4 446.7,95.6" fill="#f19f48"/>
<text x="259.5" y="91" font-size="4.5" fill="#444">[0 - 20]</text>
<polygon points="259,104.8 259,102.8 260.2,103 261.4,103 262.6,102.7 263.8,103.4 265,103 266.2,102.8 267.4,102.8 268.6,102.5 269.8,102 271,102.8 272.2,102.9 273.4,102.6 274.6,102.2 275.8,101.9 277,102.5 278.2,101.7 279.4,101.2 280.6,101.6 281.8,101.8 283,100.9 284.2,101.5 285.4,101.6 286.6,100.8 287.8,100.1 289,100.6 290.2,100.1 291.4,100.4 292.6,100.1 293.8,99.6 295,100.3 296.2,100.8 297.4,101.3 298.6,101.7 299.8,102.6 301,103.2 302.2,103.4 303.4,103.5 304.6,104 305.8,103.9 307,103.1 308.2,102.9 309.4,103.2 310.6,102.8 311.8,102.9 313,103.5 314.2,103.5 315.4,104 316.6,103.7 317.8,104 319,104 320.2,103.2 321.4,102.7 322.6,102.1 323.8,101.8 325,101.6 326.2,101.2 327.4,100.4 328.6,100.9 329.8,100.4 331,100.8 332.2,101.2 333.4,100.7 334.6,100.5 335.8,99.9 337,99.2 338.2,99 339.4,99.6 340.6,100.4 341.8,100.4 343,100 344.2,100.4 345.4,101.1 346.6,102 347.8,102.6 349,102.3 350.2,103.2 351.4,103.7 352.6,104 353.8,103.6 355,102.7 356.2,103.6 357.4,104 358.6,103.2 359.8,102.4 361,103 362.2,103.3 363.4,103.3 364.6,103.6 365.8,103.7 367,103.8 368.2,104 369.4,104 370.6,104 371.8,104 373,104 374.2,103.8 375.4,103.4 376.6,103.8 377.8,103.3 379,102.9 380.2,103.2 381.4,103.2 382.6,103.8 383.8,103 385,102.9 386.2,103.7 387.4,104 388.6,103.7 389.8,103.9 391,103.5 392.2,104 393.4,103.4 394.6,102.9 395.8,103.6 397,103.5 398.2,104 399.4,103.6 400.6,103.1 401.8,102.6 403,103 404.2,103.8 405.4,103.5 406.6,103.4 407.8,104 409,104 410.2,103.9 411.4,104 412.6,103.8 413.8,104 415,104 416.2,104 417.4,103.9 418.6,103.5 419.8,104 421,103.6 422.2,104 423.4,104 424.6,103.7 425.8,103.4 427,103.2 428.2,102.5 429.4,103 430.6,103.3 431.8,103.1 433,103.5 434.2,104 435.4,104 436.6,103.5 437.8,102.9 439,102.5 440.2,101.7 441.4,101.2 442.6,101.5 443.8,101.9 445,101.5 446.2,102.3 446.7,104.8" fill="#f19f48"/>
<text x="259.5" y="100.2" font-size="4.5" fill="#444">[0 - 20]</text>
<polygon points="259,114 259,111.3 260.2,112 261.4,112.9 262.6,112.8 263.8,113.2 265,112.4 266.2,111.7 267.4,111.8 268.6,112.4 269.8,113 271,113 272.2,113 273.4,113.2 274.6,112.8 275.8,112.8 277,112.3 278.2,113 279.4,113.2 280.6,113.2 281.8,113.2 283,113.2 284.2,112.9 285.4,113.2 286.6,113.2 287.8,113.2 289,112.8 290.2,112.3 291.4,112.6 292.6,112.7 293.8,111.9 295,111.1 296.2,110.9 297.4,111.6 298.6,111.7 299.8,111.4 301,111.8 302.2,112.7 303.4,111.8 304.6,111.1 305.8,111.7 307,111.8 308.2,111.6 309.4,111.9 310.6,112.7 311.8,112.3 313,111.8 314.2,111.9 315.4,112.6 316.6,112.8 317.8,113.2 319,112.4 320.2,113.2 321.4,113.2 322.6,112.7 323.8,113.2 325,113.2 326.2,113.2 327.4,113.2 328.6,113.1 329.8,112.5 331,113.1 332.2,113.2 333.4,112.7 334.6,112.9 335.8,113.1 337,113.2 338.2,113.2 339.4,112.4 340.6,113 341.8,113.2 343,112.8 344.2,112.1 345.4,111.3 346.6,111.4 347.8,110.6 349,110.4 350.2,110.8 351.4,110.8 352.6,110.4 353.8,110 355,110.7 356.2,111.2 357.4,110.4 358.6,111.1 359.8,110.5 361,110.8 362.2,111.3 363.4,111.7 364.6,111.8 365.8,110.9 367,111.5 368.2,110.9 369.4,111.2 370.6,111.8 371.8,111.4 373,111.7 374.2,112.2 375.4,112.4 376.6,111.8 377.8,111.1 379,111 380.2,111.9 381.4,111.4 382.6,111.2 383.8,110.5 385,109.7 386.2,110 387.4,109.4 388.6,108.8 389.8,109.2 391,109.4 392.2,109.7 393.4,109.9 394.6,110.2 395.8,110.9 397,111.4 398.2,110.6 399.4,110.8 400.6,110.5 401.8,109.8 403,109.4 404.2,109.8 405.4,109.1 406.6,108.5 407.8,108 409,108 410.2,108 411.4,108 412.6,108.4 413.8,108.2 415,108.4 416.2,108 417.4,108.7 418.6,108.6 419.8,108.9 421,108.3 422.2,108.6 423.4,108 424.6,108 425.8,108 427,108.6 428.2,108 429.4,108 430.6,108 431.8,108 433,108.8 434.2,108.1 435.4,108.1 436.6,108.1 437.8,108.4 439,108 440.2,108 441.4,108 442.6,108.5 443.8,108.8 445,109.3 446.2,110 446.7,114" fill="#f19f48"/>
<text x="259.5" y="109.4" font-size="4.5" fill="#444">[0 - 20]</text>
<polygon points="259,123.2 259,121 260.2,121.9 261.4,121.3 262.6,121.8 263.8,122.4 265,122.4 266.2,122 267.4,122.4 268.6,122.4 269.8,122.4 271,121.9 272.2,121 273.4,121.4 274.6,121.1 275.8,120.4 277,120.5 278.2,119.8 279.4,119.3 280.6,119.7 281.8,119 283,118.9 284.2,119.6 285.4,119.4 286.6,118.8 287.8,118.8 289,118.8 290.2,119 291.4,118.3 292.6,118 293.8,118.5 295,118.8 296.2,119 297.4,118.2 298.6,117.8 299.8,118.5 301,117.8 302.2,118.6 303.4,118.4 304.6,118.6 305.8,118.2 307,118.3 308.2,119 309.4,119 310.6,118.4 311.8,117.9 313,118.2 314.2,118.7 315.4,118.2 316.6,117.7 317.8,118.2 319,117.5 320.2,117.2 321.4,117.3 322.6,117.5 323.8,117.2 325,117.2 326.2,117.7 327.4,118.1 328.6,118.4 329.8,118 331,118.5 332.2,118.5 333.4,118.5 334.6,118.2 335.8,118.8 337,118 338.2,117.2 339.4,117.2 340.6,117.2 341.8,117.8 343,117.2 344.2,117.2 345.4,117.2 346.6,117.2 347.8,117.4 349,117.2 350.2,117.7 351.4,118.6 352.6,118.6 353.8,117.9 355,117.2 356.2,117.2 357.4,117.2 358.6,117.2 359.8,117.2 361,117.8 362.2,117.6 363.4,117.2 364.6,117.3 365.8,117.2 367,117.6 368.2,118 369.4,118.2 370.6,118.2 371.8,118.2 373,118.9 374.2,119.8 375.4,120.1 376.6,119.7 377.8,119.3 379,119.8 380.2,120.2 381.4,120.2 382.6,120.8 383.8,120.6 385,119.8 386.2,120.4 387.4,120.2 388.6,119.8 389.8,119.4 391,119 392.2,118.6 393.4,119 394.6,118.4 395.8,117.7 397,118.5 398.2,117.7 399.4,117.8 400.6,118.5 401.8,119.3 403,118.7 404.2,118.4 405.4,119.1 406.6,119.1 407.8,118.9 409,118 410.2,118.3 411.4,117.8 412.6,118.3 413.8,118.8 415,119.4 416.2,119.6 417.4,119.4 418.6,119.7 419.8,120.3 421,120.8 422.2,121.6 423.4,122.1 424.6,122.4 425.8,122.4 427,122.4 428.2,122.4 429.4,122.4 430.6,121.5 431.8,121.6 433,120.8 434.2,120.8 435.4,121.4 436.6,121.2 437.8,121.8 439,122.4 440.2,122.4 441.4,122 442.6,121.2 443.8,121.4 445,121.6 446.2,121.8 446.7,123.2" fill="#f19f48"/>
<text x="259.5" y="118.6" font-size="4.5" fill="#444">[0 - 20]</text>
<line x1="259" y1="132.2" x2="446.7" y2="132.2" stroke="#9bd6ba" stroke-width="0.8"/>
<polygon points="259,132.2 259,127.1 260,126.2 261,127 262,127.5 263,125.8 264,126.5 265,127.9 266,125.9 267,126.2 268,127 269,126.4 270,125.7 271,126.9 272,126.9 273,127.2 274,126.6 275,126.3 276,126.1 277,130.2 278,130.2 279,130.2 279,132.2" fill="#5dbb8f"/>
<polygon points="433,132.2 433,130.7 434,130.7 435,126.6 436,128.6 437,128 438,126.9 439,127 440,127.5 441,127.3 442,128.1 443,126.6 444,127.6 445,127.9 446,128.5 446.7,132.2" fill="#5dbb8f"/>
<text x="259.5" y="127.6" font-size="4.5" fill="#333">[0 - 20]</text>
<line x1="259" y1="141.2" x2="446.7" y2="141.2" stroke="#9bd6ba" stroke-width="0.8"/>
<polygon points="259,141.2 259,136.7 260,134.8 261,135 262,136.9 263,136.2 264,135.8 265,135.8 266,136.1 267,134.8 268,136.1 269,135.7 270,134.7 271,135.4 272,135.8 273,136.2 274,136 275,135.5 276,135.1 277,139.2 278,139.2 279,139.2 279,141.2" fill="#5dbb8f"/>
<polygon points="433,141.2 433,139.8 434,139.8 435,137.3 436,137.1 437,137 438,137.1 439,135.8 440,136.7 441,137.3 442,137.2 443,136 444,137.6 445,136.3 446,137.9 446.7,141.2" fill="#5dbb8f"/>
<text x="259.5" y="136.6" font-size="4.5" fill="#333">[0 - 20]</text>
<line x1="259" y1="150.3" x2="446.7" y2="150.3" stroke="#9bd6ba" stroke-width="0.8"/>
<polygon points="259,150.3 259,145.5 260,145.9 261,144.1 262,145.6 263,145.5 264,145.9 265,145.4 266,144.2 267,144.3 268,143.8 269,143.7 270,144.7 271,143.8 272,145.8 273,143.8 274,145 275,145.5 276,144.2 277,148.3 278,148.3 279,148.3 279,150.3" fill="#5dbb8f"/>
<polygon points="433,150.3 433,148.8 434,148.8 435,144.9 436,146.1 437,146.8 438,144.9 439,145.2 440,145.6 441,144.7 442,146.9 443,146.9 444,146.7 445,146.9 446,145.3 446.7,150.3" fill="#5dbb8f"/>
<text x="259.5" y="145.7" font-size="4.5" fill="#333">[0 - 20]</text>
<line x1="259" y1="159.3" x2="446.7" y2="159.3" stroke="#9bd6ba" stroke-width="0.8"/>
<polygon points="259,159.3 259,153.5 260,154.8 261,154.7 262,154.6 263,153.6 264,153.4 265,152.7 266,154.2 267,152.7 268,154 269,154.1 270,154.4 271,154.5 272,152.7 273,152.7 274,153.4 275,154.6 276,154.6 277,157.3 278,157.3 279,157.3 279,159.3" fill="#5dbb8f"/>
<polygon points="433,159.3 433,157.8 434,157.8 435,155.7 436,155.2 437,154.3 438,155.9 439,154.8 440,154.4 441,156 442,155 443,154.2 444,154.7 445,155 446,153.9 446.7,159.3" fill="#5dbb8f"/>
<text x="259.5" y="154.7" font-size="4.5" fill="#333">[0 - 20]</text>
<line x1="259" y1="168.4" x2="446.7" y2="168.4" stroke="#9bd6ba" stroke-width="0.8"/>
<polygon points="259,168.4 259,162.7 260,163.3 261,163.1 262,161.8 263,162 264,161.9 265,162.8 266,163.8 267,163.7 268,163.2 269,162.4 270,164.1 271,162.2 272,162.2 273,162.9 274,164.1 275,162.2 276,163.1 277,166.4 278,166.4 279,166.4 279,168.4" fill="#5dbb8f"/>
<polygon points="433,168.4 433,166.9 434,166.9 435,163.5 436,163.7 437,163.4 438,164.1 439,162.8 440,162.8 441,162.9 442,163.6 443,164.3 444,164.2 445,164.5 446,162.9 446.7,168.4" fill="#5dbb8f"/>
<text x="259.5" y="163.8" font-size="4.5" fill="#333">[0 - 20]</text>
<text x="234.8" y="178.8" font-size="16.8" fill="#1a1311" font-weight="bold">c</text>
<text x="298.5" y="180.3" font-size="8.2" fill="#222" font-style="italic">4Dg0135144</text>
<rect x="358" y="173.8" width="28" height="5.8" fill="#2f6db5"/>
<rect x="368" y="172.8" width="4" height="7.8" fill="#ffffff"/>
<rect x="368.5" y="175.8" width="3.5" height="2" fill="#2f6db5"/>
<rect x="361" y="176.4" width="0.8" height="0.8" fill="#d0e0f0"/>
<rect x="364.8" y="176.4" width="0.8" height="0.8" fill="#d0e0f0"/>
<rect x="375" y="176.4" width="0.8" height="0.8" fill="#d0e0f0"/>
<rect x="378" y="176.4" width="0.8" height="0.8" fill="#d0e0f0"/>
<rect x="381" y="176.4" width="0.8" height="0.8" fill="#d0e0f0"/>
<rect x="384" y="176.4" width="0.8" height="0.8" fill="#d0e0f0"/>
<rect x="257.1" y="184" width="202.1" height="23.7" fill="#0d0d0d"/>
<rect x="260.8" y="186.6" width="10.2" height="1.5" fill="#6a6a6a"/>
<rect x="260.3" y="186" width="11.2" height="2.7" fill="#6a6a6a" opacity="0.35"/>
<rect x="260.8" y="191.2" width="10.2" height="2.8" fill="#dadada"/>
<rect x="260.3" y="190.6" width="11.2" height="4" fill="#dadada" opacity="0.35"/>
<rect x="260.8" y="196.8" width="10.2" height="2" fill="#b0b0b0"/>
<rect x="260.3" y="196.2" width="11.2" height="3.2" fill="#b0b0b0" opacity="0.35"/>
<rect x="260.8" y="201.2" width="10.2" height="2" fill="#d8d8d8"/>
<rect x="260.3" y="200.6" width="11.2" height="3.2" fill="#d8d8d8" opacity="0.35"/>
<rect x="275" y="187.7" width="10.4" height="2.2" fill="#e4e4e4" opacity="1"/>
<rect x="275" y="203" width="10.4" height="1.4" fill="#222"/>
<rect x="289.8" y="187.7" width="10.5" height="2.2" fill="#e4e4e4" opacity="1"/>
<rect x="289.8" y="203" width="10.5" height="1.4" fill="#222"/>
<rect x="304.7" y="187.7" width="10.3" height="2.2" fill="#e4e4e4" opacity="0.45"/>
<rect x="304.7" y="203" width="10.3" height="1.4" fill="#222"/>
<rect x="319.6" y="187.7" width="10.4" height="2.2" fill="#e4e4e4" opacity="0.85"/>
<rect x="319.6" y="203" width="10.4" height="1.4" fill="#222"/>
<rect x="334.5" y="187.7" width="10.5" height="2.2" fill="#e4e4e4" opacity="0.95"/>
<rect x="334.5" y="203" width="10.5" height="1.4" fill="#222"/>
<rect x="348.5" y="187.7" width="10.5" height="2.2" fill="#e4e4e4" opacity="0.9"/>
<rect x="348.5" y="203" width="10.5" height="1.4" fill="#222"/>
<rect x="430" y="203.5" width="8" height="1.4" fill="#2a2a2a"/>
<rect x="445" y="203.5" width="8" height="1.4" fill="#2a2a2a"/>
<text x="256" y="189" font-size="5.5" fill="#333" text-anchor="end">2000bp-</text>
<line x1="275" y1="214.3" x2="356.1" y2="214.3" stroke="#f0a550" stroke-width="0.9"/>
<line x1="362.8" y1="214.3" x2="459.2" y2="214.3" stroke="#7fcaa6" stroke-width="0.9"/>
<text x="313.5" y="223.3" font-size="8" fill="#222" text-anchor="middle"><tspan font-style="italic">A. fatua</tspan> (n=6)</text>
<text x="414.2" y="223.2" font-size="8" fill="#222" text-anchor="middle"><tspan font-style="italic">A. sativa</tspan> (n=6)</text>
<text x="464.5" y="12.7" font-size="16.8" fill="#1a1311" font-weight="bold">d</text>
<text x="499.7" y="6.6" font-size="8.5" fill="#222" font-style="italic">4Dg0135144</text>
<rect x="500.2" y="79.8" width="8" height="31.9" fill="#5cb28b"/>
<rect x="509.7" y="95" width="8.2" height="16.7" fill="#e9a45b"/>
<rect x="527.8" y="67.2" width="8" height="44.5" fill="#5cb28b"/>
<rect x="537.4" y="95" width="8.4" height="16.7" fill="#e9a45b"/>
<rect x="555.1" y="23.3" width="8.9" height="88.4" fill="#5cb28b"/>
<rect x="565.2" y="95.7" width="8.4" height="16" fill="#e9a45b"/>
<line x1="504.2" y1="74.5" x2="504.2" y2="85" stroke="#333" stroke-width="0.7"/>
<line x1="503.1" y1="74.5" x2="505.3" y2="74.5" stroke="#333" stroke-width="0.7"/>
<line x1="503.1" y1="85" x2="505.3" y2="85" stroke="#333" stroke-width="0.7"/>
<line x1="513.8" y1="92" x2="513.8" y2="98.5" stroke="#333" stroke-width="0.7"/>
<line x1="512.7" y1="92" x2="514.9" y2="92" stroke="#333" stroke-width="0.7"/>
<line x1="512.7" y1="98.5" x2="514.9" y2="98.5" stroke="#333" stroke-width="0.7"/>
<line x1="531.8" y1="61.5" x2="531.8" y2="72.5" stroke="#333" stroke-width="0.7"/>
<line x1="530.7" y1="61.5" x2="532.9" y2="61.5" stroke="#333" stroke-width="0.7"/>
<line x1="530.7" y1="72.5" x2="532.9" y2="72.5" stroke="#333" stroke-width="0.7"/>
<line x1="541.6" y1="91.5" x2="541.6" y2="99" stroke="#333" stroke-width="0.7"/>
<line x1="540.5" y1="91.5" x2="542.7" y2="91.5" stroke="#333" stroke-width="0.7"/>
<line x1="540.5" y1="99" x2="542.7" y2="99" stroke="#333" stroke-width="0.7"/>
<line x1="559.5" y1="21.5" x2="559.5" y2="25" stroke="#333" stroke-width="0.7"/>
<line x1="558.4" y1="21.5" x2="560.6" y2="21.5" stroke="#333" stroke-width="0.7"/>
<line x1="558.4" y1="25" x2="560.6" y2="25" stroke="#333" stroke-width="0.7"/>
<line x1="569.4" y1="94.8" x2="569.4" y2="96.5" stroke="#333" stroke-width="0.7"/>
<line x1="568.3" y1="94.8" x2="570.5" y2="94.8" stroke="#333" stroke-width="0.7"/>
<line x1="568.3" y1="96.5" x2="570.5" y2="96.5" stroke="#333" stroke-width="0.7"/>
<circle cx="506" cy="69" r="1.35" fill="#111"/>
<circle cx="503" cy="82" r="1.35" fill="#111"/>
<circle cx="505.5" cy="87.5" r="1.35" fill="#111"/>
<circle cx="512.5" cy="89" r="1.35" fill="#111"/>
<circle cx="512" cy="94.5" r="1.35" fill="#111"/>
<circle cx="515" cy="99" r="1.35" fill="#111"/>
<circle cx="534" cy="63.5" r="1.35" fill="#111"/>
<circle cx="532" cy="73" r="1.35" fill="#111"/>
<circle cx="530.5" cy="79.5" r="1.35" fill="#111"/>
<circle cx="541" cy="89" r="1.35" fill="#111"/>
<circle cx="541.5" cy="95" r="1.35" fill="#111"/>
<circle cx="540.5" cy="101" r="1.35" fill="#111"/>
<circle cx="559.7" cy="20" r="1.35" fill="#111"/>
<circle cx="561" cy="22.5" r="1.35" fill="#111"/>
<circle cx="562" cy="25.5" r="1.35" fill="#111"/>
<circle cx="568" cy="95.5" r="1.35" fill="#111"/>
<circle cx="570" cy="95.3" r="1.35" fill="#111"/>
<circle cx="571.5" cy="95" r="1.35" fill="#111"/>
<line x1="492.5" y1="13.7" x2="492.5" y2="112.2" stroke="#222" stroke-width="0.8"/>
<line x1="492.5" y1="112.2" x2="581" y2="112.2" stroke="#222" stroke-width="0.8"/>
<line x1="491" y1="111.7" x2="492.5" y2="111.7" stroke="#222" stroke-width="0.8"/>
<text x="490.6" y="114.2" font-size="7" fill="#222" text-anchor="end">0</text>
<line x1="491" y1="79.1" x2="492.5" y2="79.1" stroke="#222" stroke-width="0.8"/>
<text x="490.6" y="81.6" font-size="7" fill="#222" text-anchor="end">2</text>
<line x1="491" y1="46.5" x2="492.5" y2="46.5" stroke="#222" stroke-width="0.8"/>
<text x="490.6" y="49" font-size="7" fill="#222" text-anchor="end">4</text>
<line x1="491" y1="13.9" x2="492.5" y2="13.9" stroke="#222" stroke-width="0.8"/>
<text x="490.6" y="16.4" font-size="7" fill="#222" text-anchor="end">6</text>
<text x="504.5" y="64.7" font-size="7.6" fill="#222" text-anchor="middle">ns</text>
<text x="531.8" y="50.7" font-size="7.6" fill="#222" text-anchor="middle">*</text>
<text x="559.8" y="20.7" font-size="7.6" fill="#222" text-anchor="middle">****</text>
<text x="509" y="119.7" font-size="7.6" fill="#222" text-anchor="middle">6h</text>
<text x="536.6" y="119.7" font-size="7.6" fill="#222" text-anchor="middle">24h</text>
<text x="566.4" y="119.7" font-size="7.6" fill="#222" text-anchor="middle">7day</text>
<text x="538" y="126.7" font-size="7.6" fill="#222" text-anchor="middle">Root</text>
<text x="481.8" y="64.6" font-size="7.2" fill="#222" text-anchor="middle" transform="rotate(-90 481.8 62)">Relative accumulation of transcription</text>
<rect x="605.5" y="47.9" width="8.8" height="63.8" fill="#5cb28b"/>
<rect x="615.5" y="103.7" width="8.2" height="8" fill="#e9a45b"/>
<rect x="632.8" y="46.1" width="8.4" height="65.6" fill="#5cb28b"/>
<rect x="642.1" y="103" width="8.4" height="8.7" fill="#e9a45b"/>
<rect x="659.6" y="43.8" width="8.5" height="67.9" fill="#5cb28b"/>
<rect x="669" y="103.8" width="8.3" height="7.9" fill="#e9a45b"/>
<line x1="609.9" y1="32.6" x2="609.9" y2="63.4" stroke="#333" stroke-width="0.7"/>
<line x1="608.8" y1="32.6" x2="611" y2="32.6" stroke="#333" stroke-width="0.7"/>
<line x1="608.8" y1="63.4" x2="611" y2="63.4" stroke="#333" stroke-width="0.7"/>
<line x1="637" y1="34" x2="637" y2="57.5" stroke="#333" stroke-width="0.7"/>
<line x1="635.9" y1="34" x2="638.1" y2="34" stroke="#333" stroke-width="0.7"/>
<line x1="635.9" y1="57.5" x2="638.1" y2="57.5" stroke="#333" stroke-width="0.7"/>
<line x1="663.9" y1="34.3" x2="663.9" y2="54" stroke="#333" stroke-width="0.7"/>
<line x1="662.8" y1="34.3" x2="665" y2="34.3" stroke="#333" stroke-width="0.7"/>
<line x1="662.8" y1="54" x2="665" y2="54" stroke="#333" stroke-width="0.7"/>
<line x1="619.6" y1="102.5" x2="619.6" y2="105" stroke="#333" stroke-width="0.7"/>
<line x1="618.5" y1="102.5" x2="620.7" y2="102.5" stroke="#333" stroke-width="0.7"/>
<line x1="618.5" y1="105" x2="620.7" y2="105" stroke="#333" stroke-width="0.7"/>
<line x1="646.3" y1="100" x2="646.3" y2="106" stroke="#333" stroke-width="0.7"/>
<line x1="645.2" y1="100" x2="647.4" y2="100" stroke="#333" stroke-width="0.7"/>
<line x1="645.2" y1="106" x2="647.4" y2="106" stroke="#333" stroke-width="0.7"/>
<line x1="673.1" y1="102.5" x2="673.1" y2="105" stroke="#333" stroke-width="0.7"/>
<line x1="672" y1="102.5" x2="674.2" y2="102.5" stroke="#333" stroke-width="0.7"/>
<line x1="672" y1="105" x2="674.2" y2="105" stroke="#333" stroke-width="0.7"/>
<circle cx="610" cy="18" r="1.35" fill="#111"/>
<circle cx="609.5" cy="59" r="1.35" fill="#111"/>
<circle cx="609.5" cy="67.5" r="1.35" fill="#111"/>
<circle cx="638.5" cy="30.5" r="1.35" fill="#111"/>
<circle cx="636.5" cy="40" r="1.35" fill="#111"/>
<circle cx="636" cy="68.5" r="1.35" fill="#111"/>
<circle cx="663.5" cy="25" r="1.35" fill="#111"/>
<circle cx="664" cy="50" r="1.35" fill="#111"/>
<circle cx="662.5" cy="57.5" r="1.35" fill="#111"/>
<circle cx="618.5" cy="102.8" r="1.35" fill="#111"/>
<circle cx="620" cy="104" r="1.35" fill="#111"/>
<circle cx="621" cy="105" r="1.35" fill="#111"/>
<circle cx="648" cy="99.5" r="1.35" fill="#111"/>
<circle cx="646.5" cy="103" r="1.35" fill="#111"/>
<circle cx="645.5" cy="106.5" r="1.35" fill="#111"/>
<circle cx="671.5" cy="102.5" r="1.35" fill="#111"/>
<circle cx="673.5" cy="103.5" r="1.35" fill="#111"/>
<circle cx="675" cy="104" r="1.35" fill="#111"/>
<line x1="598.3" y1="14" x2="598.3" y2="112.2" stroke="#222" stroke-width="0.8"/>
<line x1="598.3" y1="112.2" x2="685" y2="112.2" stroke="#222" stroke-width="0.8"/>
<line x1="596.8" y1="111.7" x2="598.3" y2="111.7" stroke="#222" stroke-width="0.8"/>
<text x="596.9" y="114.2" font-size="7" fill="#222" text-anchor="end">0</text>
<line x1="596.8" y1="87.3" x2="598.3" y2="87.3" stroke="#222" stroke-width="0.8"/>
<text x="596.9" y="89.8" font-size="7" fill="#222" text-anchor="end">3</text>
<line x1="596.8" y1="62.9" x2="598.3" y2="62.9" stroke="#222" stroke-width="0.8"/>
<text x="596.9" y="65.4" font-size="7" fill="#222" text-anchor="end">6</text>
<line x1="596.8" y1="38.5" x2="598.3" y2="38.5" stroke="#222" stroke-width="0.8"/>
<text x="596.9" y="41" font-size="7" fill="#222" text-anchor="end">9</text>
<line x1="596.8" y1="14.1" x2="598.3" y2="14.1" stroke="#222" stroke-width="0.8"/>
<text x="596.9" y="16.6" font-size="7" fill="#222" text-anchor="end">12</text>
<text x="610" y="25.2" font-size="7.6" fill="#222" text-anchor="middle">ns</text>
<text x="636.8" y="26.2" font-size="7.6" fill="#222" text-anchor="middle">*</text>
<text x="663.8" y="26.2" font-size="7.6" fill="#222" text-anchor="middle">****</text>
<text x="615" y="119.2" font-size="7.6" fill="#222" text-anchor="middle">6h</text>
<text x="643.3" y="119.2" font-size="7.6" fill="#222" text-anchor="middle">24h</text>
<text x="670.5" y="119.2" font-size="7.6" fill="#222" text-anchor="middle">7day</text>
<text x="642.4" y="126.5" font-size="7.6" fill="#222" text-anchor="middle">Leaf</text>
<text x="583.8" y="64.6" font-size="7.2" fill="#222" text-anchor="middle" transform="rotate(-90 583.8 62)">Relative accumulation of transcription</text>
<rect x="595" y="1.9" width="9.7" height="6.1" fill="#e9a45b"/>
<text x="606.3" y="8" font-size="8" fill="#222">Mock</text>
<rect x="632.5" y="1.9" width="9.9" height="6.1" fill="#5cb28b"/>
<text x="643.7" y="8" font-size="8" fill="#222">Herbicides</text>
<text x="463.5" y="146" font-size="16.8" fill="#1a1311" font-weight="bold">e</text>
<line x1="480.4" y1="142.5" x2="480.4" y2="208.1" stroke="#999" stroke-width="0.8"/>
<text x="475.3" y="176.3" font-size="8.2" fill="#222" text-anchor="middle" transform="rotate(-90 475.3 173.4)">ATAC</text>
<text x="539.5" y="149.4" font-size="8.2" fill="#3c7cb9" text-anchor="end">24h Control</text>
<text x="539.5" y="169.9" font-size="8.2" fill="#e64a4c" text-anchor="end">24h Treatment</text>
<text x="539.5" y="189.4" font-size="8.2" fill="#3c7cb9" text-anchor="end">7day Control</text>
<text x="539.5" y="209.3" font-size="8.2" fill="#e64a4c" text-anchor="end">7day Treatment</text>
<rect x="567.4" y="140" width="18.4" height="71.2" fill="#d9d0d1"/>
<rect x="632" y="140" width="10.3" height="71.2" fill="#d9d0d1"/>
<polygon points="541,156.2 541,154.8 541.8,154.7 542.6,154.5 543.4,154.2 544.2,154.5 545,154.9 545.8,154.2 546.6,154.7 547.4,154.1 548.2,154.6 549,153.4 549.8,153.8 550.6,153.9 551.4,152.8 552.2,153.8 553,152.5 553.8,152.6 554.6,153.4 555.4,152.4 556.2,152.7 557,152.8 557.8,153.7 558.6,154.4 559.4,154.2 560.2,155.6 561,154.8 561.8,155.6 562.6,155.5 563.4,155.6 564.2,154.7 565,155.3 565.8,154.9 566.6,153.9 567.4,151.1 568.2,150.8 569,151.3 569.8,150.5 570.6,149.9 571.4,150.4 572.2,149.5 573,149.8 573.8,149.4 574.6,148.7 575.4,148.9 576.2,148.9 577,149.9 577.8,149.9 578.6,149.7 579.4,149.9 580.2,150.5 581,150 581.8,150.8 582.6,150.2 583.4,151 584.2,151.6 585,150.9 585.8,152 586.6,151.6 587.4,152.8 588.2,151.8 589,152.7 589.8,152.8 590.6,153.9 591.4,153.5 592.2,154.1 593,154.6 593.8,153.2 594.6,153.8 595.4,152.6 596.2,152.7 597,151.2 597.8,150.7 598.6,151.6 599.4,150.5 600.2,150.2 601,149.5 601.8,149.2 602.6,149.4 603.4,148.2 604.2,149 605,148.7 605.8,147.4 606.6,147.9 607.4,147.4 608.2,146.6 609,146.4 609.8,146.9 610.6,146 611.4,146.8 612.2,146.6 613,147.5 613.8,146.9 614.6,148.2 615.4,147.6 616.2,148.3 617,148.1 617.8,148.7 618.6,149.2 619.4,149.5 620.2,149.3 621,150 621.8,150.7 622.6,149.8 623.4,150.1 624.2,150.5 625,150.6 625.8,151.5 626.6,152 627.4,152.5 628.2,153 629,153 629.8,154 630.6,153.1 631.4,153.2 632.2,153.2 633,153.2 633.8,152.8 634.6,151.9 635.4,151.5 636.2,151.6 637,151.9 637.8,152 638.6,152.1 639.4,152.8 640.2,153.8 641,153.3 641.8,154.6 642.6,154.3 643.4,154.5 644.2,155.6 645,155.1 645.8,154.5 646.6,155.4 647.4,155.1 648.2,155.5 649,155.6 649.8,155.6 650.6,155.6 651.4,155.5 652.2,155 653,155.1 653.8,154.6 654.6,154.9 655.4,155.4 656.2,154.6 657,155 657.8,155.1 658.6,154.7 659.4,155 660.2,155.3 661,154.6 661.8,154.6 662.6,153.5 663.4,154.6 664.2,153.5 665,154.8 665.8,154.9 666.6,154.1 667.4,154.7 668.2,154.6 669,155.4 669.8,154.7 670.6,154.9 671.4,154.8 672.2,154.4 673,154.3 673.8,154.6 674.6,154.5 675.4,155.4 676.2,155.6 676.5,156.2" fill="#3c7cb9"/>
<polygon points="541,174.4 541,173 541.8,172.2 542.6,173.2 543.4,172.8 544.2,173.6 545,173 545.8,172.3 546.6,172.8 547.4,172.4 548.2,173.6 549,173.3 549.8,173.3 550.6,172.4 551.4,173.5 552.2,172.3 553,173.2 553.8,172.4 554.6,172.9 555.4,173.1 556.2,172.2 557,173 557.8,172.6 558.6,173.5 559.4,172.4 560.2,172.2 561,173.4 561.8,172.6 562.6,173.2 563.4,173.4 564.2,173.1 565,172.7 565.8,172.3 566.6,170.4 567.4,168 568.2,167.9 569,167.5 569.8,167.9 570.6,166.7 571.4,166.6 572.2,166.7 573,166.2 573.8,167.3 574.6,167.8 575.4,168 576.2,168.3 577,167.9 577.8,167.9 578.6,169 579.4,168.8 580.2,168.9 581,169.2 581.8,169.6 582.6,169.7 583.4,170.6 584.2,170.8 585,170.5 585.8,171.2 586.6,171 587.4,172.2 588.2,171.9 589,173.2 589.8,173.8 590.6,173.4 591.4,173.6 592.2,173.6 593,173 593.8,173.8 594.6,173.2 595.4,172.9 596.2,173.5 597,173.4 597.8,172.8 598.6,173.1 599.4,173.5 600.2,173.5 601,173.2 601.8,172.7 602.6,172.8 603.4,171.8 604.2,172 605,171.9 605.8,171.4 606.6,170.9 607.4,172 608.2,172.3 609,172.2 609.8,172.3 610.6,171.6 611.4,172 612.2,172.5 613,173.1 613.8,173.5 614.6,173.6 615.4,172.8 616.2,173.2 617,173.7 617.8,173 618.6,173.6 619.4,172.9 620.2,173 621,173.2 621.8,172.2 622.6,172.2 623.4,172 624.2,171.7 625,170.2 625.8,169.7 626.6,169.2 627.4,170 628.2,168.8 629,170.1 629.8,169.8 630.6,169.5 631.4,169.2 632.2,168.2 633,166.1 633.8,164.6 634.6,164.5 635.4,163.5 636.2,162.4 637,163.8 637.8,164.3 638.6,164.7 639.4,165.9 640.2,167.3 641,169 641.8,169.9 642.6,170.9 643.4,171.9 644.2,173.2 645,172.8 645.8,173 646.6,173.5 647.4,173 648.2,173.4 649,173 649.8,173.7 650.6,172.8 651.4,173 652.2,173.4 653,173.8 653.8,173.4 654.6,173.8 655.4,173.1 656.2,173.1 657,173.3 657.8,172.7 658.6,173.8 659.4,173.1 660.2,173 661,173.8 661.8,173.6 662.6,173.8 663.4,173.3 664.2,173.1 665,173.6 665.8,173.1 666.6,173.6 667.4,173.1 668.2,172.9 669,168.7 669.8,169.4 670.6,169.9 671.4,169.6 672.2,168.6 673,168.3 673.8,168.5 674.6,169.1 675.4,168 676.2,173.8 676.5,174.4" fill="#e64a4c"/>
<polygon points="541,192.4 541,191.8 541.8,191.7 542.6,191.3 543.4,191.8 544.2,191.8 545,191.6 545.8,190.7 546.6,190.4 547.4,191.3 548.2,190.3 549,190.5 549.8,190.4 550.6,190.8 551.4,190.2 552.2,190.7 553,190.3 553.8,190.8 554.6,191.3 555.4,190.9 556.2,190.9 557,191.1 557.8,191.1 558.6,190.9 559.4,190.8 560.2,191.3 561,191.2 561.8,190.9 562.6,190.9 563.4,191 564.2,190.7 565,191.3 565.8,190.9 566.6,189.9 567.4,187.4 568.2,186 569,185.7 569.8,185.8 570.6,185.9 571.4,184.7 572.2,185 573,184.9 573.8,184.8 574.6,184.2 575.4,183.4 576.2,182.9 577,182.9 577.8,182.2 578.6,183.4 579.4,183.9 580.2,184.8 581,185.7 581.8,186.4 582.6,186.4 583.4,187 584.2,188.3 585,188.8 585.8,188.5 586.6,189.3 587.4,189.8 588.2,190.2 589,190.2 589.8,190.8 590.6,191.1 591.4,190.7 592.2,191.2 593,190 593.8,190.6 594.6,190.4 595.4,190.1 596.2,190.3 597,191.2 597.8,191 598.6,191.4 599.4,190.5 600.2,190.6 601,190.9 601.8,191 602.6,191.1 603.4,190.7 604.2,190.4 605,190.1 605.8,190.1 606.6,190.1 607.4,190.6 608.2,190.6 609,190.7 609.8,189.7 610.6,190.7 611.4,190.6 612.2,190.3 613,189.3 613.8,189.3 614.6,189.9 615.4,189 616.2,188.9 617,189.5 617.8,189.8 618.6,189 619.4,189.6 620.2,189.9 621,188.8 621.8,189.5 622.6,189.5 623.4,189.3 624.2,189.7 625,190.1 625.8,189.7 626.6,189.9 627.4,190.6 628.2,190.2 629,189.8 629.8,190.6 630.6,190 631.4,189.9 632.2,190.4 633,190.5 633.8,189.4 634.6,189.3 635.4,189.7 636.2,190 637,189.2 637.8,189.2 638.6,190.3 639.4,189.9 640.2,190 641,190.5 641.8,191 642.6,190.7 643.4,190.3 644.2,190.4 645,190.6 645.8,191.2 646.6,191.2 647.4,191.1 648.2,191 649,191.1 649.8,190.4 650.6,191.6 651.4,190.4 652.2,191.5 653,190.7 653.8,191.7 654.6,191.2 655.4,191.5 656.2,191.8 657,190.8 657.8,190.7 658.6,191.4 659.4,190.6 660.2,190.9 661,190.1 661.8,191.3 662.6,190.8 663.4,190.9 664.2,190.3 665,190 665.8,189.8 666.6,190 667.4,190.1 668.2,189.3 669,190.2 669.8,189.8 670.6,188.9 671.4,189.3 672.2,188.3 673,189.5 673.8,188.8 674.6,189 675.4,189.2 676.2,191.8 676.5,192.4" fill="#3c7cb9"/>
<polygon points="541,209.9 541,209.3 541.8,208.8 542.6,208.5 543.4,208.1 544.2,208.1 545,207 545.8,206.7 546.6,205.5 547.4,206.6 548.2,206.5 549,206.9 549.8,207.5 550.6,207.2 551.4,208.3 552.2,207.4 553,208.1 553.8,208.1 554.6,207.7 555.4,207.8 556.2,208.2 557,208.5 557.8,207.2 558.6,207.9 559.4,208.1 560.2,207.3 561,207.4 561.8,207.5 562.6,207.4 563.4,206.6 564.2,207.2 565,207 565.8,201.9 566.6,198.3 567.4,195.8 568.2,195.8 569,194.7 569.8,194.3 570.6,194.2 571.4,194.1 572.2,194.6 573,194 573.8,194.7 574.6,194.3 575.4,195.3 576.2,195.4 577,196.9 577.8,197.2 578.6,199 579.4,202.9 580.2,205.7 581,206.1 581.8,206.2 582.6,206.8 583.4,206.9 584.2,206.4 585,206.5 585.8,207.2 586.6,207 587.4,208.1 588.2,207.8 589,208.9 589.8,208.8 590.6,209.2 591.4,208.8 592.2,209.3 593,208.9 593.8,208.7 594.6,209.3 595.4,209.2 596.2,208.6 597,208.8 597.8,208.7 598.6,208.5 599.4,208.8 600.2,209.2 601,208.8 601.8,208.1 602.6,208.3 603.4,207.9 604.2,208.3 605,208 605.8,207 606.6,207 607.4,207 608.2,207.5 609,206.6 609.8,207.2 610.6,205.7 611.4,205.4 612.2,205.5 613,206.1 613.8,205.1 614.6,205.9 615.4,204.9 616.2,205.2 617,205.7 617.8,204.4 618.6,205.1 619.4,204.7 620.2,205.1 621,205.5 621.8,205.2 622.6,206.2 623.4,205.2 624.2,205.8 625,206 625.8,205.3 626.6,205.5 627.4,205.2 628.2,204.2 629,204.7 629.8,204.4 630.6,203.7 631.4,203.1 632.2,201.6 633,200.9 633.8,200.3 634.6,199.5 635.4,200.3 636.2,200.3 637,201.5 637.8,201.2 638.6,202.1 639.4,203 640.2,204.5 641,205.5 641.8,204.9 642.6,206 643.4,206.5 644.2,206.8 645,208.4 645.8,207.8 646.6,208.3 647.4,208 648.2,208.6 649,209.1 649.8,208.2 650.6,209.2 651.4,208.6 652.2,208.4 653,209.3 653.8,208.6 654.6,209 655.4,209.3 656.2,209.3 657,208.3 657.8,209.1 658.6,208.9 659.4,208.9 660.2,209.3 661,208.5 661.8,208.6 662.6,208.4 663.4,209.1 664.2,209.3 665,209.1 665.8,208.6 666.6,208.7 667.4,209 668.2,208.9 669,209.3 669.8,208.3 670.6,208.9 671.4,208.9 672.2,208.5 673,209.3 673.8,208.6 674.6,209.1 675.4,208.5 676.2,209.3 676.5,209.9" fill="#e64a4c"/>
<rect x="540.7" y="140" width="136.2" height="71.2" fill="none" stroke="#555" stroke-width="0.9"/>
<text x="543.3" y="148.1" font-size="8" fill="#222">[0 - 20]</text>
<text x="543.3" y="165.8" font-size="8" fill="#222">[0 - 20]</text>
<text x="543.3" y="183.8" font-size="8" fill="#222">[0 - 50]</text>
<text x="543.3" y="201.8" font-size="8" fill="#222">[0 - 50]</text>
<text x="519.6" y="221.5" font-size="8" fill="#222" font-style="italic">4Dg0135144</text>
<rect x="583.2" y="216.6" width="21.4" height="4.7" fill="#2f6db5"/>
<rect x="604.6" y="217.9" width="2.5" height="2.1" fill="#2f6db5"/>
<rect x="607.1" y="216.6" width="23.9" height="4.7" fill="#2f6db5"/>
<rect x="588" y="218.5" width="0.8" height="0.8" fill="#c5d8ee"/>
<rect x="593.5" y="218.5" width="0.8" height="0.8" fill="#c5d8ee"/>
<rect x="599" y="218.5" width="0.8" height="0.8" fill="#c5d8ee"/>
<rect x="611" y="218.5" width="0.8" height="0.8" fill="#c5d8ee"/>
<rect x="616.5" y="218.5" width="0.8" height="0.8" fill="#c5d8ee"/>
<rect x="622" y="218.5" width="0.8" height="0.8" fill="#c5d8ee"/>
<rect x="627" y="218.5" width="0.8" height="0.8" fill="#c5d8ee"/>
<text x="5" y="245" font-size="16.8" fill="#1a1311" font-weight="bold">f</text>
<clipPath id="c1"><rect x="16" y="243" width="85.5" height="59.8"/></clipPath>
<g clip-path="url(#c1)">
<rect x="16" y="243" width="85.5" height="59.8" fill="#0a0a0a"/>
<rect x="36.7" y="265.5" width="35" height="37" fill="#101210"/>
<polygon points="39.8,295.2 69.2,295.2 67.4,302 41.6,302" fill="#98b6bc"/>
<rect x="39.3" y="293.7" width="30.4" height="2.6" fill="#a8c4c8"/>
<path d="M60.3,294.0 Q59.9,287.2 59.0,285.6 M57.6,294.0 Q57.6,286.1 57.6,284.2 M62.1,294.0 Q61.7,289.4 61.1,288.3 M52.7,294.0 Q52.9,288.7 53.4,287.5 M63.6,294.0 Q63.3,286.3 62.6,284.5 M64.5,294.0 Q64.1,288.6 63.2,287.3 M42.7,294.0 Q42.4,287.8 41.8,286.3 M47.6,294.0 Q47.5,286.3 47.3,284.5 M49.0,294.0 Q48.6,287.6 48.0,286.2 M57.4,294.0 Q57.8,287.7 58.5,286.3 M44.9,294.0 Q45.4,288.0 46.4,286.7 M64.5,294.0 Q64.8,286.6 65.3,284.9 M49.3,294.0 Q49.7,287.4 50.4,285.9 M54.1,294.0 Q54.6,287.3 55.5,285.8" fill="none" stroke="#64a846" stroke-width="0.8" stroke-linecap="round"/>
<rect x="89" y="299" width="9.8" height="1.9" fill="#f4f4f4"/>
<text x="20.6" y="251.9" font-size="6.9" fill="#e2e2e2" font-style="italic">TRV1TRV2</text>
</g>
<clipPath id="c2"><rect x="102.5" y="243" width="85" height="59.8"/></clipPath>
<g clip-path="url(#c2)">
<rect x="102.5" y="243" width="85" height="59.8" fill="#0a0a0a"/>
<rect x="124.4" y="265.5" width="35" height="37" fill="#101210"/>
<polygon points="126.7,293.4 156.3,293.4 154.5,302 128.5,302" fill="#90aaa6"/>
<rect x="126.2" y="291.9" width="30.6" height="2.6" fill="#a1b8b5"/>
<path d="M132.9,292.0 Q133.4,287.3 134.3,286.2 M142.7,292.0 Q143.1,287.0 143.8,285.8 M141.3,292.0 Q141.4,286.1 141.7,284.8 M143.6,292.0 Q143.5,286.5 143.3,285.2 M139.1,292.0 Q139.5,287.9 140.3,286.9" fill="none" stroke="#c9c9c0" stroke-width="0.7" stroke-linecap="round"/>
<rect x="176.5" y="299" width="9.2" height="1.9" fill="#f4f4f4"/>
<text x="105.7" y="251.9" font-size="6.9" fill="#e2e2e2" font-style="italic">V-PDS</text>
</g>
<clipPath id="c3"><rect x="16" y="305" width="85.5" height="59"/></clipPath>
<g clip-path="url(#c3)">
<rect x="16" y="305" width="85.5" height="59" fill="#0a0a0a"/>
<path d="M56.2,353.0 Q71.4,319.5 90.0,308.8 M52.8,353.0 Q44.1,328.5 33.6,320.0 M53.8,353.0 Q52.6,330.2 51.2,320.7 M55.2,353.0 Q63.9,329.4 74.4,321.3 M52.5,353.0 Q41.7,340.0 28.6,337.0 M51.9,353.0 Q36.9,355.5 18.5,360.2 M55.8,353.0 Q68.4,356.8 83.8,361.5 M54.5,353.0 Q57.9,327.9 62.0,318.0 M53.5,353.0 Q49.7,333.5 45.0,326.0 M54.8,353.0 Q60.8,335.9 68.0,330.0 M53.2,353.0 Q47.2,342.9 40.0,340.0" fill="none" stroke="#5a9c3c" stroke-width="0.85" stroke-linecap="round"/>
<polygon points="40.5,354.3 67.4,354.3 65.8,364.5 42.1,364.5" fill="#8cc3cf"/>
<rect x="40" y="352.8" width="27.9" height="2.6" fill="#9fd0da"/>
<rect x="89" y="360.2" width="9.8" height="1.9" fill="#f4f4f4"/>
<text x="20.6" y="313.7" font-size="6.9" fill="#e2e2e2" font-style="italic">TRV1TRV2</text>
</g>
<clipPath id="c4"><rect x="102.5" y="305" width="85" height="59"/></clipPath>
<g clip-path="url(#c4)">
<rect x="102.5" y="305" width="85" height="59" fill="#0a0a0a"/>
<path d="M138.5,353.0 Q124.7,337.7 107.7,334.5 M139.3,353.0 Q131.2,329.2 121.2,321.0 M139.5,353.0 Q132.1,328.5 123.1,319.8 M140.4,353.0 Q139.5,329.1 138.5,319.1 M140.1,353.0 Q137.1,331.5 133.4,323.0 M140.7,353.0 Q142.3,334.9 144.3,327.5 M141.2,353.0 Q146.1,333.8 152.0,326.8 M141.4,353.0 Q147.6,334.1 155.2,327.5 M142.3,353.0 Q155.1,330.8 170.7,324.3 M139.2,353.0 Q129.6,358.3 118.0,362.8 M140.9,353.0 Q143.6,330.8 147.0,322.0 M139.9,353.0 Q135.4,336.2 130.0,330.0" fill="none" stroke="#62a644" stroke-width="0.85" stroke-linecap="round"/>
<polygon points="127.4,354.3 154.2,354.3 152.6,364.5 129,364.5" fill="#8cc3cf"/>
<rect x="126.9" y="352.8" width="27.8" height="2.6" fill="#9fd0da"/>
<rect x="176.5" y="360.2" width="9.2" height="1.9" fill="#f4f4f4"/>
<text x="105.5" y="313.7" font-size="6.9" fill="#e2e2e2" font-style="italic">V1-4Dg0135144</text>
</g>
<clipPath id="c5"><rect x="16" y="367.1" width="85.5" height="58.9"/></clipPath>
<g clip-path="url(#c5)">
<rect x="16" y="367.1" width="85.5" height="58.9" fill="#0a0a0a"/>
<path d="M52.8,414.7 Q48.1,375.5 39.2,368.3 M53.6,414.7 Q53.0,384.3 51.8,377.0 M52.9,414.7 Q48.6,389.7 40.5,385.8 M51.7,414.7 Q40.5,395.8 19.8,397.1 M52.0,414.7 Q42.7,395.1 25.4,395.2 M55.3,414.7 Q64.2,391.9 80.7,390.9 M54.7,414.7 Q60.0,404.4 70.0,404.7 M52.2,414.7 Q43.7,420.1 27.9,426.0 M56.0,414.7 Q68.3,418.4 91.3,426.0 M52.3,414.7 Q44.9,411.5 31.1,414.7 M54.0,414.7 Q55.4,386.3 58.0,380.0 M53.2,414.7 Q50.7,395.5 46.0,392.0" fill="none" stroke="#4f9a3e" stroke-width="0.9" stroke-linecap="round"/>
<polygon points="40.5,416.3 67.4,416.3 65.8,426.5 42.1,426.5" fill="#6cc0dc"/>
<rect x="40" y="414.8" width="27.9" height="2.6" fill="#7ccbe4"/>
<rect x="89" y="422.6" width="9.8" height="1.9" fill="#f4f4f4"/>
<text x="20.6" y="375.8" font-size="6.9" fill="#e2e2e2" font-style="italic">TRV1TRV2</text>
</g>
<clipPath id="c6"><rect x="102.5" y="367.1" width="85" height="58.9"/></clipPath>
<g clip-path="url(#c6)">
<rect x="102.5" y="367.1" width="85" height="58.9" fill="#0a0a0a"/>
<path d="M141.8,414.0 Q154.4,387.5 177.7,387.6 M141.8,414.0 Q154.1,395.8 177.0,397.8 M142.2,414.0 Q157.1,403.5 184.8,408.8 M137.9,414.0 Q129.1,409.1 112.8,412.6 M137.4,414.0 Q126.1,419.3 105.1,426.7 M138.9,414.0 Q135.6,411.0 129.5,412.0 M142.1,414.0 Q156.1,413.6 182.2,421.0 M141.4,414.0 Q152.1,419.6 172.0,426.7 M140.7,414.0 Q147.5,399.9 160.0,400.0" fill="none" stroke="#4f9a3e" stroke-width="0.9" stroke-linecap="round"/>
<polygon points="124.9,415 154.2,415 152.4,426.5 126.7,426.5" fill="#6cc0dc"/>
<rect x="124.4" y="413.5" width="30.3" height="2.6" fill="#7ccbe4"/>
<rect x="176.5" y="422.6" width="9.2" height="1.9" fill="#f4f4f4"/>
<text x="105.5" y="375.8" font-size="6.9" fill="#e2e2e2" font-style="italic">V1-4Dg0135144</text>
</g>
<rect x="101.4" y="243" width="1.1" height="59.8" fill="#4a4a4a"/>
<rect x="101.4" y="305" width="1.1" height="59" fill="#4a4a4a"/>
<rect x="101.4" y="367.1" width="1.1" height="58.9" fill="#4a4a4a"/>
<text x="10.6" y="278.9" font-size="9.6" fill="#222" text-anchor="middle" transform="rotate(-90 10.6 275.5)">7 day</text>
<text x="10.8" y="339.8" font-size="9.6" fill="#222" text-anchor="middle" transform="rotate(-90 10.8 336.4)">Herbicide 0d</text>
<text x="10.8" y="401.6" font-size="9.6" fill="#222" text-anchor="middle" transform="rotate(-90 10.8 398.2)">Herbicide 7d</text>
<text x="188.6" y="240.1" font-size="16.8" fill="#1a1311" font-weight="bold">g</text>
<clipPath id="c7"><rect x="200.5" y="243" width="97.5" height="59.8"/></clipPath>
<g clip-path="url(#c7)">
<rect x="200.5" y="243" width="97.5" height="59.8" fill="#15110e"/>
<path d="M231.0,291.5 Q216.9,280.6 202.9,273.0 M233.0,291.5 Q222.2,286.7 211.4,283.8 M235.0,291.5 Q231.1,280.0 227.2,270.9 M237.0,291.5 Q236.8,272.7 236.5,257.3 M239.0,291.5 Q238.8,272.7 238.6,257.3 M246.0,291.5 Q246.6,270.7 247.2,253.7 M249.0,291.5 Q250.2,269.5 251.5,251.6 M251.0,291.5 Q252.3,269.9 253.6,252.3 M253.0,291.5 Q255.1,271.0 257.2,254.4 M256.0,291.5 Q259.1,277.3 262.2,265.9 M259.0,291.5 Q269.2,268.3 279.4,250.2 M260.0,291.5 Q271.1,276.5 282.3,265.2 M262.0,291.5 Q274.6,282.7 287.3,276.6" fill="none" stroke="#94bf52" stroke-width="1.3" stroke-linecap="round"/>
<polygon points="225.1,293 268.2,293 265.6,303.5 227.7,303.5" fill="#86a6a4"/>
<rect x="224.6" y="291.5" width="44.1" height="2.6" fill="#9ab8b5"/>
<rect x="278.2" y="297.2" width="15.6" height="2.6" fill="#f4f4f4"/>
<text x="203.5" y="251.9" font-size="6.9" fill="#e2e2e2" font-style="italic">TRV1TRV2</text>
</g>
<clipPath id="c8"><rect x="299" y="243" width="98" height="59.8"/></clipPath>
<g clip-path="url(#c8)">
<rect x="299" y="243" width="98" height="59.8" fill="#15110e"/>
<path d="M338.0,290.4 Q327.9,283.9 317.7,279.5 M339.0,290.4 Q330.9,281.2 322.8,274.4 M341.0,290.4 Q336.6,270.2 332.3,254.0 M341.0,290.4 Q336.3,275.3 331.6,263.4 M343.0,290.4 Q340.9,275.9 338.9,264.2 M345.0,290.4 Q345.6,270.7 346.2,254.7 M344.0,290.4 Q343.2,273.1 342.5,259.0 M347.0,290.4 Q348.1,273.5 349.1,259.8 M350.0,290.4 Q353.2,275.8 356.4,264.2 M355.0,290.4 Q363.8,283.1 372.5,278.0" fill="none" stroke="#74b257" stroke-width="1.3" stroke-linecap="round"/>
<polygon points="323.3,292.2 366.1,292.2 363.5,303.5 325.9,303.5" fill="#8d9f9d"/>
<rect x="322.8" y="290.7" width="43.8" height="2.6" fill="#9eb0ae"/>
<rect x="376.4" y="297.2" width="14.8" height="2.6" fill="#f4f4f4"/>
<text x="301" y="251.9" font-size="6.9" fill="#e2e2e2" font-style="italic">V2-4Dg0135144</text>
</g>
<clipPath id="c9"><rect x="200.5" y="304.7" width="97.5" height="59.3"/></clipPath>
<g clip-path="url(#c9)">
<rect x="200.5" y="304.7" width="97.5" height="59.3" fill="#15110e"/>
<path d="M240.0,356.0 Q234.3,329.5 228.6,308.3 M242.0,356.0 Q239.9,334.0 237.9,316.2 M244.0,356.0 Q243.1,332.1 242.2,312.6 M245.0,356.0 Q245.1,336.5 245.1,320.5 M247.0,356.0 Q249.6,332.4 252.2,313.3 M250.0,356.0 Q252.2,334.8 254.4,317.6 M238.0,356.0 Q225.1,343.3 212.2,334.0 M236.0,356.0 Q219.4,353.7 202.9,353.4 M240.0,356.0 Q234.7,348.0 229.3,341.9 M255.0,356.0 Q275.1,349.2 295.1,345.5 M255.0,356.0 Q274.7,351.6 294.4,349.8" fill="none" stroke="#a6b646" stroke-width="1.2" stroke-linecap="round"/>
<polygon points="226.5,357.7 266.5,357.7 264.1,364.5 228.9,364.5" fill="#7f9f98"/>
<rect x="226" y="356.2" width="41" height="2.6" fill="#8fb0a8"/>
<rect x="278.2" y="358.6" width="15.6" height="2.6" fill="#f4f4f4"/>
<text x="203.5" y="313.4" font-size="6.9" fill="#e2e2e2" font-style="italic">TRV1TRV2</text>
</g>
<clipPath id="c10"><rect x="299" y="304.7" width="98" height="59.3"/></clipPath>
<g clip-path="url(#c10)">
<rect x="299" y="304.7" width="98" height="59.3" fill="#0f0d0b"/>
<path d="M335.0,356.0 Q330.0,345.2 325.0,336.8 M335.0,356.0 Q323.4,348.9 311.9,344.1 M335.0,356.0 Q318.7,351.5 302.4,349.3 M342.0,356.0 Q341.9,349.9 341.8,344.9 M349.0,356.0 Q349.8,350.6 350.6,346.3 M352.0,356.0 Q356.8,345.6 361.5,337.6 M352.0,356.0 Q354.9,349.7 357.9,344.9 M355.0,356.0 Q368.9,352.4 382.7,350.7 M355.0,356.0 Q359.4,354.1 363.7,352.9" fill="none" stroke="#8ca83c" stroke-width="1.2" stroke-linecap="round"/>
<polygon points="327.9,357.3 369.5,357.3 367,364.5 330.4,364.5" fill="#6f7f62"/>
<rect x="327.4" y="355.8" width="42.6" height="2.6" fill="#7f8f70"/>
<rect x="376.4" y="358.6" width="14.8" height="2.6" fill="#f4f4f4"/>
<text x="301" y="313.4" font-size="6.9" fill="#e2e2e2" font-style="italic">V2-4Dg0135144</text>
</g>
<rect x="298" y="243" width="1" height="59.8" fill="#9a9a9a"/>
<rect x="298" y="304.7" width="1" height="59.3" fill="#9a9a9a"/>
<text x="193.9" y="275.2" font-size="9.6" fill="#222" text-anchor="middle" transform="rotate(-90 193.9 271.8)">Herbicide 0d</text>
<text x="193.9" y="338.2" font-size="9.6" fill="#222" text-anchor="middle" transform="rotate(-90 193.9 334.8)">Herbicide  7d</text>
<text x="2.4" y="451.1" font-size="16.8" fill="#1a1311" font-weight="bold">j</text>
<clipPath id="c11"><rect x="9" y="452.3" width="108" height="67.7"/></clipPath>
<g clip-path="url(#c11)">
<rect x="9" y="452.3" width="108" height="67.7" fill="#1d1815"/>
<path d="M45.0,511.0 Q31.8,493.5 18.5,480.4 M48.0,511.0 Q40.0,495.0 31.9,482.7 M52.0,511.0 Q47.5,492.2 42.9,477.2 M55.0,511.0 Q53.7,488.0 52.4,469.3 M58.0,511.0 Q57.5,483.3 57.1,460.7 M60.0,511.0 Q62.1,490.6 64.2,474.1 M62.0,511.0 Q65.8,493.1 69.7,478.8 M64.0,511.0 Q68.8,488.7 73.6,470.9 M66.0,511.0 Q71.0,480.9 76.0,456.7 M68.0,511.0 Q74.8,487.7 81.5,469.3 M70.0,511.0 Q80.1,489.8 90.2,473.3 M74.0,511.0 Q91.2,495.0 108.3,483.5" fill="none" stroke="#6aa852" stroke-width="1.25" stroke-linecap="round"/>
<polygon points="35.8,512.6 88.6,512.6 85.4,520.5 39,520.5" fill="#a3aca8"/>
<rect x="35.3" y="511.1" width="53.8" height="2.6" fill="#b3bab6"/>
<rect x="95.5" y="516.2" width="16.8" height="1.9" fill="#f4f4f4"/>
<text x="12.9" y="461.1" font-size="8.1" fill="#e2e2e2" font-style="italic">pUBI :: GFP</text>
</g>
<clipPath id="c12"><rect x="119" y="452.3" width="108" height="67.7"/></clipPath>
<g clip-path="url(#c12)">
<rect x="119" y="452.3" width="108" height="67.7" fill="#1b1613"/>
<path d="M155.0,509.5 Q141.3,499.3 127.7,492.2 M150.0,509.5 Q136.8,503.2 123.7,499.3 M160.0,509.5 Q152.1,494.0 144.2,482.0 M163.0,509.5 Q156.0,485.8 149.0,467.0 M165.0,509.5 Q161.3,491.1 157.6,476.4 M166.0,509.5 Q163.4,485.1 160.8,465.4 M168.0,509.5 Q165.9,483.0 163.9,461.5 M171.0,509.5 Q171.4,485.2 171.8,465.4 M173.0,509.5 Q174.8,483.8 176.5,463.0 M175.0,509.5 Q179.7,485.4 184.4,466.2 M178.0,509.5 Q184.8,492.3 191.5,478.8 M182.0,509.5 Q196.6,484.5 211.2,465.4 M185.0,509.5 Q199.7,491.4 214.4,478.0" fill="none" stroke="#78b456" stroke-width="1.25" stroke-linecap="round"/>
<polygon points="145.8,511 198.6,511 195.4,520.5 149,520.5" fill="#a8aeaa"/>
<rect x="145.3" y="509.5" width="53.8" height="2.6" fill="#b8beba"/>
<rect x="204.7" y="516.2" width="17.8" height="1.9" fill="#f4f4f4"/>
<text x="122" y="461.1" font-size="8.1" fill="#e2e2e2" font-style="italic">pUBI::4Dg0135144-GFP-T0</text>
</g>
<clipPath id="c13"><rect x="9" y="522" width="108" height="68"/></clipPath>
<g clip-path="url(#c13)">
<rect x="9" y="522" width="108" height="68" fill="#0e0b09"/>
<polygon points="35.8,572.4 87.8,572.4 84.7,591 38.9,591" fill="#3f4d35"/>
<rect x="35.3" y="570.9" width="53" height="2.6" fill="#5e6e48"/>
<path d="M38.0,572.0 Q35.2,585.2 30.0,590.0 M45.0,572.0 Q43.2,586.5 40.0,591.0 M44.0,572.0 Q44.7,586.1 46.0,590.0 M53.0,572.0 Q53.7,586.1 55.0,590.0 M56.0,572.0 Q56.4,587.1 57.0,591.0 M66.0,572.0 Q67.4,585.8 70.0,590.0 M72.0,572.0 Q73.4,586.6 76.0,591.0 M80.0,572.0 Q81.4,585.8 84.0,590.0 M86.0,572.0 Q88.1,586.3 92.0,591.0 M60.0,572.0 Q60.7,586.1 62.0,590.0" fill="none" stroke="#b0a040" stroke-width="1.1" stroke-linecap="round"/>
<rect x="95.5" y="585.8" width="16.8" height="1.9" fill="#f4f4f4"/>
<text x="12.9" y="530.7" font-size="8.1" fill="#e2e2e2" font-style="italic">pUBI :: GFP</text>
</g>
<clipPath id="c14"><rect x="119" y="522" width="108" height="68"/></clipPath>
<g clip-path="url(#c14)">
<rect x="119" y="522" width="108" height="68" fill="#0e0b09"/>
<polygon points="148.2,573.6 197.8,573.6 194.8,591 151.2,591" fill="#3f4e3b"/>
<rect x="147.7" y="572.1" width="50.6" height="2.6" fill="#5a6a48"/>
<path d="M170.0,572.0 Q170.1,560.4 170.2,557.5 M180.0,572.0 Q189.0,556.5 205.7,559.0 M185.0,572.0 Q196.1,560.4 216.7,565.4 M160.0,572.0 Q147.9,569.9 125.3,578.0 M158.0,572.0 Q147.7,579.1 128.5,588.2 M190.0,572.0 Q202.1,573.6 224.6,582.7 M165.0,572.0 Q163.2,565.7 160.0,565.4 M160.0,572.0 Q161.1,585.6 163.1,589.8 M195.0,572.0 Q196.5,585.4 199.4,589.8 M162.0,572.0 Q154.3,577.2 140.0,584.0" fill="none" stroke="#b0b040" stroke-width="1.2" stroke-linecap="round"/>
<rect x="204.7" y="585.8" width="17.8" height="1.9" fill="#f4f4f4"/>
<text x="122" y="530.7" font-size="8.1" fill="#e2e2e2" font-style="italic">pUBI::4Dg0135144-GFP-T0</text>
</g>
<text x="4" y="488.9" font-size="9.6" fill="#222" text-anchor="middle" transform="rotate(-90 4 485.5)">Herbicide 0d</text>
<text x="4" y="561.4" font-size="9.6" fill="#222" text-anchor="middle" transform="rotate(-90 4 558)">Herbicide 15d</text>
<text x="229.6" y="451" font-size="16.8" fill="#1a1311" font-weight="bold">k</text>
<clipPath id="c15"><rect x="241" y="452.3" width="105.9" height="67.4"/></clipPath>
<g clip-path="url(#c15)">
<rect x="241" y="452.3" width="105.9" height="67.4" fill="#080808"/>
<path d="M297.7,511.4 Q301.7,466.9 309.0,458.2 M296.5,511.4 Q293.7,476.3 288.6,469.2 M295.3,511.4 Q286.1,478.7 269.1,476.2 M294.3,511.4 Q279.8,486.6 252.7,489.5 M294.8,511.4 Q282.5,492.7 259.7,495.7 M297.4,511.4 Q299.5,486.6 303.5,481.7 M299.2,511.4 Q311.1,508.6 333.2,515.3 M294.8,511.4 Q282.5,511.5 259.7,519.2 M297.2,511.4 Q298.3,484.6 300.4,478.6 M296.8,511.4 Q295.8,481.8 294.0,475.0" fill="none" stroke="#78b840" stroke-width="1.0" stroke-linecap="round"/>
<polygon points="284.7,512.9 310.5,512.9 309,519.5 286.2,519.5" fill="#77898c"/>
<rect x="284.2" y="511.4" width="26.8" height="2.6" fill="#8a9c9f"/>
<rect x="327.5" y="515.3" width="8" height="1.9" fill="#f4f4f4"/>
<text x="243.5" y="460.7" font-size="8.1" fill="#e2e2e2">WT</text>
</g>
<clipPath id="c16"><rect x="350" y="452.3" width="104.3" height="67.4"/></clipPath>
<g clip-path="url(#c16)">
<rect x="350" y="452.3" width="104.3" height="67.4" fill="#080808"/>
<path d="M402.8,511.6 Q385.0,477.4 352.1,479.9 M403.2,511.6 Q387.8,494.6 359.1,500.0 M405.3,511.6 Q401.6,475.7 394.7,469.0 M406.7,511.6 Q410.6,472.5 417.9,465.2 M405.6,511.6 Q403.7,482.8 400.1,476.8 M406.7,511.6 Q410.3,480.7 417.1,475.2 M408.2,511.6 Q420.0,488.3 441.9,489.9 M408.4,511.6 Q421.8,496.9 446.5,501.5 M406.1,511.6 Q406.7,486.5 407.8,480.6 M404.7,511.6 Q397.8,486.9 385.0,485.0" fill="none" stroke="#7cc040" stroke-width="1.0" stroke-linecap="round"/>
<polygon points="392.3,513.1 419.4,513.1 417.8,519.5 393.9,519.5" fill="#77898c"/>
<rect x="391.8" y="511.6" width="28.1" height="2.6" fill="#8a9c9f"/>
<rect x="434.5" y="515.3" width="8" height="1.9" fill="#f4f4f4"/>
<text x="352" y="460.7" font-size="8.1" fill="#e2e2e2" font-style="italic">pUBI::4Dg0135144-Flag</text>
<text x="352" y="470" font-size="8.1" fill="#e2e2e2">-T1-Line2</text>
</g>
<clipPath id="c17"><rect x="241" y="522.6" width="105.9" height="69.4"/></clipPath>
<g clip-path="url(#c17)">
<rect x="241" y="522.6" width="105.9" height="69.4" fill="#030303"/>
<rect x="249.5" y="562" width="80.4" height="30" fill="#0b0f0b"/>
<polygon points="284.9,579.4 311.5,579.4 309.9,591 286.5,591" fill="#1f3a25"/>
<rect x="284.4" y="577.9" width="27.6" height="2.6" fill="#2a4a30"/>
<rect x="286" y="587.8" width="24.5" height="3.5" fill="#b89a84"/>
<path d="M303.0,578.5 Q303.7,572.8 305.0,571.5 M305.0,578.5 Q307.0,572.5 310.8,571.3 M294.0,578.5 Q294.7,575.6 296.0,575.0" fill="none" stroke="#a8a040" stroke-width="0.9" stroke-linecap="round"/>
<line x1="289.5" y1="578" x2="290.1" y2="591" stroke="#a8a848" stroke-width="0.9"/>
<line x1="292" y1="578" x2="292.6" y2="591" stroke="#a8a848" stroke-width="0.9"/>
<line x1="295.5" y1="578" x2="296.1" y2="591" stroke="#a8a848" stroke-width="0.9"/>
<line x1="298" y1="578" x2="298.6" y2="591" stroke="#a8a848" stroke-width="0.9"/>
<line x1="301" y1="578" x2="301.6" y2="591" stroke="#a8a848" stroke-width="0.9"/>
<line x1="303.5" y1="578" x2="304.1" y2="591" stroke="#a8a848" stroke-width="0.9"/>
<line x1="306.5" y1="578" x2="307.1" y2="591" stroke="#a8a848" stroke-width="0.9"/>
<rect x="327.5" y="585.5" width="8" height="1.9" fill="#f4f4f4"/>
<text x="243.5" y="531.5" font-size="8.1" fill="#e2e2e2">WT</text>
</g>
<clipPath id="c18"><rect x="350" y="522.6" width="104.3" height="69.4"/></clipPath>
<g clip-path="url(#c18)">
<rect x="350" y="522.6" width="104.3" height="69.4" fill="#030303"/>
<rect x="364.6" y="542" width="72.5" height="50" fill="#0a0d0a"/>
<polygon points="392.4,578.8 420.5,578.8 418.8,591 394.1,591" fill="#1f3a25"/>
<rect x="391.9" y="577.3" width="29.1" height="2.6" fill="#2a4a30"/>
<rect x="393.5" y="587.2" width="26" height="4" fill="#b89a84"/>
<path d="M412.0,578.0 Q412.6,552.9 413.8,547.2 M400.0,578.0 Q396.6,559.9 390.3,558.4 M398.0,578.0 Q393.9,565.4 386.2,566.0 M420.0,578.0 Q425.4,578.1 435.3,582.9" fill="none" stroke="#8c9a3a" stroke-width="0.9" stroke-linecap="round"/>
<line x1="397" y1="577.5" x2="397.8" y2="591" stroke="#9aa040" stroke-width="0.9"/>
<line x1="400" y1="577.5" x2="400.8" y2="591" stroke="#9aa040" stroke-width="0.9"/>
<line x1="403" y1="577.5" x2="403.8" y2="591" stroke="#9aa040" stroke-width="0.9"/>
<line x1="406" y1="577.5" x2="406.8" y2="591" stroke="#9aa040" stroke-width="0.9"/>
<line x1="409" y1="577.5" x2="409.8" y2="591" stroke="#9aa040" stroke-width="0.9"/>
<line x1="412" y1="577.5" x2="412.8" y2="591" stroke="#9aa040" stroke-width="0.9"/>
<line x1="415" y1="577.5" x2="415.8" y2="591" stroke="#9aa040" stroke-width="0.9"/>
<rect x="434.5" y="585.5" width="8" height="1.9" fill="#f4f4f4"/>
<text x="352" y="531.5" font-size="8.1" fill="#e2e2e2" font-style="italic">pUBI::4Dg0135144-Flag</text>
<text x="352" y="540.9" font-size="8.1" fill="#e2e2e2">-T1-Line2</text>
</g>
<text x="236" y="488.9" font-size="9.6" fill="#222" text-anchor="middle" transform="rotate(-90 236 485.5)">Herbicide 0d</text>
<text x="236" y="561.4" font-size="9.6" fill="#222" text-anchor="middle" transform="rotate(-90 236 558)">Herbicide 15d</text>
<rect x="457.2" y="439.1" width="2.7" height="11.6" fill="#1a1311"/>
<clipPath id="c19"><rect x="464" y="452.3" width="106.9" height="68.3"/></clipPath>
<g clip-path="url(#c19)">
<rect x="464" y="452.3" width="106.9" height="68.3" fill="#19130f"/>
<path d="M521.6,512.0 Q525.2,473.8 531.8,466.2 M520.4,512.0 Q517.2,484.7 511.3,479.6 M519.0,512.0 Q508.3,487.2 488.4,486.7 M519.0,512.0 Q507.7,495.1 486.9,496.9 M523.9,512.0 Q539.6,483.7 568.8,485.1 M522.3,512.0 Q529.5,498.8 542.8,499.3 M518.6,512.0 Q505.6,507.0 481.3,512.7 M520.7,512.0 Q519.1,489.1 516.0,484.3 M521.2,512.0 Q522.6,493.8 525.0,490.0" fill="none" stroke="#80b840" stroke-width="1.0" stroke-linecap="round"/>
<polygon points="506.6,513.4 536.5,513.4 534.7,520.6 508.4,520.6" fill="#8c9a9a"/>
<rect x="506.1" y="511.9" width="30.9" height="2.6" fill="#9eacac"/>
<rect x="547" y="516" width="9" height="1.9" fill="#f4f4f4"/>
<text x="466" y="460.7" font-size="8.1" fill="#e2e2e2">WT</text>
</g>
<clipPath id="c20"><rect x="574" y="452.3" width="107" height="68.3"/></clipPath>
<g clip-path="url(#c20)">
<rect x="574" y="452.3" width="107" height="68.3" fill="#16120f"/>
<rect x="574" y="452.3" width="104" height="11.5" fill="#020202"/>
<path d="M631.5,512.0 Q634.0,482.3 638.6,476.4 M630.9,512.0 Q630.6,490.3 630.0,485.1 M631.2,512.0 Q632.4,489.2 634.7,484.3 M628.7,512.0 Q616.2,498.1 592.9,502.4 M628.5,512.0 Q615.0,506.4 589.8,513.5 M632.1,512.0 Q638.3,498.8 649.7,499.3 M632.9,512.0 Q643.2,503.0 662.3,507.2 M633.6,512.0 Q648.1,509.7 674.9,518.2 M630.5,512.0 Q627.8,501.8 622.9,500.9" fill="none" stroke="#6aae3a" stroke-width="1.0" stroke-linecap="round"/>
<polygon points="617.4,513.4 644.2,513.4 642.6,520.6 619,520.6" fill="#8c9a9a"/>
<rect x="616.9" y="511.9" width="27.8" height="2.6" fill="#9eacac"/>
<rect x="662" y="516" width="9" height="1.9" fill="#f4f4f4"/>
<text x="575" y="460.7" font-size="8.1" fill="#e2e2e2" font-style="italic">pUBI::4Dg0135144-Flag</text>
<text x="575" y="470" font-size="8.1" fill="#e2e2e2">-T1-Line6</text>
</g>
<clipPath id="c21"><rect x="464" y="523.7" width="106.9" height="68.3"/></clipPath>
<g clip-path="url(#c21)">
<rect x="464" y="523.7" width="106.9" height="68.3" fill="#030303"/>
<rect x="484.8" y="528" width="70" height="64" fill="#0a0c0e"/>
<polygon points="501,581.9 533.9,581.9 531.9,592 503,592" fill="#3f7a78"/>
<rect x="500.5" y="580.4" width="33.9" height="2.6" fill="#4f8a88"/>
<path d="M516.6,581.0 Q514.3,578.4 510.0,579.0 M517.5,581.0 Q520.5,577.7 526.0,578.5 M517.7,581.0 Q521.7,579.3 529.0,581.0 M516.7,581.0 Q515.1,581.9 512.0,583.0" fill="none" stroke="#9a9a50" stroke-width="0.9" stroke-linecap="round"/>
<line x1="506" y1="581" x2="506.5" y2="591" stroke="#8a9050" stroke-width="0.8"/>
<line x1="511" y1="581" x2="511.5" y2="591" stroke="#8a9050" stroke-width="0.8"/>
<line x1="522" y1="581" x2="522.5" y2="591" stroke="#8a9050" stroke-width="0.8"/>
<line x1="527" y1="581" x2="527.5" y2="591" stroke="#8a9050" stroke-width="0.8"/>
<line x1="531" y1="581" x2="531.5" y2="591" stroke="#8a9050" stroke-width="0.8"/>
<rect x="547" y="585.5" width="9" height="1.9" fill="#f4f4f4"/>
<text x="466" y="532.5" font-size="8.1" fill="#e2e2e2">WT</text>
</g>
<clipPath id="c22"><rect x="574" y="523.7" width="107" height="68.3"/></clipPath>
<g clip-path="url(#c22)">
<rect x="574" y="523.7" width="107" height="68.3" fill="#030303"/>
<rect x="590.6" y="528" width="79.7" height="64" fill="#0a0c0e"/>
<path d="M623,579.5 Q610,530 626.7,569.9 M631,579 Q640,560 650.6,563.9 M635,579 Q655,575 662.6,589.4 M620,580 Q612,580 607,588 M640,579 Q645,570 646,566" fill="none" stroke="#7a9a48" stroke-width="1" stroke-linecap="round"/>
<polygon points="611.7,580.4 650.6,580.4 648.3,592 614,592" fill="#3f7a78"/>
<rect x="611.2" y="578.9" width="39.9" height="2.6" fill="#4f8a88"/>
<line x1="616" y1="580" x2="616.5" y2="591" stroke="#7a9a48" stroke-width="0.8"/>
<line x1="621" y1="580" x2="621.5" y2="591" stroke="#7a9a48" stroke-width="0.8"/>
<line x1="627" y1="580" x2="627.5" y2="591" stroke="#7a9a48" stroke-width="0.8"/>
<line x1="634" y1="580" x2="634.5" y2="591" stroke="#7a9a48" stroke-width="0.8"/>
<line x1="640" y1="580" x2="640.5" y2="591" stroke="#7a9a48" stroke-width="0.8"/>
<line x1="646" y1="580" x2="646.5" y2="591" stroke="#7a9a48" stroke-width="0.8"/>
<rect x="662" y="585.5" width="9" height="1.9" fill="#f4f4f4"/>
<text x="575" y="532.5" font-size="8.1" fill="#e2e2e2" font-style="italic">pUBI::4Dg0135144-Flag</text>
<text x="575" y="541.9" font-size="8.1" fill="#e2e2e2">-T1-Line6</text>
</g>
<text x="459.5" y="488.9" font-size="9.6" fill="#222" text-anchor="middle" transform="rotate(-90 459.5 485.5)">Herbicide 0d</text>
<text x="459.5" y="561.4" font-size="9.6" fill="#222" text-anchor="middle" transform="rotate(-90 459.5 558)">Herbicide 15d</text>
<text x="189.3" y="383.7" font-size="16.8" fill="#1a1311" font-weight="bold">h</text>
<line x1="227.3" y1="371" x2="227.3" y2="413.1" stroke="#222" stroke-width="0.8"/>
<line x1="227.3" y1="413.1" x2="295.2" y2="413.1" stroke="#222" stroke-width="0.8"/>
<line x1="225.3" y1="413.1" x2="227.3" y2="413.1" stroke="#222" stroke-width="0.8"/>
<text x="224.1" y="415.9" font-size="7.9" fill="#222" text-anchor="end">0</text>
<line x1="225.3" y1="402.7" x2="227.3" y2="402.7" stroke="#222" stroke-width="0.8"/>
<text x="224.1" y="405.5" font-size="7.9" fill="#222" text-anchor="end">20</text>
<line x1="225.3" y1="392.2" x2="227.3" y2="392.2" stroke="#222" stroke-width="0.8"/>
<text x="224.1" y="395" font-size="7.9" fill="#222" text-anchor="end">40</text>
<line x1="225.3" y1="381.8" x2="227.3" y2="381.8" stroke="#222" stroke-width="0.8"/>
<text x="224.1" y="384.6" font-size="7.9" fill="#222" text-anchor="end">60</text>
<line x1="225.3" y1="371.3" x2="227.3" y2="371.3" stroke="#222" stroke-width="0.8"/>
<text x="224.1" y="374.1" font-size="7.9" fill="#222" text-anchor="end">80</text>
<line x1="244.6" y1="413.1" x2="244.6" y2="415.1" stroke="#222" stroke-width="0.8"/>
<line x1="277.8" y1="413.1" x2="277.8" y2="415.1" stroke="#222" stroke-width="0.8"/>
<circle cx="244.6" cy="381.8" r="2.1" fill="#f0983c"/>
<circle cx="238.6" cy="387" r="2.1" fill="#f0983c"/>
<circle cx="244.6" cy="387" r="2.1" fill="#f0983c"/>
<circle cx="250.6" cy="387" r="2.1" fill="#f0983c"/>
<circle cx="244.6" cy="392.2" r="2.1" fill="#f0983c"/>
<rect x="272.8" y="395.4" width="4" height="4" fill="#7fb2e0"/>
<rect x="278.8" y="395.4" width="4" height="4" fill="#7fb2e0"/>
<rect x="275.8" y="395.4" width="4" height="4" fill="#7fb2e0"/>
<rect x="272.8" y="400.7" width="4" height="4" fill="#7fb2e0"/>
<rect x="278.8" y="400.7" width="4" height="4" fill="#7fb2e0"/>
<rect x="275.8" y="405.9" width="4" height="4" fill="#7fb2e0"/>
<line x1="244.6" y1="383.3" x2="244.6" y2="390.6" stroke="#333" stroke-width="0.8"/>
<line x1="239" y1="383.3" x2="250.2" y2="383.3" stroke="#333" stroke-width="0.8"/>
<line x1="239" y1="390.6" x2="250.2" y2="390.6" stroke="#333" stroke-width="0.8"/>
<line x1="277.8" y1="397.4" x2="277.8" y2="406.3" stroke="#333" stroke-width="0.8"/>
<line x1="272.2" y1="397.4" x2="283.4" y2="397.4" stroke="#333" stroke-width="0.8"/>
<line x1="272.2" y1="406.3" x2="283.4" y2="406.3" stroke="#333" stroke-width="0.8"/>
<text x="277.8" y="386.7" font-size="7.5" fill="#222" text-anchor="middle">***</text>
<text x="256" y="420.8" font-size="8.3" fill="#222" text-anchor="end" transform="rotate(-21 256 420.8)">TRV1TRV2</text>
<text x="296.5" y="419.3" font-size="8.3" fill="#222" text-anchor="end" transform="rotate(-21 296.5 419.3)">V1-4Dg0135144</text>
<line x1="323.7" y1="371" x2="323.7" y2="413.1" stroke="#222" stroke-width="0.8"/>
<line x1="323.7" y1="413.1" x2="392" y2="413.1" stroke="#222" stroke-width="0.8"/>
<line x1="321.7" y1="413.1" x2="323.7" y2="413.1" stroke="#222" stroke-width="0.8"/>
<text x="320.5" y="415.9" font-size="7.9" fill="#222" text-anchor="end">0</text>
<line x1="321.7" y1="402.7" x2="323.7" y2="402.7" stroke="#222" stroke-width="0.8"/>
<text x="320.5" y="405.5" font-size="7.9" fill="#222" text-anchor="end">20</text>
<line x1="321.7" y1="392.2" x2="323.7" y2="392.2" stroke="#222" stroke-width="0.8"/>
<text x="320.5" y="395" font-size="7.9" fill="#222" text-anchor="end">40</text>
<line x1="321.7" y1="381.8" x2="323.7" y2="381.8" stroke="#222" stroke-width="0.8"/>
<text x="320.5" y="384.6" font-size="7.9" fill="#222" text-anchor="end">60</text>
<line x1="321.7" y1="371.3" x2="323.7" y2="371.3" stroke="#222" stroke-width="0.8"/>
<text x="320.5" y="374.1" font-size="7.9" fill="#222" text-anchor="end">80</text>
<line x1="341.1" y1="413.1" x2="341.1" y2="415.1" stroke="#222" stroke-width="0.8"/>
<line x1="375.1" y1="413.1" x2="375.1" y2="415.1" stroke="#222" stroke-width="0.8"/>
<circle cx="341.1" cy="381.8" r="2.1" fill="#f0983c"/>
<circle cx="341.1" cy="387" r="2.1" fill="#f0983c"/>
<circle cx="341.1" cy="392.2" r="2.1" fill="#f0983c"/>
<circle cx="341.1" cy="384.4" r="2.1" fill="#f0983c"/>
<circle cx="341.1" cy="389.6" r="2.1" fill="#f0983c"/>
<rect x="373.1" y="395.4" width="4" height="4" fill="#7fb2e0"/>
<rect x="373.1" y="400.7" width="4" height="4" fill="#7fb2e0"/>
<rect x="373.1" y="405.9" width="4" height="4" fill="#7fb2e0"/>
<rect x="373.1" y="398" width="4" height="4" fill="#7fb2e0"/>
<rect x="373.1" y="403.3" width="4" height="4" fill="#7fb2e0"/>
<line x1="341.1" y1="381.8" x2="341.1" y2="392.2" stroke="#333" stroke-width="0.8"/>
<line x1="335.5" y1="381.8" x2="346.7" y2="381.8" stroke="#333" stroke-width="0.8"/>
<line x1="335.5" y1="392.2" x2="346.7" y2="392.2" stroke="#333" stroke-width="0.8"/>
<line x1="330.1" y1="387" x2="352.1" y2="387" stroke="#333" stroke-width="0.8"/>
<line x1="375.1" y1="397.4" x2="375.1" y2="407.9" stroke="#333" stroke-width="0.8"/>
<line x1="369.5" y1="397.4" x2="380.7" y2="397.4" stroke="#333" stroke-width="0.8"/>
<line x1="369.5" y1="407.9" x2="380.7" y2="407.9" stroke="#333" stroke-width="0.8"/>
<line x1="364.1" y1="402.7" x2="386.1" y2="402.7" stroke="#333" stroke-width="0.8"/>
<text x="375.1" y="394.7" font-size="7.5" fill="#222" text-anchor="middle">*</text>
<text x="352.5" y="420.8" font-size="8.3" fill="#222" text-anchor="end" transform="rotate(-21 352.5 420.8)">TRV1TRV2</text>
<text x="392.2" y="419.3" font-size="8.3" fill="#222" text-anchor="end" transform="rotate(-21 392.2 419.3)">V2-4Dg0135144</text>
<text x="206" y="402.9" font-size="8.1" fill="#222" text-anchor="middle" transform="rotate(-90 206 400)">Survival Rate (%)</text>
<text x="301.8" y="402.9" font-size="8.1" fill="#222" text-anchor="middle" transform="rotate(-90 301.8 400)">Survival Rate (%)</text>
<text x="407.2" y="246" font-size="16.8" fill="#1a1311" font-weight="bold">i</text>
<rect x="433.9" y="243.1" width="12.5" height="6.8" fill="#e4964c"/>
<text x="447.8" y="250.4" font-size="8.3" fill="#222">Mock</text>
<rect x="481" y="243.7" width="12.8" height="6.5" fill="#5eae86"/>
<text x="495" y="250.5" font-size="8.3" fill="#222">Herbicides</text>
<line x1="435.8" y1="261.6" x2="435.8" y2="385.5" stroke="#444" stroke-width="0.9"/>
<line x1="435.8" y1="385.5" x2="488.5" y2="385.5" stroke="#333" stroke-width="0.9"/>
<line x1="433.6" y1="385.5" x2="435.8" y2="385.5" stroke="#444" stroke-width="0.9"/>
<text x="429.6" y="388.2" font-size="7.6" fill="#222" text-anchor="end">0</text>
<line x1="433.6" y1="360.7" x2="435.8" y2="360.7" stroke="#444" stroke-width="0.9"/>
<text x="429.6" y="363.4" font-size="7.6" fill="#222" text-anchor="end">2000</text>
<line x1="433.6" y1="335.9" x2="435.8" y2="335.9" stroke="#444" stroke-width="0.9"/>
<text x="429.6" y="338.6" font-size="7.6" fill="#222" text-anchor="end">4000</text>
<line x1="433.6" y1="311.2" x2="435.8" y2="311.2" stroke="#444" stroke-width="0.9"/>
<text x="429.6" y="313.9" font-size="7.6" fill="#222" text-anchor="end">6000</text>
<line x1="433.6" y1="286.4" x2="435.8" y2="286.4" stroke="#444" stroke-width="0.9"/>
<text x="429.6" y="289.1" font-size="7.6" fill="#222" text-anchor="end">8000</text>
<line x1="433.6" y1="261.6" x2="435.8" y2="261.6" stroke="#444" stroke-width="0.9"/>
<text x="429.6" y="264.3" font-size="7.6" fill="#222" text-anchor="end">10000</text>
<text x="407.4" y="320.7" font-size="9.2" fill="#222" text-anchor="middle" transform="rotate(-90 407.4 317.4)">CAT (U/g)</text>
<circle cx="443" cy="332.2" r="1.1" fill="#f0a050"/>
<circle cx="447" cy="333.5" r="1.1" fill="#f0a050"/>
<circle cx="442" cy="338.4" r="1.1" fill="#f0a050"/>
<circle cx="448" cy="337.2" r="1.1" fill="#f0a050"/>
<circle cx="445" cy="342.1" r="1.1" fill="#f0a050"/>
<circle cx="444" cy="331" r="1.1" fill="#f0a050"/>
<line x1="445" y1="331" x2="445" y2="340.9" stroke="#222" stroke-width="0.8"/>
<line x1="441.8" y1="331" x2="448.2" y2="331" stroke="#222" stroke-width="0.8"/>
<line x1="441.8" y1="340.9" x2="448.2" y2="340.9" stroke="#222" stroke-width="0.8"/>
<line x1="439.2" y1="335.9" x2="450.8" y2="335.9" stroke="#222" stroke-width="0.8"/>
<circle cx="456.6" cy="339.7" r="1.1" fill="#6fa8dc"/>
<circle cx="460.6" cy="340.9" r="1.1" fill="#6fa8dc"/>
<circle cx="455.6" cy="342.1" r="1.1" fill="#6fa8dc"/>
<circle cx="461.6" cy="340.3" r="1.1" fill="#6fa8dc"/>
<circle cx="458.6" cy="342.8" r="1.1" fill="#6fa8dc"/>
<circle cx="459.6" cy="338.4" r="1.1" fill="#6fa8dc"/>
<line x1="458.6" y1="338.7" x2="458.6" y2="342.8" stroke="#222" stroke-width="0.8"/>
<line x1="455.4" y1="338.7" x2="461.8" y2="338.7" stroke="#222" stroke-width="0.8"/>
<line x1="455.4" y1="342.8" x2="461.8" y2="342.8" stroke="#222" stroke-width="0.8"/>
<line x1="452.8" y1="340.9" x2="464.4" y2="340.9" stroke="#222" stroke-width="0.8"/>
<circle cx="472.3" cy="274" r="1.1" fill="#f0a050"/>
<circle cx="474.3" cy="276.5" r="1.1" fill="#f0a050"/>
<circle cx="471.3" cy="283.9" r="1.1" fill="#f0a050"/>
<circle cx="473.3" cy="288.9" r="1.1" fill="#f0a050"/>
<circle cx="472.3" cy="293.8" r="1.1" fill="#f0a050"/>
<circle cx="470.3" cy="280.2" r="1.1" fill="#f0a050"/>
<line x1="472.3" y1="272.1" x2="472.3" y2="291.3" stroke="#222" stroke-width="0.8"/>
<line x1="469.1" y1="272.1" x2="475.5" y2="272.1" stroke="#222" stroke-width="0.8"/>
<line x1="469.1" y1="291.3" x2="475.5" y2="291.3" stroke="#222" stroke-width="0.8"/>
<line x1="466.5" y1="281.4" x2="478.1" y2="281.4" stroke="#222" stroke-width="0.8"/>
<circle cx="482.5" cy="296.3" r="1.1" fill="#6fa8dc"/>
<circle cx="484.5" cy="305" r="1.1" fill="#6fa8dc"/>
<circle cx="480.5" cy="308.7" r="1.1" fill="#6fa8dc"/>
<circle cx="483.5" cy="312.4" r="1.1" fill="#6fa8dc"/>
<circle cx="481.5" cy="311.2" r="1.1" fill="#6fa8dc"/>
<circle cx="485.5" cy="306.2" r="1.1" fill="#6fa8dc"/>
<line x1="482.5" y1="300.6" x2="482.5" y2="313.6" stroke="#222" stroke-width="0.8"/>
<line x1="479.3" y1="300.6" x2="485.7" y2="300.6" stroke="#222" stroke-width="0.8"/>
<line x1="479.3" y1="313.6" x2="485.7" y2="313.6" stroke="#222" stroke-width="0.8"/>
<line x1="476.7" y1="307.4" x2="488.3" y2="307.4" stroke="#222" stroke-width="0.8"/>
<line x1="440.6" y1="267.4" x2="462.8" y2="267.4" stroke="#555" stroke-width="0.9"/>
<text x="451.7" y="265.8" font-size="7.6" fill="#222" text-anchor="middle">ns</text>
<line x1="466.9" y1="267.4" x2="488.8" y2="267.4" stroke="#555" stroke-width="0.9"/>
<text x="477.9" y="265.8" font-size="7.6" fill="#222" text-anchor="middle">***</text>
<rect x="439.4" y="388.4" width="24.2" height="2.6" fill="#e99a52"/>
<rect x="466" y="388.4" width="21.4" height="2.6" fill="#62b08a"/>
<text x="440.9" y="396.4" font-size="8.2" fill="#222" text-anchor="end" font-style="italic" transform="rotate(-40 440.9 396.4)">TRV1TRV2</text>
<text x="457" y="395.7" font-size="8.2" fill="#222" text-anchor="end" font-style="italic" transform="rotate(-40 457 395.7)">V-4Dg0135144</text>
<text x="473" y="394.2" font-size="8.2" fill="#222" text-anchor="end" font-style="italic" transform="rotate(-40 473 394.2)">TRV1TRV2</text>
<text x="489.1" y="395.7" font-size="8.2" fill="#222" text-anchor="end" font-style="italic" transform="rotate(-40 489.1 395.7)">V-4Dg0135144</text>
<line x1="523.1" y1="266.4" x2="523.1" y2="384.9" stroke="#444" stroke-width="0.9"/>
<line x1="523.1" y1="384.9" x2="577.7" y2="384.9" stroke="#333" stroke-width="0.9"/>
<line x1="520.9" y1="384.9" x2="523.1" y2="384.9" stroke="#444" stroke-width="0.9"/>
<text x="519.7" y="387.6" font-size="7.6" fill="#222" text-anchor="end">0.0</text>
<line x1="520.9" y1="355.3" x2="523.1" y2="355.3" stroke="#444" stroke-width="0.9"/>
<text x="519.7" y="358" font-size="7.6" fill="#222" text-anchor="end">0.2</text>
<line x1="520.9" y1="325.6" x2="523.1" y2="325.6" stroke="#444" stroke-width="0.9"/>
<text x="519.7" y="328.3" font-size="7.6" fill="#222" text-anchor="end">0.4</text>
<line x1="520.9" y1="296" x2="523.1" y2="296" stroke="#444" stroke-width="0.9"/>
<text x="519.7" y="298.7" font-size="7.6" fill="#222" text-anchor="end">0.6</text>
<line x1="520.9" y1="266.4" x2="523.1" y2="266.4" stroke="#444" stroke-width="0.9"/>
<text x="519.7" y="269.1" font-size="7.6" fill="#222" text-anchor="end">0.8</text>
<text x="499" y="324.9" font-size="9.2" fill="#222" text-anchor="middle" transform="rotate(-90 499 321.6)">Soluble sugar  (mg/g)</text>
<circle cx="530.3" cy="325.6" r="1.1" fill="#f0a050"/>
<circle cx="528.3" cy="331.6" r="1.1" fill="#f0a050"/>
<circle cx="532.3" cy="334.5" r="1.1" fill="#f0a050"/>
<circle cx="530.3" cy="339" r="1.1" fill="#f0a050"/>
<circle cx="531.3" cy="336" r="1.1" fill="#f0a050"/>
<line x1="530.3" y1="328.6" x2="530.3" y2="337.5" stroke="#222" stroke-width="0.8"/>
<line x1="527.1" y1="328.6" x2="533.5" y2="328.6" stroke="#222" stroke-width="0.8"/>
<line x1="527.1" y1="337.5" x2="533.5" y2="337.5" stroke="#222" stroke-width="0.8"/>
<line x1="524.5" y1="333.1" x2="536.1" y2="333.1" stroke="#222" stroke-width="0.8"/>
<circle cx="544" cy="339" r="1.1" fill="#6fa8dc"/>
<circle cx="542" cy="341.9" r="1.1" fill="#6fa8dc"/>
<circle cx="546" cy="343.4" r="1.1" fill="#6fa8dc"/>
<circle cx="544" cy="344.9" r="1.1" fill="#6fa8dc"/>
<circle cx="545" cy="340.5" r="1.1" fill="#6fa8dc"/>
<line x1="544" y1="339" x2="544" y2="344.9" stroke="#222" stroke-width="0.8"/>
<line x1="540.8" y1="339" x2="547.2" y2="339" stroke="#222" stroke-width="0.8"/>
<line x1="540.8" y1="344.9" x2="547.2" y2="344.9" stroke="#222" stroke-width="0.8"/>
<line x1="538.2" y1="343.4" x2="549.8" y2="343.4" stroke="#222" stroke-width="0.8"/>
<circle cx="557.3" cy="281.2" r="1.1" fill="#f0a050"/>
<circle cx="555.3" cy="287.1" r="1.1" fill="#f0a050"/>
<circle cx="559.3" cy="290.1" r="1.1" fill="#f0a050"/>
<circle cx="557.3" cy="296" r="1.1" fill="#f0a050"/>
<circle cx="558.3" cy="285.7" r="1.1" fill="#f0a050"/>
<line x1="557.3" y1="282.7" x2="557.3" y2="293.1" stroke="#222" stroke-width="0.8"/>
<line x1="554.1" y1="282.7" x2="560.5" y2="282.7" stroke="#222" stroke-width="0.8"/>
<line x1="554.1" y1="293.1" x2="560.5" y2="293.1" stroke="#222" stroke-width="0.8"/>
<line x1="551.5" y1="288.6" x2="563.1" y2="288.6" stroke="#222" stroke-width="0.8"/>
<circle cx="570" cy="316.8" r="1.1" fill="#6fa8dc"/>
<circle cx="568" cy="319.7" r="1.1" fill="#6fa8dc"/>
<circle cx="572" cy="319.7" r="1.1" fill="#6fa8dc"/>
<circle cx="570" cy="321.2" r="1.1" fill="#6fa8dc"/>
<circle cx="571" cy="318.2" r="1.1" fill="#6fa8dc"/>
<line x1="570" y1="318.2" x2="570" y2="321.2" stroke="#222" stroke-width="0.8"/>
<line x1="566.8" y1="318.2" x2="573.2" y2="318.2" stroke="#222" stroke-width="0.8"/>
<line x1="566.8" y1="321.2" x2="573.2" y2="321.2" stroke="#222" stroke-width="0.8"/>
<line x1="564.2" y1="319.7" x2="575.8" y2="319.7" stroke="#222" stroke-width="0.8"/>
<line x1="528.1" y1="270.1" x2="547.1" y2="270.1" stroke="#555" stroke-width="0.9"/>
<text x="537.6" y="268.5" font-size="7.6" fill="#222" text-anchor="middle">**</text>
<line x1="554.3" y1="270.1" x2="575.6" y2="270.1" stroke="#555" stroke-width="0.9"/>
<text x="565" y="268.5" font-size="7.6" fill="#222" text-anchor="middle">****</text>
<rect x="525" y="387.4" width="24.9" height="2.6" fill="#e99a52"/>
<rect x="551.6" y="387.4" width="25.3" height="2.6" fill="#62b08a"/>
<text x="527.8" y="395.7" font-size="8.2" fill="#222" text-anchor="end" font-style="italic" transform="rotate(-40 527.8 395.7)">TRV1TRV2</text>
<text x="543.8" y="396.4" font-size="8.2" fill="#222" text-anchor="end" font-style="italic" transform="rotate(-40 543.8 396.4)">V-4Dg0135144</text>
<text x="560.6" y="395.3" font-size="8.2" fill="#222" text-anchor="end" font-style="italic" transform="rotate(-40 560.6 395.3)">TRV1TRV2</text>
<text x="576" y="396.4" font-size="8.2" fill="#222" text-anchor="end" font-style="italic" transform="rotate(-40 576 396.4)">V-4Dg0135144</text>
<line x1="610.4" y1="267.2" x2="610.4" y2="385" stroke="#444" stroke-width="0.9"/>
<line x1="610.4" y1="385" x2="674.5" y2="385" stroke="#333" stroke-width="0.9"/>
<line x1="608.2" y1="385" x2="610.4" y2="385" stroke="#444" stroke-width="0.9"/>
<text x="606.7" y="387.7" font-size="7.6" fill="#222" text-anchor="end">0</text>
<line x1="608.2" y1="355.6" x2="610.4" y2="355.6" stroke="#444" stroke-width="0.9"/>
<text x="606.7" y="358.2" font-size="7.6" fill="#222" text-anchor="end">10</text>
<line x1="608.2" y1="326.1" x2="610.4" y2="326.1" stroke="#444" stroke-width="0.9"/>
<text x="606.7" y="328.8" font-size="7.6" fill="#222" text-anchor="end">20</text>
<line x1="608.2" y1="296.6" x2="610.4" y2="296.6" stroke="#444" stroke-width="0.9"/>
<text x="606.7" y="299.3" font-size="7.6" fill="#222" text-anchor="end">30</text>
<line x1="608.2" y1="267.2" x2="610.4" y2="267.2" stroke="#444" stroke-width="0.9"/>
<text x="606.7" y="269.9" font-size="7.6" fill="#222" text-anchor="end">40</text>
<text x="593.3" y="326.3" font-size="9.2" fill="#222" text-anchor="middle" transform="rotate(-90 593.3 323)">Chlorophyll concentration (u mol/ml/g)</text>
<circle cx="615.3" cy="301.1" r="1.1" fill="#f0a050"/>
<circle cx="621.3" cy="300.8" r="1.1" fill="#f0a050"/>
<circle cx="618.3" cy="303.7" r="1.1" fill="#f0a050"/>
<circle cx="616.3" cy="302.5" r="1.1" fill="#f0a050"/>
<circle cx="620.3" cy="302" r="1.1" fill="#f0a050"/>
<line x1="618.3" y1="300.2" x2="618.3" y2="303.1" stroke="#222" stroke-width="0.8"/>
<line x1="615.1" y1="300.2" x2="621.5" y2="300.2" stroke="#222" stroke-width="0.8"/>
<line x1="615.1" y1="303.1" x2="621.5" y2="303.1" stroke="#222" stroke-width="0.8"/>
<line x1="612.5" y1="301.7" x2="624.1" y2="301.7" stroke="#222" stroke-width="0.8"/>
<circle cx="631.4" cy="298.1" r="1.1" fill="#6fa8dc"/>
<circle cx="637.4" cy="298.4" r="1.1" fill="#6fa8dc"/>
<circle cx="634.4" cy="296.1" r="1.1" fill="#6fa8dc"/>
<circle cx="632.4" cy="300.2" r="1.1" fill="#6fa8dc"/>
<circle cx="636.4" cy="300.5" r="1.1" fill="#6fa8dc"/>
<line x1="634.4" y1="297.2" x2="634.4" y2="300.8" stroke="#222" stroke-width="0.8"/>
<line x1="631.2" y1="297.2" x2="637.6" y2="297.2" stroke="#222" stroke-width="0.8"/>
<line x1="631.2" y1="300.8" x2="637.6" y2="300.8" stroke="#222" stroke-width="0.8"/>
<line x1="628.6" y1="299" x2="640.2" y2="299" stroke="#222" stroke-width="0.8"/>
<circle cx="647" cy="315.8" r="1.1" fill="#f0a050"/>
<circle cx="653" cy="314.9" r="1.1" fill="#f0a050"/>
<circle cx="650" cy="316.7" r="1.1" fill="#f0a050"/>
<circle cx="654" cy="313.7" r="1.1" fill="#f0a050"/>
<circle cx="649" cy="315.5" r="1.1" fill="#f0a050"/>
<line x1="650" y1="314.6" x2="650" y2="316.4" stroke="#222" stroke-width="0.8"/>
<line x1="646.8" y1="314.6" x2="653.2" y2="314.6" stroke="#222" stroke-width="0.8"/>
<line x1="646.8" y1="316.4" x2="653.2" y2="316.4" stroke="#222" stroke-width="0.8"/>
<line x1="644.2" y1="315.5" x2="655.8" y2="315.5" stroke="#222" stroke-width="0.8"/>
<circle cx="666.6" cy="342.3" r="1.1" fill="#6fa8dc"/>
<circle cx="663.6" cy="352.6" r="1.1" fill="#6fa8dc"/>
<circle cx="669.6" cy="352.6" r="1.1" fill="#6fa8dc"/>
<circle cx="666.6" cy="357.6" r="1.1" fill="#6fa8dc"/>
<circle cx="667.6" cy="351.1" r="1.1" fill="#6fa8dc"/>
<line x1="666.6" y1="348.2" x2="666.6" y2="357" stroke="#222" stroke-width="0.8"/>
<line x1="663.4" y1="348.2" x2="669.8" y2="348.2" stroke="#222" stroke-width="0.8"/>
<line x1="663.4" y1="357" x2="669.8" y2="357" stroke="#222" stroke-width="0.8"/>
<line x1="660.8" y1="352.6" x2="672.4" y2="352.6" stroke="#222" stroke-width="0.8"/>
<line x1="615.3" y1="269.2" x2="637.9" y2="269.2" stroke="#555" stroke-width="0.9"/>
<text x="626.6" y="267.6" font-size="7.6" fill="#222" text-anchor="middle">*</text>
<line x1="647.1" y1="269.2" x2="669.7" y2="269.2" stroke="#555" stroke-width="0.9"/>
<text x="658.4" y="267.6" font-size="7.6" fill="#222" text-anchor="middle">****</text>
<rect x="616" y="385.9" width="24.8" height="2.6" fill="#e99a52"/>
<rect x="646.2" y="385.9" width="25" height="2.6" fill="#62b08a"/>
<text x="623" y="394.2" font-size="8.2" fill="#222" text-anchor="end" font-style="italic" transform="rotate(-36 623 394.2)">TRV1TRV2</text>
<text x="644.2" y="392.8" font-size="8.2" fill="#222" text-anchor="end" font-style="italic" transform="rotate(-36 644.2 392.8)">V-4Dg0135144</text>
<text x="663.1" y="393.5" font-size="8.2" fill="#222" text-anchor="end" font-style="italic" transform="rotate(-36 663.1 393.5)">TRV1TRV2</text>
<text x="677.7" y="392.8" font-size="8.2" fill="#222" text-anchor="end" font-style="italic" transform="rotate(-36 677.7 392.8)">V-4Dg0135144</text>
</svg>
</body></html>
